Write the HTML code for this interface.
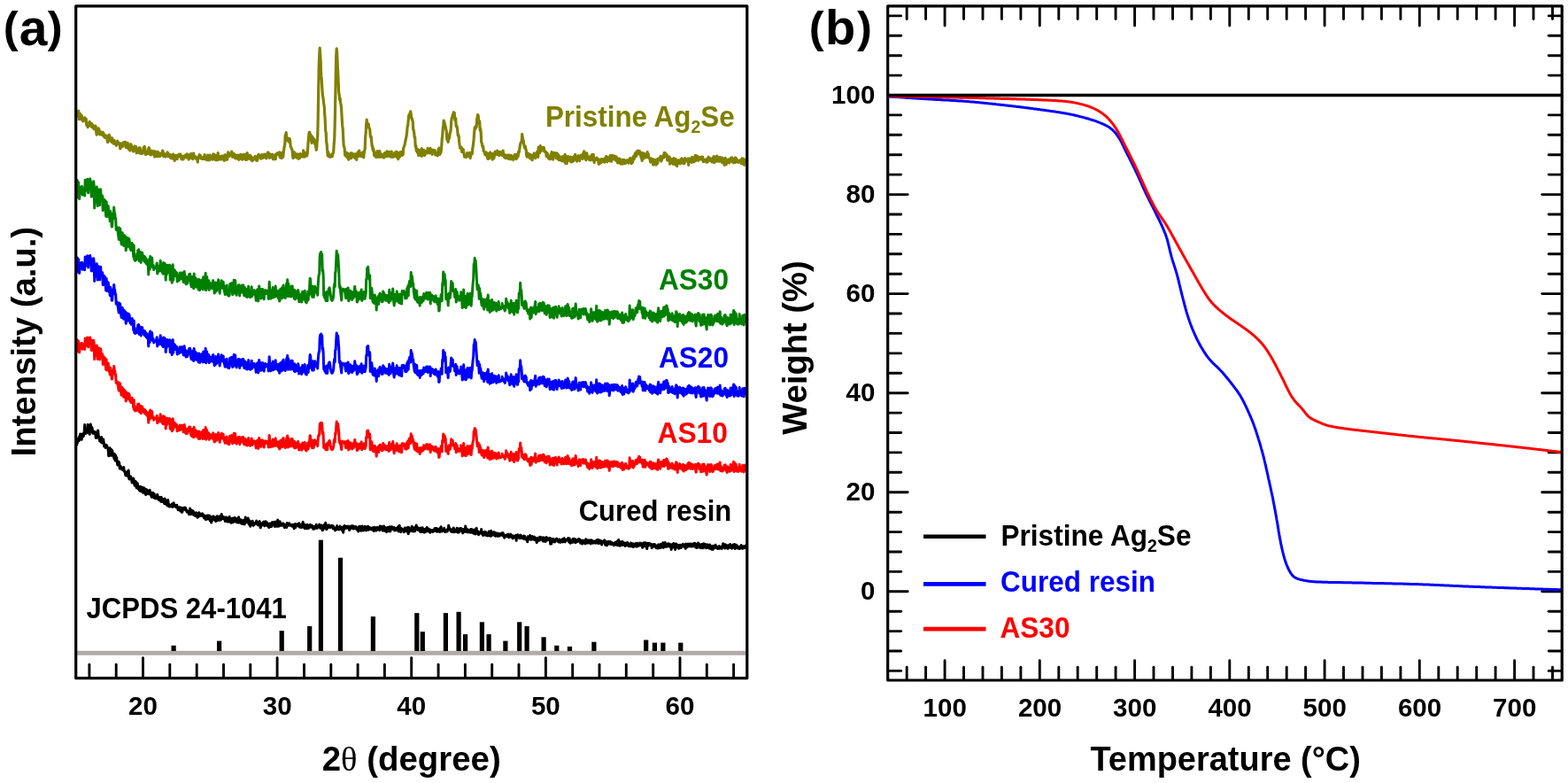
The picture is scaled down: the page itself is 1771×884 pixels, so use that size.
<!DOCTYPE html>
<html lang="en">
<head>
<meta charset="utf-8">
<title>XRD patterns and TGA curves</title>
<style>
html,body{margin:0;padding:0;background:#fff;}
body{width:1771px;height:884px;overflow:hidden;}
svg{display:block;}
</style>
</head>
<body>
<svg width="1771" height="884" viewBox="0 0 1771 884">
<rect x="0" y="0" width="1771" height="884" fill="#ffffff"/>
<g id="panelA">
<line x1="85.7" y1="737.3" x2="843.8" y2="737.3" stroke="#b0abab" stroke-width="4.9"/>
<rect x="193.5" y="728.8" width="5.2" height="6.2" fill="#000"/>
<rect x="245.0" y="723.6" width="5.2" height="11.4" fill="#000"/>
<rect x="315.6" y="712.1" width="5.2" height="22.9" fill="#000"/>
<rect x="347.1" y="706.9" width="5.2" height="28.1" fill="#000"/>
<rect x="359.8" y="609.6" width="5.2" height="125.4" fill="#000"/>
<rect x="381.9" y="629.7" width="5.2" height="105.3" fill="#000"/>
<rect x="418.8" y="696.0" width="5.2" height="39.0" fill="#000"/>
<rect x="468.2" y="692.1" width="5.2" height="42.9" fill="#000"/>
<rect x="474.7" y="713.2" width="5.2" height="21.8" fill="#000"/>
<rect x="500.8" y="692.1" width="5.2" height="42.9" fill="#000"/>
<rect x="515.5" y="690.8" width="5.2" height="44.2" fill="#000"/>
<rect x="523.0" y="716.1" width="5.2" height="18.9" fill="#000"/>
<rect x="541.8" y="702.3" width="5.2" height="32.7" fill="#000"/>
<rect x="549.5" y="716.1" width="5.2" height="18.9" fill="#000"/>
<rect x="568.3" y="723.6" width="5.2" height="11.4" fill="#000"/>
<rect x="584.1" y="702.3" width="5.2" height="32.7" fill="#000"/>
<rect x="592.5" y="706.9" width="5.2" height="28.1" fill="#000"/>
<rect x="611.5" y="719.3" width="5.2" height="15.7" fill="#000"/>
<rect x="626.2" y="728.8" width="5.2" height="6.2" fill="#000"/>
<rect x="640.9" y="729.9" width="5.2" height="5.1" fill="#000"/>
<rect x="668.3" y="724.7" width="5.2" height="10.3" fill="#000"/>
<rect x="727.1" y="722.5" width="5.2" height="12.5" fill="#000"/>
<rect x="736.8" y="725.6" width="5.2" height="9.4" fill="#000"/>
<rect x="746.3" y="725.6" width="5.2" height="9.4" fill="#000"/>
<rect x="766.2" y="725.6" width="5.2" height="9.4" fill="#000"/>
<clipPath id="clipA"><rect x="85.7" y="6.8" width="759.5999999999999" height="758.9000000000001"/></clipPath>
<g clip-path="url(#clipA)" fill="none" stroke-linejoin="round" stroke-linecap="round">
<path d="M85.7,497.6 L86.2,501.2 L86.7,502.1 L87.2,496.6 L87.7,499.5 L88.2,495.3 L88.7,497.7 L89.2,497.5 L89.7,492.8 L90.2,496.1 L90.7,490.0 L91.2,494.9 L91.7,494.0 L92.2,496.2 L92.7,489.9 L93.2,491.7 L93.7,490.4 L94.2,492.8 L94.7,490.1 L95.2,486.4 L95.7,479.5 L96.2,489.4 L96.7,484.3 L97.2,489.3 L97.7,485.3 L98.2,488.4 L98.7,487.5 L99.2,479.3 L99.7,484.2 L100.2,488.4 L100.7,481.1 L101.2,490.3 L101.7,482.8 L102.2,478.9 L102.7,481.1 L103.2,486.9 L103.7,482.4 L104.2,483.6 L104.7,489.2 L105.2,488.2 L105.7,489.2 L106.2,487.1 L106.7,489.4 L107.2,489.6 L107.7,487.8 L108.2,494.3 L108.7,489.4 L109.2,494.2 L109.7,490.0 L110.2,493.9 L110.7,485.9 L111.2,492.0 L111.7,492.8 L112.2,494.7 L112.7,498.1 L113.2,498.1 L113.7,496.4 L114.2,499.2 L114.7,493.5 L115.2,500.1 L115.7,496.0 L116.2,496.0 L116.7,495.9 L117.2,499.2 L117.7,504.0 L118.2,504.2 L118.7,502.3 L119.2,505.5 L119.7,502.3 L120.2,502.6 L120.7,503.1 L121.2,504.7 L121.7,505.5 L122.2,508.0 L122.7,514.7 L123.2,511.3 L123.7,510.9 L124.2,505.8 L124.7,510.5 L125.2,514.2 L125.7,507.4 L126.2,514.3 L126.7,508.5 L127.2,512.4 L127.7,512.1 L128.2,512.0 L128.7,516.7 L129.2,518.2 L129.7,512.7 L130.2,520.1 L130.7,514.3 L131.2,518.3 L131.7,516.4 L132.2,521.4 L132.7,524.9 L133.2,524.0 L133.7,523.9 L134.2,521.3 L134.7,522.3 L135.2,528.8 L135.7,529.1 L136.2,526.2 L136.7,528.7 L137.2,528.1 L137.7,528.5 L138.2,530.3 L138.7,530.7 L139.2,530.7 L139.7,527.6 L140.2,531.5 L140.7,532.8 L141.2,532.9 L141.7,536.4 L142.2,532.7 L142.7,535.4 L143.2,537.3 L143.7,532.7 L144.2,534.4 L144.7,535.6 L145.2,530.9 L145.7,540.4 L146.2,540.9 L146.7,537.8 L147.2,540.4 L147.7,538.0 L148.2,540.7 L148.7,542.2 L149.2,544.9 L149.7,544.2 L150.2,542.7 L150.7,540.1 L151.2,542.2 L151.7,546.8 L152.2,548.1 L152.7,546.1 L153.2,543.5 L153.7,545.9 L154.2,550.8 L154.7,551.0 L155.2,545.4 L155.7,549.2 L156.2,551.8 L156.7,550.1 L157.2,552.5 L157.7,554.0 L158.2,549.2 L158.7,554.4 L159.2,551.1 L159.7,549.8 L160.2,550.6 L160.7,555.0 L161.2,556.1 L161.7,556.2 L162.2,550.4 L162.7,555.1 L163.2,556.1 L163.7,551.7 L164.2,557.5 L164.7,558.4 L165.2,552.4 L165.7,553.0 L166.2,553.7 L166.7,555.8 L167.2,557.7 L167.7,554.4 L168.2,553.8 L168.7,554.8 L169.2,553.3 L169.7,557.5 L170.2,559.0 L170.7,556.3 L171.2,561.2 L171.7,560.4 L172.2,557.6 L172.7,556.4 L173.2,557.2 L173.7,561.9 L174.2,557.6 L174.7,562.4 L175.2,560.6 L175.7,560.2 L176.2,562.9 L176.7,562.4 L177.2,561.2 L177.7,558.3 L178.2,560.3 L178.7,562.5 L179.2,564.4 L179.7,564.1 L180.2,561.5 L180.7,562.2 L181.2,563.7 L181.7,566.2 L182.2,561.2 L182.7,566.5 L183.2,563.2 L183.7,563.2 L184.2,565.6 L184.7,566.5 L185.2,566.7 L185.7,568.6 L186.2,562.9 L186.7,566.9 L187.2,566.7 L187.7,569.4 L188.2,565.4 L188.7,567.3 L189.2,571.0 L189.7,564.5 L190.2,569.4 L190.7,569.3 L191.2,572.1 L191.7,570.2 L192.2,571.2 L192.7,571.7 L193.2,570.2 L193.7,571.9 L194.2,569.0 L194.7,571.6 L195.2,572.3 L195.7,571.9 L196.2,567.7 L196.7,570.3 L197.2,571.1 L197.7,570.6 L198.2,572.0 L198.7,570.8 L199.2,573.0 L199.7,570.2 L200.2,572.3 L200.7,573.0 L201.2,575.7 L201.7,575.6 L202.2,575.6 L202.7,572.8 L203.2,574.7 L203.7,576.8 L204.2,573.0 L204.7,577.3 L205.2,578.3 L205.7,578.2 L206.2,576.6 L206.7,573.5 L207.2,573.3 L207.7,575.3 L208.2,575.3 L208.7,573.2 L209.2,573.0 L209.7,573.7 L210.2,576.6 L210.7,575.7 L211.2,578.1 L211.7,576.7 L212.2,577.6 L212.7,579.0 L213.2,578.8 L213.7,580.8 L214.2,578.4 L214.7,574.1 L215.2,580.4 L215.7,580.4 L216.2,578.1 L216.7,576.3 L217.2,578.6 L217.7,580.3 L218.2,576.9 L218.7,581.4 L219.2,578.5 L219.7,581.2 L220.2,579.5 L220.7,582.6 L221.2,580.0 L221.7,578.9 L222.2,582.6 L222.7,583.4 L223.2,584.3 L223.7,582.5 L224.2,583.2 L224.7,578.7 L225.2,580.5 L225.7,582.4 L226.2,579.9 L226.7,581.0 L227.2,582.2 L227.7,581.2 L228.2,580.9 L228.7,579.9 L229.2,583.1 L229.7,582.2 L230.2,581.5 L230.7,585.0 L231.2,584.4 L231.7,582.4 L232.2,586.3 L232.7,586.5 L233.2,582.9 L233.7,584.9 L234.2,582.1 L234.7,585.9 L235.2,582.0 L235.7,582.2 L236.2,585.8 L236.7,582.3 L237.2,587.8 L237.7,583.5 L238.2,587.1 L238.7,589.9 L239.2,583.8 L239.7,587.7 L240.2,586.1 L240.7,583.0 L241.2,582.9 L241.7,584.4 L242.2,584.4 L242.7,587.1 L243.2,587.6 L243.7,588.5 L244.2,583.8 L244.7,588.0 L245.2,582.7 L245.7,583.9 L246.2,587.0 L246.7,583.5 L247.2,584.9 L247.7,587.4 L248.2,583.0 L248.7,586.9 L249.2,587.1 L249.7,586.5 L250.2,580.5 L250.7,584.8 L251.2,583.2 L251.7,583.3 L252.2,585.6 L252.7,585.0 L253.2,586.2 L253.7,584.0 L254.2,588.4 L254.7,586.9 L255.2,587.0 L255.7,583.9 L256.2,584.3 L256.7,589.0 L257.2,588.4 L257.7,586.0 L258.2,589.1 L258.7,588.8 L259.2,583.3 L259.7,589.0 L260.2,587.0 L260.7,587.6 L261.2,590.3 L261.7,585.6 L262.2,588.4 L262.7,589.4 L263.2,585.0 L263.7,589.4 L264.2,585.9 L264.7,586.2 L265.2,584.5 L265.7,587.6 L266.2,587.5 L266.7,589.5 L267.2,585.8 L267.7,585.5 L268.2,587.4 L268.7,590.0 L269.2,585.3 L269.7,583.8 L270.2,590.0 L270.7,589.6 L271.2,588.4 L271.7,587.7 L272.2,586.8 L272.7,591.2 L273.2,588.6 L273.7,590.3 L274.2,591.4 L274.7,587.4 L275.2,587.5 L275.7,591.7 L276.2,591.9 L276.7,588.4 L277.2,584.1 L277.7,586.2 L278.2,588.1 L278.7,589.8 L279.2,587.2 L279.7,586.6 L280.2,585.0 L280.7,588.8 L281.2,591.9 L281.7,590.7 L282.2,588.0 L282.7,594.2 L283.2,590.7 L283.7,589.7 L284.2,591.4 L284.7,592.1 L285.2,588.2 L285.7,591.8 L286.2,593.4 L286.7,592.8 L287.2,592.4 L287.7,590.6 L288.2,591.1 L288.7,590.7 L289.2,590.1 L289.7,587.9 L290.2,591.5 L290.7,589.5 L291.2,592.9 L291.7,589.5 L292.2,589.4 L292.7,589.6 L293.2,588.6 L293.7,592.9 L294.2,595.8 L294.7,593.9 L295.2,593.4 L295.7,593.0 L296.2,590.9 L296.7,590.4 L297.2,589.6 L297.7,592.0 L298.2,588.9 L298.7,593.8 L299.2,589.9 L299.7,592.3 L300.2,588.8 L300.7,592.8 L301.2,593.1 L301.7,590.1 L302.2,593.7 L302.7,591.6 L303.2,592.9 L303.7,595.5 L304.2,595.1 L304.7,591.1 L305.2,593.9 L305.7,594.3 L306.2,594.5 L306.7,594.5 L307.2,589.8 L307.7,591.9 L308.2,590.7 L308.7,589.5 L309.2,589.8 L309.7,592.2 L310.2,594.3 L310.7,594.4 L311.2,589.1 L311.7,592.9 L312.2,590.0 L312.7,592.9 L313.2,594.4 L313.7,587.1 L314.2,593.9 L314.7,590.6 L315.2,594.1 L315.7,590.2 L316.2,588.9 L316.7,593.3 L317.2,592.2 L317.7,592.4 L318.2,593.3 L318.7,592.7 L319.2,591.0 L319.7,591.5 L320.2,591.2 L320.7,593.1 L321.2,595.5 L321.7,593.8 L322.2,593.7 L322.7,594.5 L323.2,592.4 L323.7,595.4 L324.2,590.4 L324.7,593.5 L325.2,591.6 L325.7,592.7 L326.2,592.5 L326.7,590.8 L327.2,593.2 L327.7,592.6 L328.2,593.2 L328.7,592.8 L329.2,592.4 L329.7,594.2 L330.2,592.8 L330.7,593.4 L331.2,592.3 L331.7,593.0 L332.2,596.7 L332.7,592.3 L333.2,591.7 L333.7,595.6 L334.2,592.1 L334.7,592.1 L335.2,591.9 L335.7,593.1 L336.2,593.5 L336.7,594.0 L337.2,592.6 L337.7,590.8 L338.2,593.8 L338.7,595.2 L339.2,594.9 L339.7,592.2 L340.2,595.5 L340.7,594.5 L341.2,593.8 L341.7,591.5 L342.2,589.4 L342.7,595.3 L343.2,592.4 L343.7,592.0 L344.2,596.7 L344.7,595.4 L345.2,593.8 L345.7,594.9 L346.2,592.9 L346.7,596.8 L347.2,592.2 L347.7,595.4 L348.2,596.2 L348.7,596.3 L349.2,594.9 L349.7,594.0 L350.2,592.5 L350.7,594.9 L351.2,595.2 L351.7,593.0 L352.2,594.4 L352.7,593.5 L353.2,594.9 L353.7,597.2 L354.2,594.5 L354.7,596.4 L355.2,597.0 L355.7,594.8 L356.2,594.6 L356.7,594.1 L357.2,592.3 L357.7,596.2 L358.2,596.2 L358.7,595.6 L359.2,594.3 L359.7,594.1 L360.2,593.8 L360.7,592.1 L361.2,593.7 L361.7,596.3 L362.2,594.7 L362.7,594.6 L363.2,593.0 L363.7,595.6 L364.2,598.8 L364.7,594.1 L365.2,597.6 L365.7,595.6 L366.2,592.4 L366.7,595.2 L367.2,594.9 L367.7,590.2 L368.2,593.9 L368.7,597.8 L369.2,597.2 L369.7,594.4 L370.2,596.1 L370.7,593.1 L371.2,594.9 L371.7,593.0 L372.2,595.0 L372.7,595.5 L373.2,594.9 L373.7,595.2 L374.2,593.5 L374.7,594.7 L375.2,593.8 L375.7,593.5 L376.2,596.9 L376.7,594.3 L377.2,596.8 L377.7,595.8 L378.2,596.2 L378.7,598.9 L379.2,596.9 L379.7,597.8 L380.2,597.1 L380.7,593.4 L381.2,597.5 L381.7,595.3 L382.2,597.8 L382.7,595.6 L383.2,597.9 L383.7,596.8 L384.2,594.1 L384.7,595.4 L385.2,595.1 L385.7,595.5 L386.2,598.4 L386.7,598.9 L387.2,595.6 L387.7,601.2 L388.2,594.3 L388.7,597.6 L389.2,593.5 L389.7,594.5 L390.2,596.2 L390.7,595.4 L391.2,594.4 L391.7,596.2 L392.2,595.2 L392.7,595.0 L393.2,594.1 L393.7,595.7 L394.2,596.8 L394.7,598.5 L395.2,596.6 L395.7,594.4 L396.2,594.2 L396.7,596.1 L397.2,593.8 L397.7,596.3 L398.2,595.7 L398.7,593.8 L399.2,597.0 L399.7,596.4 L400.2,595.0 L400.7,596.0 L401.2,594.6 L401.7,596.7 L402.2,594.6 L402.7,597.1 L403.2,598.0 L403.7,597.7 L404.2,596.7 L404.7,600.1 L405.2,596.6 L405.7,594.2 L406.2,598.3 L406.7,596.0 L407.2,594.5 L407.7,599.3 L408.2,597.9 L408.7,598.3 L409.2,594.1 L409.7,596.7 L410.2,599.0 L410.7,597.0 L411.2,595.5 L411.7,598.6 L412.2,594.3 L412.7,597.0 L413.2,598.1 L413.7,598.8 L414.2,596.9 L414.7,595.1 L415.2,594.4 L415.7,594.2 L416.2,598.3 L416.7,596.7 L417.2,595.4 L417.7,596.9 L418.2,597.5 L418.7,597.5 L419.2,596.1 L419.7,596.2 L420.2,598.1 L420.7,596.9 L421.2,595.7 L421.7,595.7 L422.2,599.4 L422.7,597.8 L423.2,595.3 L423.7,599.1 L424.2,596.6 L424.7,596.1 L425.2,599.0 L425.7,595.6 L426.2,595.3 L426.7,596.1 L427.2,597.6 L427.7,596.0 L428.2,595.9 L428.7,598.7 L429.2,593.9 L429.7,595.2 L430.2,594.9 L430.7,596.9 L431.2,594.2 L431.7,596.9 L432.2,599.1 L432.7,596.4 L433.2,597.3 L433.7,594.1 L434.2,599.3 L434.7,598.3 L435.2,597.4 L435.7,595.8 L436.2,599.8 L436.7,600.6 L437.2,596.8 L437.7,597.8 L438.2,595.2 L438.7,599.5 L439.2,597.8 L439.7,596.0 L440.2,594.9 L440.7,600.0 L441.2,595.0 L441.7,594.8 L442.2,597.8 L442.7,594.7 L443.2,597.5 L443.7,597.0 L444.2,596.7 L444.7,596.7 L445.2,595.5 L445.7,599.1 L446.2,597.0 L446.7,596.6 L447.2,597.4 L447.7,598.4 L448.2,596.4 L448.7,598.1 L449.2,595.8 L449.7,594.5 L450.2,599.9 L450.7,596.1 L451.2,593.3 L451.7,599.6 L452.2,598.7 L452.7,600.6 L453.2,596.6 L453.7,597.7 L454.2,597.2 L454.7,597.7 L455.2,598.4 L455.7,598.9 L456.2,600.8 L456.7,597.8 L457.2,596.0 L457.7,596.2 L458.2,597.1 L458.7,599.7 L459.2,596.2 L459.7,596.7 L460.2,600.2 L460.7,595.3 L461.2,602.7 L461.7,595.4 L462.2,600.5 L462.7,596.7 L463.2,598.3 L463.7,596.7 L464.2,596.7 L464.7,599.1 L465.2,594.2 L465.7,599.8 L466.2,595.0 L466.7,599.6 L467.2,599.5 L467.7,600.0 L468.2,599.5 L468.7,599.6 L469.2,595.2 L469.7,595.3 L470.2,592.9 L470.7,596.4 L471.2,595.2 L471.7,598.2 L472.2,596.5 L472.7,596.1 L473.2,598.7 L473.7,598.6 L474.2,597.0 L474.7,600.4 L475.2,595.9 L475.7,599.9 L476.2,600.4 L476.7,597.8 L477.2,595.8 L477.7,600.3 L478.2,599.3 L478.7,600.9 L479.2,597.4 L479.7,601.0 L480.2,600.3 L480.7,598.0 L481.2,596.8 L481.7,600.1 L482.2,595.4 L482.7,597.8 L483.2,599.5 L483.7,598.4 L484.2,598.0 L484.7,597.2 L485.2,601.1 L485.7,601.2 L486.2,598.3 L486.7,599.3 L487.2,598.9 L487.7,598.7 L488.2,600.2 L488.7,600.5 L489.2,598.5 L489.7,598.1 L490.2,598.3 L490.7,599.6 L491.2,596.5 L491.7,599.5 L492.2,596.8 L492.7,596.5 L493.2,596.4 L493.7,600.3 L494.2,600.0 L494.7,599.8 L495.2,597.7 L495.7,599.1 L496.2,597.3 L496.7,600.5 L497.2,596.0 L497.7,597.7 L498.2,594.7 L498.7,598.4 L499.2,600.0 L499.7,599.4 L500.2,598.2 L500.7,598.1 L501.2,598.0 L501.7,596.3 L502.2,599.6 L502.7,600.5 L503.2,600.2 L503.7,600.1 L504.2,598.9 L504.7,599.4 L505.2,600.0 L505.7,597.2 L506.2,597.9 L506.7,593.2 L507.2,595.5 L507.7,597.1 L508.2,597.2 L508.7,598.7 L509.2,599.9 L509.7,598.1 L510.2,597.8 L510.7,600.5 L511.2,599.5 L511.7,600.4 L512.2,596.1 L512.7,596.6 L513.2,600.7 L513.7,598.4 L514.2,598.6 L514.7,600.3 L515.2,600.3 L515.7,600.0 L516.2,596.3 L516.7,600.4 L517.2,601.2 L517.7,597.0 L518.2,596.9 L518.7,600.7 L519.2,596.9 L519.7,597.9 L520.2,596.4 L520.7,596.4 L521.2,599.1 L521.7,599.5 L522.2,599.7 L522.7,601.8 L523.2,597.6 L523.7,598.0 L524.2,597.3 L524.7,600.4 L525.2,599.8 L525.7,594.1 L526.2,596.7 L526.7,600.5 L527.2,598.4 L527.7,597.6 L528.2,597.7 L528.7,601.0 L529.2,599.1 L529.7,599.9 L530.2,598.9 L530.7,599.9 L531.2,601.1 L531.7,597.6 L532.2,599.7 L532.7,597.4 L533.2,601.2 L533.7,600.9 L534.2,601.2 L534.7,598.6 L535.2,602.4 L535.7,598.1 L536.2,601.0 L536.7,600.1 L537.2,603.0 L537.7,600.3 L538.2,596.3 L538.7,602.3 L539.2,599.2 L539.7,601.8 L540.2,600.1 L540.7,603.7 L541.2,602.6 L541.7,602.3 L542.2,601.2 L542.7,600.6 L543.2,601.0 L543.7,597.6 L544.2,601.8 L544.7,603.1 L545.2,601.9 L545.7,604.5 L546.2,600.9 L546.7,601.4 L547.2,601.9 L547.7,600.4 L548.2,604.0 L548.7,600.7 L549.2,604.6 L549.7,603.2 L550.2,603.5 L550.7,602.2 L551.2,604.9 L551.7,604.0 L552.2,599.9 L552.7,604.5 L553.2,604.8 L553.7,600.8 L554.2,605.3 L554.7,599.3 L555.2,605.0 L555.7,602.9 L556.2,602.7 L556.7,602.3 L557.2,603.3 L557.7,600.8 L558.2,602.0 L558.7,604.7 L559.2,601.2 L559.7,605.2 L560.2,602.7 L560.7,604.9 L561.2,604.4 L561.7,602.0 L562.2,605.4 L562.7,605.2 L563.2,602.4 L563.7,603.2 L564.2,605.1 L564.7,603.5 L565.2,602.4 L565.7,602.5 L566.2,602.8 L566.7,604.2 L567.2,601.7 L567.7,604.5 L568.2,601.8 L568.7,605.3 L569.2,604.6 L569.7,607.2 L570.2,605.8 L570.7,604.4 L571.2,604.6 L571.7,604.5 L572.2,605.1 L572.7,605.7 L573.2,603.5 L573.7,603.1 L574.2,603.8 L574.7,606.8 L575.2,605.3 L575.7,606.4 L576.2,604.8 L576.7,603.1 L577.2,604.1 L577.7,605.0 L578.2,604.3 L578.7,607.4 L579.2,607.8 L579.7,606.6 L580.2,605.3 L580.7,605.3 L581.2,606.5 L581.7,606.9 L582.2,605.4 L582.7,604.3 L583.2,610.3 L583.7,604.3 L584.2,605.3 L584.7,603.7 L585.2,604.6 L585.7,605.5 L586.2,606.5 L586.7,607.7 L587.2,605.2 L587.7,604.1 L588.2,604.2 L588.7,607.6 L589.2,606.4 L589.7,605.9 L590.2,606.8 L590.7,606.8 L591.2,608.3 L591.7,605.1 L592.2,606.8 L592.7,605.3 L593.2,608.7 L593.7,609.0 L594.2,608.4 L594.7,608.2 L595.2,609.3 L595.7,611.8 L596.2,605.8 L596.7,608.2 L597.2,606.2 L597.7,608.7 L598.2,608.5 L598.7,604.5 L599.2,609.2 L599.7,609.2 L600.2,608.4 L600.7,608.9 L601.2,605.5 L601.7,606.0 L602.2,606.2 L602.7,608.9 L603.2,606.7 L603.7,606.2 L604.2,609.8 L604.7,607.3 L605.2,609.6 L605.7,608.2 L606.2,612.7 L606.7,610.0 L607.2,607.6 L607.7,610.6 L608.2,607.6 L608.7,608.7 L609.2,610.2 L609.7,606.3 L610.2,608.1 L610.7,608.0 L611.2,608.9 L611.7,606.7 L612.2,607.7 L612.7,607.4 L613.2,611.1 L613.7,608.5 L614.2,606.9 L614.7,611.0 L615.2,610.0 L615.7,607.4 L616.2,611.4 L616.7,609.2 L617.2,606.5 L617.7,607.3 L618.2,607.7 L618.7,609.8 L619.2,609.6 L619.7,608.5 L620.2,607.9 L620.7,607.5 L621.2,607.4 L621.7,614.2 L622.2,608.0 L622.7,613.9 L623.2,610.8 L623.7,608.9 L624.2,609.0 L624.7,608.4 L625.2,609.2 L625.7,611.8 L626.2,610.4 L626.7,611.9 L627.2,608.9 L627.7,608.8 L628.2,609.5 L628.7,608.1 L629.2,609.4 L629.7,610.6 L630.2,610.8 L630.7,611.9 L631.2,612.0 L631.7,609.1 L632.2,611.0 L632.7,612.3 L633.2,612.2 L633.7,609.8 L634.2,609.7 L634.7,609.7 L635.2,608.9 L635.7,611.9 L636.2,608.2 L636.7,608.9 L637.2,607.7 L637.7,611.1 L638.2,611.8 L638.7,610.4 L639.2,609.7 L639.7,609.4 L640.2,609.9 L640.7,609.9 L641.2,608.2 L641.7,607.5 L642.2,609.7 L642.7,612.0 L643.2,608.1 L643.7,610.2 L644.2,613.2 L644.7,610.6 L645.2,612.2 L645.7,611.2 L646.2,609.7 L646.7,612.4 L647.2,608.4 L647.7,610.8 L648.2,608.2 L648.7,612.1 L649.2,608.6 L649.7,609.8 L650.2,612.7 L650.7,609.4 L651.2,611.3 L651.7,609.7 L652.2,611.5 L652.7,609.5 L653.2,608.6 L653.7,608.5 L654.2,608.6 L654.7,611.6 L655.2,609.1 L655.7,613.2 L656.2,610.7 L656.7,611.7 L657.2,610.3 L657.7,614.0 L658.2,611.0 L658.7,610.2 L659.2,610.7 L659.7,611.0 L660.2,613.0 L660.7,613.8 L661.2,612.1 L661.7,608.7 L662.2,613.2 L662.7,609.4 L663.2,613.1 L663.7,611.0 L664.2,613.0 L664.7,610.0 L665.2,612.4 L665.7,609.9 L666.2,613.0 L666.7,610.0 L667.2,613.9 L667.7,609.7 L668.2,612.9 L668.7,611.5 L669.2,610.3 L669.7,613.2 L670.2,612.5 L670.7,611.9 L671.2,611.9 L671.7,611.1 L672.2,612.2 L672.7,613.3 L673.2,610.6 L673.7,611.9 L674.2,609.9 L674.7,610.8 L675.2,609.2 L675.7,613.6 L676.2,612.3 L676.7,612.5 L677.2,609.9 L677.7,613.0 L678.2,613.4 L678.7,610.4 L679.2,611.7 L679.7,615.0 L680.2,612.1 L680.7,611.2 L681.2,612.4 L681.7,611.4 L682.2,610.9 L682.7,609.8 L683.2,611.2 L683.7,615.3 L684.2,611.8 L684.7,611.5 L685.2,611.6 L685.7,615.7 L686.2,613.6 L686.7,614.1 L687.2,611.3 L687.7,613.2 L688.2,611.9 L688.7,614.0 L689.2,611.5 L689.7,614.3 L690.2,614.5 L690.7,612.2 L691.2,613.8 L691.7,613.8 L692.2,614.1 L692.7,615.0 L693.2,615.7 L693.7,613.1 L694.2,613.6 L694.7,612.5 L695.2,612.5 L695.7,615.1 L696.2,612.8 L696.7,611.3 L697.2,613.6 L697.7,615.7 L698.2,611.6 L698.7,609.4 L699.2,614.4 L699.7,615.6 L700.2,616.1 L700.7,612.9 L701.2,611.7 L701.7,611.8 L702.2,613.6 L702.7,615.5 L703.2,611.6 L703.7,613.2 L704.2,615.3 L704.7,613.0 L705.2,613.3 L705.7,613.0 L706.2,616.5 L706.7,613.7 L707.2,613.2 L707.7,615.1 L708.2,615.7 L708.7,612.6 L709.2,613.7 L709.7,613.5 L710.2,616.7 L710.7,616.1 L711.2,615.0 L711.7,615.0 L712.2,616.7 L712.7,613.1 L713.2,616.8 L713.7,616.0 L714.2,615.0 L714.7,613.9 L715.2,617.5 L715.7,614.0 L716.2,615.9 L716.7,614.8 L717.2,616.8 L717.7,615.5 L718.2,613.6 L718.7,615.4 L719.2,617.2 L719.7,613.3 L720.2,613.9 L720.7,616.3 L721.2,616.2 L721.7,615.4 L722.2,614.5 L722.7,613.0 L723.2,615.8 L723.7,613.8 L724.2,613.6 L724.7,615.0 L725.2,615.5 L725.7,618.3 L726.2,616.9 L726.7,612.9 L727.2,615.8 L727.7,614.8 L728.2,612.9 L728.7,616.8 L729.2,612.7 L729.7,616.9 L730.2,614.7 L730.7,619.6 L731.2,616.3 L731.7,613.3 L732.2,614.6 L732.7,615.8 L733.2,613.9 L733.7,613.6 L734.2,615.4 L734.7,615.3 L735.2,614.2 L735.7,614.5 L736.2,618.5 L736.7,616.9 L737.2,617.8 L737.7,614.6 L738.2,614.5 L738.7,615.5 L739.2,616.2 L739.7,614.6 L740.2,616.9 L740.7,618.3 L741.2,617.5 L741.7,618.8 L742.2,616.0 L742.7,618.9 L743.2,616.6 L743.7,614.9 L744.2,615.4 L744.7,618.8 L745.2,615.9 L745.7,614.8 L746.2,614.4 L746.7,618.3 L747.2,615.0 L747.7,617.3 L748.2,614.6 L748.7,612.8 L749.2,618.3 L749.7,617.6 L750.2,614.5 L750.7,615.7 L751.2,612.4 L751.7,617.3 L752.2,614.7 L752.7,616.1 L753.2,617.2 L753.7,614.1 L754.2,614.9 L754.7,616.8 L755.2,613.8 L755.7,615.2 L756.2,616.9 L756.7,614.5 L757.2,616.5 L757.7,615.2 L758.2,620.4 L758.7,615.3 L759.2,615.2 L759.7,614.4 L760.2,618.0 L760.7,613.6 L761.2,614.5 L761.7,613.9 L762.2,615.0 L762.7,620.5 L763.2,618.0 L763.7,613.9 L764.2,614.5 L764.7,615.9 L765.2,617.8 L765.7,617.0 L766.2,615.5 L766.7,619.3 L767.2,615.4 L767.7,618.4 L768.2,615.3 L768.7,617.2 L769.2,618.5 L769.7,616.1 L770.2,615.5 L770.7,616.7 L771.2,614.2 L771.7,614.8 L772.2,617.1 L772.7,615.7 L773.2,615.1 L773.7,615.7 L774.2,619.3 L774.7,614.1 L775.2,617.7 L775.7,617.9 L776.2,617.4 L776.7,615.2 L777.2,614.0 L777.7,615.7 L778.2,616.8 L778.7,614.4 L779.2,614.1 L779.7,614.0 L780.2,617.1 L780.7,615.5 L781.2,614.2 L781.7,615.9 L782.2,616.9 L782.7,615.9 L783.2,616.6 L783.7,613.6 L784.2,616.0 L784.7,613.3 L785.2,616.8 L785.7,617.7 L786.2,614.2 L786.7,618.5 L787.2,615.7 L787.7,618.2 L788.2,617.9 L788.7,612.9 L789.2,615.8 L789.7,617.7 L790.2,614.6 L790.7,615.1 L791.2,618.5 L791.7,617.4 L792.2,618.7 L792.7,614.6 L793.2,618.3 L793.7,618.7 L794.2,617.3 L794.7,613.7 L795.2,615.8 L795.7,618.0 L796.2,614.5 L796.7,614.4 L797.2,615.4 L797.7,618.7 L798.2,618.1 L798.7,616.2 L799.2,614.8 L799.7,618.2 L800.2,616.6 L800.7,618.2 L801.2,619.2 L801.7,615.0 L802.2,617.6 L802.7,617.0 L803.2,619.7 L803.7,616.7 L804.2,620.2 L804.7,619.8 L805.2,620.2 L805.7,616.3 L806.2,618.9 L806.7,618.8 L807.2,618.2 L807.7,616.6 L808.2,615.2 L808.7,618.4 L809.2,618.5 L809.7,617.3 L810.2,617.7 L810.7,619.5 L811.2,617.5 L811.7,617.0 L812.2,616.6 L812.7,619.3 L813.2,618.9 L813.7,617.4 L814.2,618.2 L814.7,617.5 L815.2,619.5 L815.7,616.7 L816.2,616.0 L816.7,613.7 L817.2,615.6 L817.7,617.3 L818.2,615.1 L818.7,619.0 L819.2,614.8 L819.7,616.5 L820.2,617.9 L820.7,615.8 L821.2,616.5 L821.7,619.3 L822.2,619.3 L822.7,615.8 L823.2,618.0 L823.7,618.2 L824.2,616.9 L824.7,614.4 L825.2,617.8 L825.7,618.5 L826.2,618.1 L826.7,619.2 L827.2,617.4 L827.7,615.1 L828.2,614.9 L828.7,615.0 L829.2,618.1 L829.7,614.6 L830.2,619.6 L830.7,615.1 L831.2,615.2 L831.7,615.2 L832.2,616.3 L832.7,616.5 L833.2,618.9 L833.7,617.3 L834.2,619.1 L834.7,617.7 L835.2,619.5 L835.7,619.5 L836.2,617.0 L836.7,618.9 L837.2,615.4 L837.7,618.6 L838.2,617.5 L838.7,619.3 L839.2,617.8 L839.7,616.7 L840.2,617.3 L840.7,618.7 L841.2,618.2 L841.7,617.0 L842.2,616.1 L842.7,617.9 L843.2,615.5 L843.7,617.7" stroke="#000000" stroke-width="3.0"/>
<path d="M85.7,395.8 L86.2,392.8 L86.7,393.8 L87.2,383.7 L87.7,385.0 L88.2,397.0 L88.7,384.9 L89.2,392.8 L89.7,397.9 L90.2,392.6 L90.7,388.7 L91.2,391.3 L91.7,392.7 L92.2,387.5 L92.7,387.7 L93.2,394.2 L93.7,391.9 L94.2,389.1 L94.7,393.2 L95.2,388.7 L95.7,394.4 L96.2,382.0 L96.7,390.4 L97.2,384.6 L97.7,382.3 L98.2,386.0 L98.7,381.0 L99.2,390.1 L99.7,391.9 L100.2,381.6 L100.7,387.0 L101.2,384.0 L101.7,380.9 L102.2,383.2 L102.7,386.2 L103.2,395.5 L103.7,387.6 L104.2,384.5 L104.7,391.2 L105.2,395.7 L105.7,384.2 L106.2,387.6 L106.7,405.7 L107.2,393.8 L107.7,401.4 L108.2,398.9 L108.7,394.1 L109.2,389.9 L109.7,392.6 L110.2,405.4 L110.7,398.1 L111.2,401.8 L111.7,393.1 L112.2,393.5 L112.7,405.9 L113.2,394.4 L113.7,393.9 L114.2,401.1 L114.7,399.1 L115.2,401.2 L115.7,399.7 L116.2,411.5 L116.7,408.4 L117.2,402.7 L117.7,408.5 L118.2,405.6 L118.7,404.3 L119.2,412.5 L119.7,417.3 L120.2,406.1 L120.7,417.9 L121.2,410.6 L121.7,416.7 L122.2,410.0 L122.7,414.2 L123.2,419.3 L123.7,417.3 L124.2,422.9 L124.7,415.2 L125.2,417.5 L125.7,417.6 L126.2,427.9 L126.7,427.9 L127.2,420.4 L127.7,422.2 L128.2,421.1 L128.7,413.6 L129.2,418.0 L129.7,418.8 L130.2,423.1 L130.7,423.1 L131.2,432.3 L131.7,432.1 L132.2,430.6 L132.7,433.2 L133.2,435.1 L133.7,437.8 L134.2,441.1 L134.7,432.1 L135.2,438.8 L135.7,433.2 L136.2,437.9 L136.7,443.5 L137.2,446.2 L137.7,445.6 L138.2,437.4 L138.7,442.1 L139.2,440.0 L139.7,448.3 L140.2,440.1 L140.7,441.8 L141.2,444.2 L141.7,441.8 L142.2,452.9 L142.7,450.6 L143.2,444.8 L143.7,448.8 L144.2,443.6 L144.7,450.5 L145.2,446.5 L145.7,444.7 L146.2,446.1 L146.7,451.8 L147.2,453.4 L147.7,450.3 L148.2,454.6 L148.7,451.4 L149.2,449.2 L149.7,451.9 L150.2,453.5 L150.7,460.4 L151.2,451.4 L151.7,462.9 L152.2,458.3 L152.7,463.9 L153.2,463.7 L153.7,461.5 L154.2,462.1 L154.7,463.2 L155.2,462.2 L155.7,456.3 L156.2,460.6 L156.7,455.9 L157.2,465.0 L157.7,464.2 L158.2,458.1 L158.7,464.6 L159.2,466.6 L159.7,458.8 L160.2,459.6 L160.7,459.1 L161.2,462.6 L161.7,464.1 L162.2,461.9 L162.7,466.0 L163.2,466.4 L163.7,462.6 L164.2,467.2 L164.7,464.1 L165.2,468.3 L165.7,465.2 L166.2,469.2 L166.7,466.5 L167.2,467.4 L167.7,477.2 L168.2,468.1 L168.7,465.3 L169.2,473.4 L169.7,463.1 L170.2,465.9 L170.7,468.7 L171.2,471.0 L171.7,464.6 L172.2,472.0 L172.7,471.9 L173.2,470.6 L173.7,474.2 L174.2,473.1 L174.7,473.2 L175.2,472.7 L175.7,472.5 L176.2,472.4 L176.7,471.3 L177.2,469.2 L177.7,477.7 L178.2,475.6 L178.7,476.1 L179.2,473.7 L179.7,476.0 L180.2,471.9 L180.7,472.8 L181.2,467.8 L181.7,472.6 L182.2,476.0 L182.7,470.5 L183.2,477.5 L183.7,474.4 L184.2,478.7 L184.7,469.8 L185.2,478.4 L185.7,473.2 L186.2,470.7 L186.7,474.9 L187.2,483.9 L187.7,475.1 L188.2,479.8 L188.7,472.3 L189.2,478.3 L189.7,472.5 L190.2,478.1 L190.7,477.9 L191.2,473.9 L191.7,472.6 L192.2,484.3 L192.7,475.4 L193.2,473.8 L193.7,474.3 L194.2,486.8 L194.7,484.0 L195.2,472.7 L195.7,485.0 L196.2,480.7 L196.7,476.8 L197.2,480.3 L197.7,477.7 L198.2,481.9 L198.7,481.4 L199.2,479.3 L199.7,479.6 L200.2,486.7 L200.7,485.6 L201.2,482.0 L201.7,481.9 L202.2,485.9 L202.7,485.5 L203.2,479.9 L203.7,481.2 L204.2,483.5 L204.7,484.9 L205.2,480.2 L205.7,480.2 L206.2,482.2 L206.7,484.1 L207.2,487.8 L207.7,486.1 L208.2,479.5 L208.7,483.4 L209.2,484.1 L209.7,488.9 L210.2,489.6 L210.7,483.9 L211.2,489.3 L211.7,489.3 L212.2,485.4 L212.7,486.5 L213.2,483.8 L213.7,482.1 L214.2,486.9 L214.7,481.9 L215.2,488.5 L215.7,490.7 L216.2,492.2 L216.7,487.6 L217.2,484.4 L217.7,492.8 L218.2,492.6 L218.7,493.8 L219.2,482.2 L219.7,491.1 L220.2,486.9 L220.7,485.7 L221.2,486.6 L221.7,493.0 L222.2,486.8 L222.7,490.8 L223.2,489.2 L223.7,489.2 L224.2,495.3 L224.7,487.1 L225.2,490.3 L225.7,495.6 L226.2,494.7 L226.7,490.2 L227.2,489.0 L227.7,487.8 L228.2,492.3 L228.7,490.0 L229.2,495.5 L229.7,485.6 L230.2,489.3 L230.7,491.5 L231.2,494.7 L231.7,495.2 L232.2,482.6 L232.7,496.2 L233.2,494.5 L233.7,485.6 L234.2,493.3 L234.7,492.4 L235.2,492.5 L235.7,488.7 L236.2,496.3 L236.7,490.3 L237.2,495.1 L237.7,492.7 L238.2,491.1 L238.7,492.6 L239.2,491.9 L239.7,495.0 L240.2,490.0 L240.7,488.8 L241.2,492.5 L241.7,495.2 L242.2,499.0 L242.7,494.4 L243.2,498.2 L243.7,490.5 L244.2,490.9 L244.7,497.0 L245.2,493.1 L245.7,491.3 L246.2,491.8 L246.7,488.4 L247.2,493.9 L247.7,496.1 L248.2,499.3 L248.7,493.6 L249.2,491.5 L249.7,495.3 L250.2,489.2 L250.7,493.0 L251.2,492.5 L251.7,493.5 L252.2,490.3 L252.7,495.8 L253.2,496.9 L253.7,498.3 L254.2,500.3 L254.7,493.9 L255.2,496.8 L255.7,494.7 L256.2,493.0 L256.7,500.5 L257.2,499.3 L257.7,501.3 L258.2,500.2 L258.7,501.6 L259.2,500.7 L259.7,492.3 L260.2,493.8 L260.7,495.7 L261.2,496.2 L261.7,491.4 L262.2,497.6 L262.7,500.7 L263.2,493.7 L263.7,499.7 L264.2,489.2 L264.7,494.8 L265.2,499.6 L265.7,489.5 L266.2,497.0 L266.7,495.8 L267.2,501.2 L267.7,495.7 L268.2,498.3 L268.7,495.9 L269.2,493.4 L269.7,499.2 L270.2,493.2 L270.7,501.7 L271.2,493.9 L271.7,494.7 L272.2,497.5 L272.7,499.2 L273.2,495.8 L273.7,493.4 L274.2,496.6 L274.7,493.4 L275.2,494.9 L275.7,501.7 L276.2,495.3 L276.7,495.5 L277.2,500.1 L277.7,502.3 L278.2,499.1 L278.7,496.7 L279.2,503.1 L279.7,497.2 L280.2,500.2 L280.7,494.4 L281.2,502.4 L281.7,501.1 L282.2,501.1 L282.7,503.2 L283.2,501.9 L283.7,500.4 L284.2,494.9 L284.7,502.5 L285.2,500.6 L285.7,499.5 L286.2,500.9 L286.7,497.9 L287.2,497.7 L287.7,500.4 L288.2,499.8 L288.7,502.3 L289.2,505.8 L289.7,503.3 L290.2,497.9 L290.7,497.2 L291.2,502.3 L291.7,506.4 L292.2,501.1 L292.7,494.5 L293.2,498.7 L293.7,500.0 L294.2,503.4 L294.7,504.3 L295.2,497.1 L295.7,501.9 L296.2,502.0 L296.7,497.0 L297.2,503.8 L297.7,500.9 L298.2,505.0 L298.7,499.8 L299.2,500.2 L299.7,497.8 L300.2,500.6 L300.7,500.2 L301.2,499.7 L301.7,498.4 L302.2,500.9 L302.7,499.8 L303.2,504.9 L303.7,500.1 L304.2,491.4 L304.7,497.4 L305.2,502.7 L305.7,504.7 L306.2,498.2 L306.7,503.3 L307.2,500.2 L307.7,504.0 L308.2,495.9 L308.7,503.9 L309.2,502.4 L309.7,500.6 L310.2,501.2 L310.7,503.3 L311.2,494.8 L311.7,503.0 L312.2,498.5 L312.7,501.0 L313.2,502.0 L313.7,499.8 L314.2,504.5 L314.7,498.7 L315.2,504.9 L315.7,506.9 L316.2,506.0 L316.7,497.5 L317.2,497.6 L317.7,497.1 L318.2,497.3 L318.7,504.7 L319.2,495.8 L319.7,495.9 L320.2,494.5 L320.7,503.8 L321.2,501.7 L321.7,501.1 L322.2,505.5 L322.7,500.7 L323.2,500.0 L323.7,494.9 L324.2,496.2 L324.7,492.0 L325.2,505.1 L325.7,494.7 L326.2,496.5 L326.7,497.6 L327.2,504.0 L327.7,498.7 L328.2,498.7 L328.7,503.7 L329.2,495.5 L329.7,501.2 L330.2,495.5 L330.7,503.3 L331.2,501.1 L331.7,502.5 L332.2,505.3 L332.7,498.5 L333.2,505.9 L333.7,499.4 L334.2,505.4 L334.7,503.7 L335.2,505.0 L335.7,499.9 L336.2,504.3 L336.7,498.6 L337.2,500.6 L337.7,508.0 L338.2,507.2 L338.7,504.2 L339.2,506.5 L339.7,505.4 L340.2,502.0 L340.7,508.2 L341.2,502.8 L341.7,500.0 L342.2,504.1 L342.7,505.1 L343.2,506.1 L343.7,505.7 L344.2,499.3 L344.7,505.2 L345.2,508.1 L345.7,505.7 L346.2,508.9 L346.7,504.3 L347.2,507.2 L347.7,500.1 L348.2,506.9 L348.7,501.1 L349.2,503.9 L349.7,497.1 L350.2,491.8 L350.7,493.3 L351.2,500.1 L351.7,499.6 L352.2,503.9 L352.7,505.8 L353.2,497.2 L353.7,501.8 L354.2,505.5 L354.7,502.5 L355.2,498.6 L355.7,496.8 L356.2,498.8 L356.7,501.0 L357.2,500.7 L357.7,501.9 L358.2,498.2 L358.7,503.7 L359.2,496.5 L359.7,492.0 L360.2,490.4 L360.7,491.5 L361.2,479.6 L361.7,477.8 L362.2,483.0 L362.7,477.2 L363.2,479.9 L363.7,477.6 L364.2,489.7 L364.7,487.5 L365.2,491.1 L365.7,505.2 L366.2,501.6 L366.7,506.0 L367.2,504.6 L367.7,506.5 L368.2,507.7 L368.7,504.2 L369.2,500.7 L369.7,507.8 L370.2,502.9 L370.7,501.6 L371.2,498.8 L371.7,497.8 L372.2,497.4 L372.7,499.6 L373.2,502.8 L373.7,504.5 L374.2,506.9 L374.7,506.0 L375.2,507.7 L375.7,506.9 L376.2,506.1 L376.7,504.2 L377.2,498.1 L377.7,495.7 L378.2,499.1 L378.7,489.1 L379.2,490.1 L379.7,482.9 L380.2,476.1 L380.7,479.5 L381.2,480.4 L381.7,478.5 L382.2,483.4 L382.7,487.8 L383.2,497.7 L383.7,499.9 L384.2,497.5 L384.7,502.0 L385.2,504.3 L385.7,507.6 L386.2,498.9 L386.7,498.3 L387.2,499.3 L387.7,499.7 L388.2,499.3 L388.7,498.7 L389.2,500.2 L389.7,500.7 L390.2,503.6 L390.7,505.7 L391.2,498.5 L391.7,500.9 L392.2,499.9 L392.7,502.9 L393.2,497.5 L393.7,507.9 L394.2,507.4 L394.7,505.4 L395.2,501.0 L395.7,499.7 L396.2,500.3 L396.7,504.2 L397.2,506.1 L397.7,506.9 L398.2,500.8 L398.7,502.0 L399.2,505.5 L399.7,503.8 L400.2,503.1 L400.7,496.4 L401.2,499.5 L401.7,500.5 L402.2,504.4 L402.7,500.5 L403.2,508.6 L403.7,508.4 L404.2,504.8 L404.7,506.9 L405.2,506.7 L405.7,501.3 L406.2,505.9 L406.7,502.7 L407.2,502.8 L407.7,500.4 L408.2,498.9 L408.7,507.7 L409.2,506.9 L409.7,505.8 L410.2,505.8 L410.7,503.5 L411.2,500.7 L411.7,504.6 L412.2,506.5 L412.7,504.7 L413.2,503.7 L413.7,493.5 L414.2,494.5 L414.7,486.7 L415.2,490.1 L415.7,485.9 L416.2,491.3 L416.7,493.9 L417.2,494.0 L417.7,490.1 L418.2,507.7 L418.7,500.3 L419.2,502.6 L419.7,498.8 L420.2,501.3 L420.7,507.5 L421.2,509.2 L421.7,504.0 L422.2,509.5 L422.7,509.9 L423.2,503.2 L423.7,504.3 L424.2,508.6 L424.7,506.6 L425.2,515.2 L425.7,505.7 L426.2,509.3 L426.7,508.8 L427.2,504.3 L427.7,510.5 L428.2,505.1 L428.7,502.8 L429.2,502.0 L429.7,505.5 L430.2,506.9 L430.7,503.2 L431.2,508.7 L431.7,502.9 L432.2,508.5 L432.7,500.6 L433.2,502.9 L433.7,501.8 L434.2,504.4 L434.7,506.7 L435.2,503.3 L435.7,507.7 L436.2,505.2 L436.7,505.7 L437.2,503.7 L437.7,508.0 L438.2,505.3 L438.7,507.9 L439.2,509.5 L439.7,499.4 L440.2,503.7 L440.7,501.5 L441.2,507.9 L441.7,505.4 L442.2,506.3 L442.7,501.8 L443.2,505.4 L443.7,498.5 L444.2,502.8 L444.7,508.9 L445.2,511.7 L445.7,504.3 L446.2,506.2 L446.7,503.2 L447.2,508.4 L447.7,508.1 L448.2,500.8 L448.7,503.4 L449.2,508.4 L449.7,503.2 L450.2,506.8 L450.7,509.7 L451.2,507.5 L451.7,503.0 L452.2,510.2 L452.7,508.0 L453.2,505.7 L453.7,510.8 L454.2,500.7 L454.7,503.7 L455.2,501.4 L455.7,501.6 L456.2,500.8 L456.7,501.6 L457.2,501.8 L457.7,506.8 L458.2,506.5 L458.7,505.0 L459.2,507.1 L459.7,499.5 L460.2,501.7 L460.7,498.0 L461.2,505.7 L461.7,497.0 L462.2,496.0 L462.7,494.8 L463.2,495.5 L463.7,500.5 L464.2,489.7 L464.7,495.5 L465.2,492.2 L465.7,494.0 L466.2,498.3 L466.7,496.6 L467.2,501.7 L467.7,503.9 L468.2,507.1 L468.7,500.3 L469.2,508.2 L469.7,506.2 L470.2,502.2 L470.7,501.0 L471.2,509.1 L471.7,509.9 L472.2,506.0 L472.7,506.2 L473.2,510.2 L473.7,507.8 L474.2,512.4 L474.7,505.6 L475.2,510.2 L475.7,509.5 L476.2,508.7 L476.7,509.4 L477.2,505.2 L477.7,505.5 L478.2,508.2 L478.7,502.7 L479.2,506.6 L479.7,506.2 L480.2,503.5 L480.7,506.5 L481.2,504.1 L481.7,501.8 L482.2,503.8 L482.7,501.9 L483.2,507.2 L483.7,502.2 L484.2,503.6 L484.7,505.7 L485.2,505.8 L485.7,501.8 L486.2,510.7 L486.7,503.6 L487.2,507.4 L487.7,503.7 L488.2,507.3 L488.7,504.9 L489.2,504.6 L489.7,506.3 L490.2,508.6 L490.7,508.0 L491.2,509.3 L491.7,505.7 L492.2,504.4 L492.7,508.1 L493.2,506.7 L493.7,509.5 L494.2,511.1 L494.7,506.8 L495.2,506.5 L495.7,516.4 L496.2,516.0 L496.7,507.7 L497.2,509.3 L497.7,508.6 L498.2,503.8 L498.7,504.8 L499.2,510.0 L499.7,497.4 L500.2,499.7 L500.7,489.9 L501.2,495.2 L501.7,493.2 L502.2,491.8 L502.7,498.2 L503.2,495.0 L503.7,509.4 L504.2,506.9 L504.7,504.5 L505.2,507.7 L505.7,508.0 L506.2,512.4 L506.7,503.0 L507.2,504.8 L507.7,505.0 L508.2,507.3 L508.7,505.1 L509.2,500.6 L509.7,495.8 L510.2,501.7 L510.7,499.4 L511.2,497.2 L511.7,503.1 L512.2,502.4 L512.7,502.4 L513.2,503.2 L513.7,506.7 L514.2,504.7 L514.7,500.6 L515.2,510.8 L515.7,505.5 L516.2,502.8 L516.7,506.9 L517.2,505.8 L517.7,508.9 L518.2,507.3 L518.7,509.7 L519.2,508.4 L519.7,507.7 L520.2,508.7 L520.7,502.8 L521.2,509.0 L521.7,509.0 L522.2,514.8 L522.7,512.5 L523.2,509.7 L523.7,500.4 L524.2,513.0 L524.7,513.9 L525.2,505.4 L525.7,508.3 L526.2,514.6 L526.7,513.8 L527.2,510.3 L527.7,504.7 L528.2,503.4 L528.7,505.7 L529.2,512.4 L529.7,511.1 L530.2,507.7 L530.7,511.2 L531.2,503.6 L531.7,507.7 L532.2,513.5 L532.7,507.3 L533.2,506.6 L533.7,501.4 L534.2,498.4 L534.7,496.9 L535.2,487.0 L535.7,488.6 L536.2,483.6 L536.7,486.6 L537.2,484.9 L537.7,489.2 L538.2,493.9 L538.7,500.1 L539.2,503.9 L539.7,503.9 L540.2,499.9 L540.7,503.7 L541.2,510.7 L541.7,502.2 L542.2,507.5 L542.7,505.2 L543.2,507.9 L543.7,511.8 L544.2,513.9 L544.7,508.7 L545.2,508.5 L545.7,511.0 L546.2,514.7 L546.7,516.5 L547.2,514.0 L547.7,508.8 L548.2,511.8 L548.7,512.6 L549.2,514.1 L549.7,511.6 L550.2,507.7 L550.7,517.1 L551.2,505.1 L551.7,512.9 L552.2,513.2 L552.7,512.2 L553.2,518.7 L553.7,509.9 L554.2,515.8 L554.7,512.8 L555.2,517.9 L555.7,509.2 L556.2,513.1 L556.7,513.9 L557.2,517.2 L557.7,516.6 L558.2,511.2 L558.7,513.1 L559.2,516.2 L559.7,513.2 L560.2,511.8 L560.7,518.1 L561.2,516.1 L561.7,512.6 L562.2,514.4 L562.7,517.0 L563.2,510.9 L563.7,517.1 L564.2,516.8 L564.7,515.7 L565.2,516.0 L565.7,516.5 L566.2,515.5 L566.7,515.9 L567.2,512.2 L567.7,515.5 L568.2,514.2 L568.7,514.5 L569.2,516.5 L569.7,514.8 L570.2,518.3 L570.7,517.4 L571.2,514.5 L571.7,508.7 L572.2,512.6 L572.7,511.2 L573.2,512.0 L573.7,513.8 L574.2,516.3 L574.7,514.5 L575.2,513.2 L575.7,520.2 L576.2,514.0 L576.7,517.0 L577.2,510.3 L577.7,516.9 L578.2,512.9 L578.7,519.5 L579.2,517.9 L579.7,518.2 L580.2,512.5 L580.7,521.6 L581.2,514.5 L581.7,518.5 L582.2,518.7 L582.7,513.7 L583.2,510.4 L583.7,517.4 L584.2,520.0 L584.7,520.0 L585.2,515.7 L585.7,517.9 L586.2,506.7 L586.7,508.5 L587.2,506.9 L587.7,500.0 L588.2,508.9 L588.7,505.1 L589.2,509.4 L589.7,516.2 L590.2,513.1 L590.7,514.2 L591.2,514.2 L591.7,518.2 L592.2,518.7 L592.7,515.0 L593.2,512.8 L593.7,513.6 L594.2,513.6 L594.7,517.0 L595.2,519.3 L595.7,518.5 L596.2,520.0 L596.7,521.2 L597.2,518.2 L597.7,520.3 L598.2,518.8 L598.7,525.5 L599.2,517.4 L599.7,516.4 L600.2,524.4 L600.7,518.3 L601.2,517.0 L601.7,518.8 L602.2,520.8 L602.7,517.9 L603.2,518.6 L603.7,516.5 L604.2,514.6 L604.7,512.1 L605.2,522.3 L605.7,517.7 L606.2,517.1 L606.7,520.6 L607.2,519.1 L607.7,517.5 L608.2,520.3 L608.7,514.6 L609.2,520.6 L609.7,517.5 L610.2,513.9 L610.7,514.2 L611.2,516.7 L611.7,515.6 L612.2,519.7 L612.7,519.3 L613.2,513.3 L613.7,516.0 L614.2,513.5 L614.7,519.5 L615.2,521.7 L615.7,515.7 L616.2,516.9 L616.7,522.1 L617.2,522.6 L617.7,519.0 L618.2,519.6 L618.7,515.3 L619.2,520.6 L619.7,520.6 L620.2,515.3 L620.7,520.6 L621.2,524.9 L621.7,519.1 L622.2,518.0 L622.7,520.3 L623.2,520.9 L623.7,518.0 L624.2,524.7 L624.7,517.3 L625.2,518.6 L625.7,525.4 L626.2,516.9 L626.7,522.4 L627.2,520.0 L627.7,516.4 L628.2,518.9 L628.7,521.6 L629.2,524.9 L629.7,518.6 L630.2,521.7 L630.7,521.4 L631.2,516.1 L631.7,521.7 L632.2,521.2 L632.7,518.0 L633.2,520.0 L633.7,518.3 L634.2,524.0 L634.7,521.7 L635.2,517.4 L635.7,523.3 L636.2,523.0 L636.7,523.7 L637.2,521.8 L637.7,519.1 L638.2,519.5 L638.7,516.2 L639.2,520.8 L639.7,523.8 L640.2,520.2 L640.7,516.3 L641.2,514.6 L641.7,516.3 L642.2,523.5 L642.7,517.4 L643.2,520.0 L643.7,523.9 L644.2,521.8 L644.7,520.7 L645.2,523.0 L645.7,525.7 L646.2,525.3 L646.7,518.2 L647.2,517.9 L647.7,525.1 L648.2,518.3 L648.7,524.1 L649.2,524.7 L649.7,518.3 L650.2,514.4 L650.7,519.8 L651.2,522.9 L651.7,522.1 L652.2,521.4 L652.7,523.5 L653.2,526.4 L653.7,522.8 L654.2,518.8 L654.7,523.9 L655.2,524.3 L655.7,525.5 L656.2,521.2 L656.7,518.9 L657.2,521.9 L657.7,520.9 L658.2,521.0 L658.7,518.5 L659.2,523.1 L659.7,522.1 L660.2,522.6 L660.7,519.3 L661.2,518.9 L661.7,520.1 L662.2,524.3 L662.7,522.4 L663.2,523.6 L663.7,527.8 L664.2,523.6 L664.7,525.8 L665.2,523.7 L665.7,529.4 L666.2,526.6 L666.7,524.4 L667.2,525.2 L667.7,518.8 L668.2,528.0 L668.7,527.9 L669.2,528.3 L669.7,523.1 L670.2,521.5 L670.7,525.8 L671.2,525.2 L671.7,526.2 L672.2,521.3 L672.7,525.4 L673.2,527.3 L673.7,516.3 L674.2,527.0 L674.7,529.0 L675.2,527.9 L675.7,526.5 L676.2,522.3 L676.7,520.0 L677.2,528.0 L677.7,524.2 L678.2,520.5 L678.7,528.1 L679.2,524.5 L679.7,521.8 L680.2,527.3 L680.7,521.7 L681.2,524.6 L681.7,522.2 L682.2,522.2 L682.7,527.0 L683.2,524.8 L683.7,520.0 L684.2,523.4 L684.7,521.7 L685.2,525.8 L685.7,527.0 L686.2,519.9 L686.7,523.4 L687.2,521.1 L687.7,521.5 L688.2,531.3 L688.7,528.2 L689.2,522.4 L689.7,525.3 L690.2,523.5 L690.7,521.4 L691.2,526.1 L691.7,521.8 L692.2,526.3 L692.7,526.6 L693.2,521.1 L693.7,524.9 L694.2,521.1 L694.7,525.8 L695.2,521.4 L695.7,525.1 L696.2,525.0 L696.7,524.5 L697.2,521.4 L697.7,526.9 L698.2,522.6 L698.7,526.7 L699.2,524.4 L699.7,524.4 L700.2,527.0 L700.7,523.8 L701.2,528.1 L701.7,525.8 L702.2,528.8 L702.7,522.2 L703.2,530.4 L703.7,525.2 L704.2,524.4 L704.7,530.1 L705.2,525.7 L705.7,524.8 L706.2,525.3 L706.7,523.3 L707.2,526.6 L707.7,528.2 L708.2,527.3 L708.7,526.2 L709.2,528.5 L709.7,529.2 L710.2,527.6 L710.7,528.6 L711.2,516.8 L711.7,525.8 L712.2,527.1 L712.7,524.0 L713.2,520.7 L713.7,525.0 L714.2,522.4 L714.7,520.4 L715.2,528.1 L715.7,526.7 L716.2,524.5 L716.7,525.4 L717.2,524.6 L717.7,522.9 L718.2,519.4 L718.7,520.8 L719.2,522.7 L719.7,523.3 L720.2,519.0 L720.7,517.5 L721.2,519.7 L721.7,515.3 L722.2,521.8 L722.7,515.9 L723.2,520.9 L723.7,521.3 L724.2,519.9 L724.7,520.4 L725.2,523.5 L725.7,519.2 L726.2,527.2 L726.7,523.3 L727.2,519.4 L727.7,526.6 L728.2,519.3 L728.7,527.3 L729.2,522.9 L729.7,521.7 L730.2,523.5 L730.7,524.9 L731.2,524.2 L731.7,523.1 L732.2,524.5 L732.7,524.6 L733.2,526.8 L733.7,522.5 L734.2,521.2 L734.7,528.4 L735.2,521.6 L735.7,526.5 L736.2,525.7 L736.7,529.6 L737.2,524.9 L737.7,522.9 L738.2,522.7 L738.7,523.5 L739.2,528.4 L739.7,524.4 L740.2,528.2 L740.7,528.8 L741.2,523.6 L741.7,529.4 L742.2,525.8 L742.7,530.3 L743.2,521.4 L743.7,518.9 L744.2,526.5 L744.7,523.2 L745.2,524.8 L745.7,529.2 L746.2,524.2 L746.7,521.4 L747.2,522.2 L747.7,525.0 L748.2,526.3 L748.7,525.6 L749.2,522.0 L749.7,519.4 L750.2,526.5 L750.7,519.5 L751.2,519.3 L751.7,525.3 L752.2,520.5 L752.7,518.0 L753.2,518.1 L753.7,522.9 L754.2,520.2 L754.7,529.3 L755.2,529.1 L755.7,523.0 L756.2,528.1 L756.7,524.8 L757.2,527.0 L757.7,527.0 L758.2,528.0 L758.7,525.6 L759.2,523.1 L759.7,528.9 L760.2,525.6 L760.7,527.6 L761.2,528.3 L761.7,527.5 L762.2,530.0 L762.7,524.4 L763.2,526.5 L763.7,521.7 L764.2,522.2 L764.7,523.6 L765.2,533.5 L765.7,525.3 L766.2,525.7 L766.7,529.0 L767.2,524.2 L767.7,523.7 L768.2,528.5 L768.7,527.9 L769.2,527.9 L769.7,529.5 L770.2,528.2 L770.7,524.7 L771.2,530.9 L771.7,524.5 L772.2,532.1 L772.7,526.2 L773.2,525.3 L773.7,526.6 L774.2,526.1 L774.7,530.5 L775.2,530.1 L775.7,529.6 L776.2,524.9 L776.7,526.5 L777.2,523.0 L777.7,528.7 L778.2,522.2 L778.7,526.1 L779.2,522.9 L779.7,529.2 L780.2,523.4 L780.7,524.3 L781.2,524.4 L781.7,524.3 L782.2,529.6 L782.7,525.8 L783.2,527.5 L783.7,528.5 L784.2,525.9 L784.7,524.7 L785.2,524.3 L785.7,531.0 L786.2,533.1 L786.7,525.1 L787.2,526.1 L787.7,524.0 L788.2,524.8 L788.7,523.1 L789.2,525.2 L789.7,529.6 L790.2,524.2 L790.7,529.1 L791.2,527.3 L791.7,532.8 L792.2,527.3 L792.7,526.7 L793.2,532.2 L793.7,524.3 L794.2,528.7 L794.7,532.0 L795.2,524.1 L795.7,529.2 L796.2,529.6 L796.7,527.4 L797.2,526.9 L797.7,533.5 L798.2,536.1 L798.7,527.5 L799.2,530.1 L799.7,524.6 L800.2,526.6 L800.7,525.1 L801.2,529.3 L801.7,532.5 L802.2,524.8 L802.7,524.5 L803.2,524.5 L803.7,526.7 L804.2,525.8 L804.7,532.7 L805.2,530.7 L805.7,531.7 L806.2,528.2 L806.7,530.0 L807.2,528.9 L807.7,525.2 L808.2,528.3 L808.7,525.0 L809.2,526.5 L809.7,529.7 L810.2,524.3 L810.7,523.9 L811.2,529.9 L811.7,527.3 L812.2,524.3 L812.7,525.8 L813.2,522.0 L813.7,531.5 L814.2,528.0 L814.7,526.8 L815.2,528.0 L815.7,532.0 L816.2,531.8 L816.7,528.8 L817.2,530.9 L817.7,529.8 L818.2,525.3 L818.7,529.6 L819.2,524.8 L819.7,529.5 L820.2,530.5 L820.7,532.2 L821.2,533.4 L821.7,526.8 L822.2,532.0 L822.7,528.4 L823.2,529.5 L823.7,528.4 L824.2,532.2 L824.7,527.5 L825.2,524.6 L825.7,531.4 L826.2,531.2 L826.7,529.9 L827.2,524.7 L827.7,525.6 L828.2,523.2 L828.7,521.4 L829.2,532.6 L829.7,522.4 L830.2,531.3 L830.7,526.4 L831.2,523.9 L831.7,527.3 L832.2,528.1 L832.7,532.2 L833.2,531.5 L833.7,531.0 L834.2,532.3 L834.7,531.4 L835.2,524.3 L835.7,530.0 L836.2,527.8 L836.7,529.1 L837.2,529.1 L837.7,532.3 L838.2,531.7 L838.7,525.5 L839.2,529.3 L839.7,530.6 L840.2,532.9 L840.7,525.0 L841.2,525.1 L841.7,530.3 L842.2,529.4 L842.7,529.6 L843.2,531.2 L843.7,527.8" stroke="#ff0000" stroke-width="3.0"/>
<path d="M85.7,305.3 L86.2,301.7 L86.7,303.1 L87.2,290.9 L87.7,292.6 L88.2,307.2 L88.7,292.7 L89.2,302.2 L89.7,308.4 L90.2,302.0 L90.7,297.5 L91.2,300.6 L91.7,302.4 L92.2,296.2 L92.7,296.4 L93.2,304.3 L93.7,301.6 L94.2,298.3 L94.7,303.3 L95.2,297.8 L95.7,304.8 L96.2,289.9 L96.7,300.1 L97.2,293.2 L97.7,290.4 L98.2,294.8 L98.7,288.8 L99.2,299.8 L99.7,301.9 L100.2,289.5 L100.7,295.9 L101.2,292.3 L101.7,288.5 L102.2,291.2 L102.7,294.8 L103.2,305.9 L103.7,296.3 L104.2,292.5 L104.7,300.5 L105.2,305.8 L105.7,291.8 L106.2,295.8 L106.7,317.4 L107.2,302.9 L107.7,312.0 L108.2,308.8 L108.7,302.9 L109.2,297.7 L109.7,300.9 L110.2,316.1 L110.7,307.2 L111.2,311.5 L111.7,300.8 L112.2,301.2 L112.7,316.0 L113.2,302.1 L113.7,301.3 L114.2,309.8 L114.7,307.3 L115.2,309.8 L115.7,307.7 L116.2,321.8 L116.7,318.1 L117.2,311.1 L117.7,317.9 L118.2,314.3 L118.7,312.7 L119.2,322.3 L119.7,328.0 L120.2,314.4 L120.7,328.5 L121.2,319.6 L121.7,326.8 L122.2,318.7 L122.7,323.5 L123.2,329.6 L123.7,327.0 L124.2,333.7 L124.7,324.3 L125.2,326.9 L125.7,326.9 L126.2,339.2 L126.7,339.1 L127.2,329.9 L127.7,332.0 L128.2,330.5 L128.7,321.4 L129.2,326.5 L129.7,327.3 L130.2,332.4 L130.7,332.3 L131.2,343.3 L131.7,342.9 L132.2,340.9 L132.7,344.0 L133.2,346.1 L133.7,349.3 L134.2,353.1 L134.7,342.1 L135.2,350.1 L135.7,343.1 L136.2,348.7 L136.7,355.3 L137.2,358.4 L137.7,357.6 L138.2,347.5 L138.7,353.1 L139.2,350.4 L139.7,360.3 L140.2,350.3 L140.7,352.2 L141.2,355.0 L141.7,352.0 L142.2,365.3 L142.7,362.4 L143.2,355.3 L143.7,360.0 L144.2,353.7 L144.7,361.9 L145.2,356.9 L145.7,354.7 L146.2,356.3 L146.7,363.1 L147.2,364.9 L147.7,361.0 L148.2,366.2 L148.7,362.3 L149.2,359.5 L149.7,362.7 L150.2,364.5 L150.7,372.7 L151.2,361.9 L151.7,375.6 L152.2,370.0 L152.7,376.6 L153.2,376.4 L153.7,373.6 L154.2,374.3 L154.7,375.5 L155.2,374.2 L155.7,367.1 L156.2,372.1 L156.7,366.5 L157.2,377.4 L157.7,376.3 L158.2,369.0 L158.7,376.7 L159.2,379.0 L159.7,369.6 L160.2,370.5 L160.7,369.8 L161.2,374.1 L161.7,375.8 L162.2,373.1 L162.7,378.0 L163.2,378.5 L163.7,373.8 L164.2,379.3 L164.7,375.5 L165.2,380.5 L165.7,376.8 L166.2,381.5 L166.7,378.2 L167.2,379.2 L167.7,391.0 L168.2,380.1 L168.7,376.6 L169.2,386.4 L169.7,373.9 L170.2,377.2 L170.7,380.6 L171.2,383.3 L171.7,375.5 L172.2,384.4 L172.7,384.2 L173.2,382.6 L173.7,386.9 L174.2,385.6 L174.7,385.8 L175.2,385.1 L175.7,384.7 L176.2,384.6 L176.7,383.3 L177.2,380.7 L177.7,390.9 L178.2,388.4 L178.7,388.9 L179.2,386.0 L179.7,388.7 L180.2,383.7 L180.7,384.8 L181.2,378.7 L181.7,384.4 L182.2,388.5 L182.7,381.9 L183.2,390.2 L183.7,386.5 L184.2,391.6 L184.7,380.9 L185.2,391.2 L185.7,384.8 L186.2,381.8 L186.7,386.8 L187.2,397.6 L187.7,387.0 L188.2,392.7 L188.7,383.6 L189.2,390.7 L189.7,383.7 L190.2,390.5 L190.7,390.1 L191.2,385.3 L191.7,383.7 L192.2,397.8 L192.7,387.0 L193.2,385.0 L193.7,385.6 L194.2,400.6 L194.7,397.2 L195.2,383.5 L195.7,398.3 L196.2,393.1 L196.7,388.4 L197.2,392.5 L197.7,389.4 L198.2,394.4 L198.7,393.7 L199.2,391.1 L199.7,391.6 L200.2,400.0 L200.7,398.6 L201.2,394.3 L201.7,394.1 L202.2,398.9 L202.7,398.4 L203.2,391.7 L203.7,393.1 L204.2,395.9 L204.7,397.6 L205.2,391.8 L205.7,391.8 L206.2,394.2 L206.7,396.5 L207.2,400.9 L207.7,398.8 L208.2,390.8 L208.7,395.4 L209.2,396.3 L209.7,402.0 L210.2,402.9 L210.7,395.9 L211.2,402.4 L211.7,402.4 L212.2,397.7 L212.7,399.0 L213.2,395.7 L213.7,393.5 L214.2,399.3 L214.7,393.3 L215.2,401.3 L215.7,403.8 L216.2,405.7 L216.7,400.1 L217.2,396.2 L217.7,406.3 L218.2,406.0 L218.7,407.5 L219.2,393.4 L219.7,404.1 L220.2,399.0 L220.7,397.5 L221.2,398.6 L221.7,406.3 L222.2,398.8 L222.7,403.6 L223.2,401.6 L223.7,401.7 L224.2,408.9 L224.7,399.1 L225.2,402.9 L225.7,409.3 L226.2,408.1 L226.7,402.7 L227.2,401.3 L227.7,399.7 L228.2,405.1 L228.7,402.4 L229.2,409.0 L229.7,397.1 L230.2,401.5 L230.7,404.1 L231.2,407.9 L231.7,408.6 L232.2,393.3 L232.7,409.7 L233.2,407.6 L233.7,396.9 L234.2,406.1 L234.7,405.0 L235.2,405.2 L235.7,400.5 L236.2,409.6 L236.7,402.4 L237.2,408.2 L237.7,405.3 L238.2,403.4 L238.7,405.2 L239.2,404.3 L239.7,408.0 L240.2,402.0 L240.7,400.5 L241.2,404.9 L241.7,408.2 L242.2,412.7 L242.7,407.2 L243.2,411.8 L243.7,402.5 L244.2,403.0 L244.7,410.3 L245.2,405.6 L245.7,403.4 L246.2,404.0 L246.7,399.9 L247.2,406.5 L247.7,409.2 L248.2,413.0 L248.7,406.2 L249.2,403.6 L249.7,408.2 L250.2,400.8 L250.7,405.4 L251.2,404.8 L251.7,405.9 L252.2,402.1 L252.7,408.7 L253.2,410.0 L253.7,411.7 L254.2,414.1 L254.7,406.3 L255.2,409.8 L255.7,407.4 L256.2,405.2 L256.7,414.3 L257.2,412.8 L257.7,415.3 L258.2,414.0 L258.7,415.5 L259.2,414.5 L259.7,404.3 L260.2,406.2 L260.7,408.5 L261.2,409.1 L261.7,403.2 L262.2,410.8 L262.7,414.4 L263.2,406.1 L263.7,413.3 L264.2,400.5 L264.7,407.3 L265.2,413.1 L265.7,400.9 L266.2,409.9 L266.7,408.5 L267.2,415.0 L267.7,408.3 L268.2,411.5 L268.7,408.6 L269.2,405.5 L269.7,412.5 L270.2,405.4 L270.7,415.5 L271.2,406.1 L271.7,407.1 L272.2,410.4 L272.7,412.5 L273.2,408.4 L273.7,405.5 L274.2,409.3 L274.7,405.4 L275.2,407.2 L275.7,415.4 L276.2,407.8 L276.7,408.0 L277.2,413.5 L277.7,416.2 L278.2,412.3 L278.7,409.4 L279.2,417.1 L279.7,410.1 L280.2,413.6 L280.7,406.6 L281.2,416.2 L281.7,414.7 L282.2,414.6 L282.7,417.2 L283.2,415.7 L283.7,413.8 L284.2,407.2 L284.7,416.3 L285.2,414.0 L285.7,412.7 L286.2,414.3 L286.7,410.7 L287.2,410.4 L287.7,413.7 L288.2,413.0 L288.7,416.0 L289.2,420.2 L289.7,417.2 L290.2,410.7 L290.7,409.8 L291.2,415.9 L291.7,420.9 L292.2,414.5 L292.7,406.5 L293.2,411.7 L293.7,413.2 L294.2,417.2 L294.7,418.3 L295.2,409.7 L295.7,415.4 L296.2,415.5 L296.7,409.6 L297.2,417.7 L297.7,414.2 L298.2,419.1 L298.7,412.8 L299.2,413.4 L299.7,410.4 L300.2,413.9 L300.7,413.4 L301.2,412.7 L301.7,411.2 L302.2,414.1 L302.7,412.8 L303.2,418.9 L303.7,413.1 L304.2,402.7 L304.7,409.8 L305.2,416.2 L305.7,418.7 L306.2,410.8 L306.7,417.0 L307.2,413.3 L307.7,417.7 L308.2,408.0 L308.7,417.7 L309.2,415.9 L309.7,413.7 L310.2,414.3 L310.7,416.8 L311.2,406.7 L311.7,416.5 L312.2,411.1 L312.7,414.1 L313.2,415.3 L313.7,412.7 L314.2,418.3 L314.7,411.3 L315.2,418.8 L315.7,421.2 L316.2,420.1 L316.7,409.8 L317.2,409.9 L317.7,409.3 L318.2,409.6 L318.7,418.4 L319.2,407.7 L319.7,407.9 L320.2,406.1 L320.7,417.2 L321.2,414.6 L321.7,413.7 L322.2,418.6 L322.7,412.4 L323.2,411.2 L323.7,404.8 L324.2,406.4 L324.7,401.4 L325.2,417.2 L325.7,404.9 L326.2,407.4 L326.7,409.0 L327.2,417.0 L327.7,410.8 L328.2,410.9 L328.7,417.1 L329.2,407.2 L329.7,414.0 L330.2,407.2 L330.7,416.6 L331.2,413.9 L331.7,415.6 L332.2,419.0 L332.7,410.8 L333.2,419.7 L333.7,411.8 L334.2,419.1 L334.7,417.0 L335.2,418.6 L335.7,412.4 L336.2,417.8 L336.7,410.8 L337.2,413.2 L337.7,422.1 L338.2,421.2 L338.7,417.6 L339.2,420.4 L339.7,419.0 L340.2,414.9 L340.7,422.4 L341.2,415.8 L341.7,412.5 L342.2,417.4 L342.7,418.6 L343.2,419.8 L343.7,419.3 L344.2,411.6 L344.7,418.7 L345.2,422.2 L345.7,419.3 L346.2,423.1 L346.7,417.6 L347.2,421.0 L347.7,412.5 L348.2,420.4 L348.7,413.0 L349.2,415.9 L349.7,407.1 L350.2,400.4 L350.7,402.2 L351.2,410.4 L351.7,409.9 L352.2,415.5 L352.7,418.0 L353.2,407.8 L353.7,413.5 L354.2,418.0 L354.7,414.4 L355.2,409.8 L355.7,407.8 L356.2,410.3 L356.7,413.1 L357.2,412.8 L357.7,414.3 L358.2,409.7 L358.7,416.1 L359.2,406.9 L359.7,400.6 L360.2,397.4 L360.7,397.2 L361.2,381.3 L361.7,378.2 L362.2,384.0 L362.7,377.0 L363.2,380.6 L363.7,378.7 L364.2,394.4 L364.7,393.1 L365.2,398.7 L365.7,416.8 L366.2,413.1 L366.7,418.9 L367.2,417.3 L367.7,419.7 L368.2,421.3 L368.7,417.0 L369.2,412.9 L369.7,421.4 L370.2,415.6 L370.7,414.0 L371.2,410.6 L371.7,409.4 L372.2,408.9 L372.7,411.6 L373.2,415.5 L373.7,417.5 L374.2,420.3 L374.7,419.2 L375.2,421.3 L375.7,420.2 L376.2,419.2 L376.7,416.8 L377.2,409.1 L377.7,405.5 L378.2,408.7 L378.7,395.2 L379.2,394.9 L379.7,384.9 L380.2,376.0 L380.7,379.9 L381.2,381.1 L381.7,379.3 L382.2,386.1 L382.7,392.6 L383.2,405.9 L383.7,409.7 L384.2,407.7 L384.7,413.7 L385.2,416.8 L385.7,421.0 L386.2,410.7 L386.7,410.0 L387.2,411.2 L387.7,411.7 L388.2,411.3 L388.7,410.5 L389.2,412.3 L389.7,412.9 L390.2,416.5 L390.7,419.0 L391.2,410.3 L391.7,413.2 L392.2,412.0 L392.7,415.7 L393.2,409.1 L393.7,421.6 L394.2,421.0 L394.7,418.6 L395.2,413.4 L395.7,411.8 L396.2,412.5 L396.7,417.2 L397.2,419.5 L397.7,420.5 L398.2,413.2 L398.7,414.5 L399.2,418.8 L399.7,416.8 L400.2,415.9 L400.7,407.8 L401.2,411.5 L401.7,412.7 L402.2,417.4 L402.7,412.7 L403.2,422.5 L403.7,422.3 L404.2,417.9 L404.7,420.4 L405.2,420.2 L405.7,413.7 L406.2,419.3 L406.7,415.3 L407.2,415.4 L407.7,412.6 L408.2,410.8 L408.7,421.3 L409.2,420.4 L409.7,419.1 L410.2,419.1 L410.7,416.4 L411.2,412.9 L411.7,417.6 L412.2,419.7 L412.7,417.0 L413.2,414.9 L413.7,401.6 L414.2,401.6 L414.7,391.6 L415.2,395.5 L415.7,390.5 L416.2,397.3 L416.7,401.0 L417.2,401.8 L417.7,397.8 L418.2,419.5 L418.7,410.9 L419.2,413.9 L419.7,409.6 L420.2,412.8 L420.7,420.5 L421.2,422.9 L421.7,416.7 L422.2,423.4 L422.7,424.0 L423.2,415.9 L423.7,417.2 L424.2,422.4 L424.7,420.0 L425.2,430.4 L425.7,418.9 L426.2,423.3 L426.7,422.7 L427.2,417.2 L427.7,424.7 L428.2,418.1 L428.7,415.3 L429.2,414.4 L429.7,418.7 L430.2,420.4 L430.7,415.8 L431.2,422.4 L431.7,415.5 L432.2,422.3 L432.7,412.7 L433.2,415.5 L433.7,414.2 L434.2,417.3 L434.7,420.0 L435.2,416.0 L435.7,421.3 L436.2,418.3 L436.7,418.8 L437.2,416.4 L437.7,421.6 L438.2,418.3 L438.7,421.5 L439.2,423.4 L439.7,411.2 L440.2,416.4 L440.7,413.8 L441.2,421.4 L441.7,418.5 L442.2,419.5 L442.7,414.1 L443.2,418.4 L443.7,410.1 L444.2,415.3 L444.7,422.7 L445.2,426.0 L445.7,417.0 L446.2,419.3 L446.7,415.7 L447.2,422.0 L447.7,421.6 L448.2,412.7 L448.7,416.0 L449.2,421.9 L449.7,415.6 L450.2,420.0 L450.7,423.4 L451.2,420.8 L451.7,415.3 L452.2,424.0 L452.7,421.3 L453.2,418.5 L453.7,424.6 L454.2,412.5 L454.7,416.1 L455.2,413.2 L455.7,413.4 L456.2,412.4 L456.7,413.3 L457.2,413.5 L457.7,419.4 L458.2,419.0 L458.7,417.1 L459.2,419.5 L459.7,410.2 L460.2,412.7 L460.7,408.2 L461.2,417.2 L461.7,406.6 L462.2,405.1 L462.7,403.4 L463.2,403.6 L463.7,409.1 L464.2,395.6 L464.7,402.5 L465.2,398.7 L465.7,401.4 L466.2,407.3 L466.7,405.8 L467.2,412.3 L467.7,415.2 L468.2,419.2 L468.7,411.2 L469.2,420.8 L469.7,418.6 L470.2,413.7 L470.7,412.4 L471.2,422.2 L471.7,423.2 L472.2,418.6 L472.7,418.8 L473.2,423.8 L473.7,420.9 L474.2,426.4 L474.7,418.3 L475.2,423.9 L475.7,423.1 L476.2,422.1 L476.7,423.0 L477.2,417.9 L477.7,418.3 L478.2,421.6 L478.7,415.0 L479.2,419.7 L479.7,419.2 L480.2,416.0 L480.7,419.5 L481.2,416.7 L481.7,413.9 L482.2,416.3 L482.7,414.0 L483.2,420.4 L483.7,414.3 L484.2,416.0 L484.7,418.6 L485.2,418.8 L485.7,413.9 L486.2,424.6 L486.7,416.1 L487.2,420.7 L487.7,416.2 L488.2,420.5 L488.7,417.6 L489.2,417.3 L489.7,419.3 L490.2,422.1 L490.7,421.3 L491.2,422.9 L491.7,418.6 L492.2,417.0 L492.7,421.5 L493.2,419.8 L493.7,423.1 L494.2,425.1 L494.7,419.9 L495.2,419.6 L495.7,431.5 L496.2,431.0 L496.7,421.0 L497.2,422.9 L497.7,421.9 L498.2,415.9 L498.7,416.7 L499.2,422.2 L499.7,406.2 L500.2,408.1 L500.7,395.5 L501.2,401.7 L501.7,399.3 L502.2,397.8 L502.7,405.9 L503.2,402.8 L503.7,420.8 L504.2,418.6 L504.7,416.2 L505.2,420.5 L505.7,421.0 L506.2,426.5 L506.7,415.1 L507.2,417.2 L507.7,417.1 L508.2,419.5 L508.7,416.3 L509.2,410.3 L509.7,404.1 L510.2,411.1 L510.7,408.4 L511.2,405.9 L511.7,413.3 L512.2,412.9 L512.7,413.2 L513.2,414.4 L513.7,418.8 L514.2,416.4 L514.7,411.3 L515.2,423.5 L515.7,417.1 L516.2,413.7 L516.7,418.6 L517.2,417.2 L517.7,421.0 L518.2,419.1 L518.7,422.0 L519.2,420.5 L519.7,419.7 L520.2,421.1 L520.7,414.0 L521.2,421.7 L521.7,421.7 L522.2,428.9 L522.7,426.1 L523.2,422.9 L523.7,411.7 L524.2,426.8 L524.7,428.0 L525.2,417.7 L525.7,421.2 L526.2,428.8 L526.7,427.8 L527.2,423.6 L527.7,416.9 L528.2,415.2 L528.7,418.0 L529.2,426.0 L529.7,424.4 L530.2,420.3 L530.7,424.5 L531.2,415.3 L531.7,420.2 L532.2,427.0 L532.7,419.4 L533.2,418.2 L533.7,411.1 L534.2,406.1 L534.7,402.6 L535.2,389.0 L535.7,389.9 L536.2,383.6 L536.7,387.4 L537.2,386.0 L537.7,392.3 L538.2,399.2 L538.7,407.6 L539.2,412.6 L539.7,412.7 L540.2,408.0 L540.7,412.7 L541.2,421.3 L541.7,411.3 L542.2,417.9 L542.7,415.6 L543.2,419.3 L543.7,424.3 L544.2,427.2 L544.7,421.1 L545.2,420.9 L545.7,424.0 L546.2,428.5 L546.7,430.6 L547.2,427.7 L547.7,421.4 L548.2,425.0 L548.7,426.0 L549.2,427.8 L549.7,424.8 L550.2,420.1 L550.7,431.4 L551.2,416.9 L551.7,426.3 L552.2,426.7 L552.7,425.5 L553.2,433.3 L553.7,422.7 L554.2,429.8 L554.7,426.1 L555.2,432.2 L555.7,421.8 L556.2,426.5 L556.7,427.4 L557.2,431.5 L557.7,430.7 L558.2,424.2 L558.7,426.4 L559.2,430.2 L559.7,426.6 L560.2,424.9 L560.7,432.5 L561.2,430.0 L561.7,425.7 L562.2,428.0 L562.7,431.1 L563.2,423.7 L563.7,431.2 L564.2,430.8 L564.7,429.5 L565.2,429.8 L565.7,430.5 L566.2,429.2 L566.7,429.6 L567.2,425.2 L567.7,429.2 L568.2,427.6 L568.7,427.9 L569.2,430.4 L569.7,428.2 L570.2,432.5 L570.7,431.4 L571.2,427.8 L571.7,420.9 L572.2,425.6 L572.7,423.9 L573.2,424.9 L573.7,427.1 L574.2,430.0 L574.7,427.9 L575.2,426.3 L575.7,434.7 L576.2,427.2 L576.7,430.7 L577.2,422.7 L577.7,430.6 L578.2,425.9 L578.7,433.7 L579.2,431.8 L579.7,432.2 L580.2,425.4 L580.7,436.3 L581.2,427.7 L581.7,432.5 L582.2,432.7 L582.7,426.7 L583.2,422.7 L583.7,431.2 L584.2,434.2 L584.7,434.2 L585.2,428.7 L585.7,430.8 L586.2,416.4 L586.7,417.7 L587.2,415.3 L587.7,406.8 L588.2,417.7 L588.7,413.5 L589.2,419.2 L589.7,427.8 L590.2,424.3 L590.7,425.7 L591.2,425.5 L591.7,430.4 L592.2,431.0 L592.7,426.5 L593.2,424.0 L593.7,425.2 L594.2,425.6 L594.7,429.9 L595.2,432.8 L595.7,432.0 L596.2,434.0 L596.7,435.5 L597.2,431.9 L597.7,434.3 L598.2,432.5 L598.7,440.6 L599.2,430.9 L599.7,429.6 L600.2,439.2 L600.7,431.9 L601.2,430.3 L601.7,432.4 L602.2,434.9 L602.7,431.3 L603.2,432.2 L603.7,429.5 L604.2,427.2 L604.7,424.2 L605.2,436.3 L605.7,430.8 L606.2,429.9 L606.7,434.1 L607.2,432.3 L607.7,430.3 L608.2,433.6 L608.7,426.7 L609.2,433.9 L609.7,430.2 L610.2,425.9 L610.7,426.1 L611.2,429.2 L611.7,427.9 L612.2,432.8 L612.7,432.5 L613.2,425.3 L613.7,428.5 L614.2,425.6 L614.7,432.9 L615.2,435.5 L615.7,428.3 L616.2,429.9 L616.7,436.1 L617.2,436.8 L617.7,432.4 L618.2,433.2 L618.7,428.0 L619.2,434.4 L619.7,434.4 L620.2,428.1 L620.7,434.5 L621.2,439.6 L621.7,432.6 L622.2,431.2 L622.7,434.0 L623.2,434.8 L623.7,431.2 L624.2,439.4 L624.7,430.4 L625.2,431.9 L625.7,440.1 L626.2,429.9 L626.7,436.5 L627.2,433.6 L627.7,429.3 L628.2,432.3 L628.7,435.5 L629.2,439.5 L629.7,431.9 L630.2,435.6 L630.7,435.3 L631.2,428.9 L631.7,435.7 L632.2,435.0 L632.7,431.1 L633.2,433.5 L633.7,431.6 L634.2,438.4 L634.7,435.6 L635.2,430.4 L635.7,437.5 L636.2,437.1 L636.7,438.0 L637.2,435.7 L637.7,432.4 L638.2,432.9 L638.7,429.0 L639.2,434.5 L639.7,438.1 L640.2,433.7 L640.7,429.1 L641.2,427.0 L641.7,429.1 L642.2,437.7 L642.7,430.4 L643.2,433.5 L643.7,438.2 L644.2,435.6 L644.7,434.3 L645.2,437.1 L645.7,440.4 L646.2,439.8 L646.7,431.3 L647.2,430.9 L647.7,439.6 L648.2,431.4 L648.7,438.4 L649.2,439.1 L649.7,431.3 L650.2,426.6 L650.7,433.1 L651.2,437.0 L651.7,436.0 L652.2,435.1 L652.7,437.7 L653.2,441.1 L653.7,436.7 L654.2,432.0 L654.7,438.0 L655.2,438.5 L655.7,440.0 L656.2,434.8 L656.7,432.0 L657.2,435.6 L657.7,434.3 L658.2,434.5 L658.7,431.4 L659.2,436.8 L659.7,435.5 L660.2,436.1 L660.7,431.9 L661.2,431.5 L661.7,432.8 L662.2,437.8 L662.7,435.6 L663.2,437.0 L663.7,442.0 L664.2,437.0 L664.7,439.8 L665.2,437.3 L665.7,444.2 L666.2,440.8 L666.7,438.3 L667.2,439.3 L667.7,431.7 L668.2,442.8 L668.7,442.7 L669.2,443.2 L669.7,437.0 L670.2,435.1 L670.7,440.2 L671.2,439.5 L671.7,440.7 L672.2,434.8 L672.7,439.7 L673.2,441.9 L673.7,428.8 L674.2,441.6 L674.7,444.0 L675.2,442.7 L675.7,441.0 L676.2,435.9 L676.7,433.1 L677.2,442.7 L677.7,438.1 L678.2,433.8 L678.7,442.9 L679.2,438.5 L679.7,435.3 L680.2,441.9 L680.7,435.1 L681.2,438.6 L681.7,435.7 L682.2,435.7 L682.7,441.4 L683.2,438.9 L683.7,433.1 L684.2,437.1 L684.7,435.1 L685.2,440.0 L685.7,441.4 L686.2,432.9 L686.7,437.1 L687.2,434.3 L687.7,434.8 L688.2,446.6 L688.7,442.9 L689.2,435.9 L689.7,439.3 L690.2,437.2 L690.7,434.6 L691.2,440.3 L691.7,435.1 L692.2,440.5 L692.7,440.9 L693.2,434.2 L693.7,438.9 L694.2,434.2 L694.7,439.9 L695.2,434.6 L695.7,439.0 L696.2,438.9 L696.7,438.3 L697.2,434.5 L697.7,441.1 L698.2,436.0 L698.7,440.9 L699.2,438.1 L699.7,438.2 L700.2,441.2 L700.7,437.4 L701.2,442.5 L701.7,439.8 L702.2,443.4 L702.7,435.5 L703.2,445.4 L703.7,439.1 L704.2,438.1 L704.7,445.0 L705.2,439.7 L705.7,438.6 L706.2,439.1 L706.7,436.8 L707.2,440.7 L707.7,442.6 L708.2,441.5 L708.7,440.2 L709.2,443.0 L709.7,443.8 L710.2,441.8 L710.7,443.1 L711.2,428.9 L711.7,439.7 L712.2,441.2 L712.7,437.4 L713.2,433.4 L713.7,438.6 L714.2,435.4 L714.7,432.9 L715.2,442.2 L715.7,440.4 L716.2,437.8 L716.7,438.8 L717.2,437.8 L717.7,435.7 L718.2,431.4 L718.7,433.0 L719.2,435.3 L719.7,435.8 L720.2,430.5 L720.7,428.3 L721.2,430.5 L721.7,424.9 L722.2,432.6 L722.7,425.6 L723.2,431.8 L723.7,432.7 L724.2,431.4 L724.7,432.4 L725.2,436.3 L725.7,431.1 L726.2,440.8 L726.7,436.2 L727.2,431.6 L727.7,440.3 L728.2,431.5 L728.7,441.1 L729.2,436.0 L729.7,434.5 L730.2,436.7 L730.7,438.5 L731.2,437.6 L731.7,436.3 L732.2,438.0 L732.7,438.1 L733.2,440.8 L733.7,435.6 L734.2,434.1 L734.7,442.8 L735.2,434.6 L735.7,440.5 L736.2,439.5 L736.7,444.2 L737.2,438.6 L737.7,436.2 L738.2,435.9 L738.7,436.9 L739.2,442.8 L739.7,438.0 L740.2,442.6 L740.7,443.3 L741.2,437.0 L741.7,444.0 L742.2,439.7 L742.7,445.1 L743.2,434.3 L743.7,431.3 L744.2,440.5 L744.7,436.6 L745.2,438.4 L745.7,443.8 L746.2,437.7 L746.7,434.3 L747.2,435.1 L747.7,438.4 L748.2,439.8 L748.7,438.7 L749.2,434.2 L749.7,430.9 L750.2,439.4 L750.7,430.9 L751.2,430.7 L751.7,438.0 L752.2,432.3 L752.7,429.3 L753.2,429.5 L753.7,435.5 L754.2,432.3 L754.7,443.4 L755.2,443.4 L755.7,436.1 L756.2,442.3 L756.7,438.4 L757.2,441.0 L757.7,441.1 L758.2,442.3 L758.7,439.4 L759.2,436.4 L759.7,443.4 L760.2,439.4 L760.7,441.8 L761.2,442.7 L761.7,441.7 L762.2,444.7 L762.7,438.0 L763.2,440.5 L763.7,434.8 L764.2,435.3 L764.7,437.0 L765.2,448.9 L765.7,439.1 L766.2,439.5 L766.7,443.5 L767.2,437.7 L767.7,437.1 L768.2,442.9 L768.7,442.1 L769.2,442.2 L769.7,444.1 L770.2,442.5 L770.7,438.3 L771.2,445.7 L771.7,438.0 L772.2,447.2 L772.7,440.1 L773.2,439.1 L773.7,440.5 L774.2,439.9 L774.7,445.2 L775.2,444.8 L775.7,444.2 L776.2,438.5 L776.7,440.4 L777.2,436.2 L777.7,443.0 L778.2,435.3 L778.7,440.0 L779.2,436.1 L779.7,443.6 L780.2,436.7 L780.7,437.8 L781.2,437.9 L781.7,437.7 L782.2,444.1 L782.7,439.6 L783.2,441.6 L783.7,442.8 L784.2,439.7 L784.7,438.2 L785.2,437.7 L785.7,445.8 L786.2,448.4 L786.7,438.7 L787.2,439.9 L787.7,437.4 L788.2,438.3 L788.7,436.3 L789.2,438.8 L789.7,444.1 L790.2,437.6 L790.7,443.5 L791.2,441.3 L791.7,447.9 L792.2,441.3 L792.7,440.6 L793.2,447.3 L793.7,437.7 L794.2,443.0 L794.7,446.9 L795.2,437.5 L795.7,443.6 L796.2,444.0 L796.7,441.4 L797.2,440.8 L797.7,448.8 L798.2,451.9 L798.7,441.5 L799.2,444.6 L799.7,438.0 L800.2,440.5 L800.7,438.6 L801.2,443.7 L801.7,447.6 L802.2,438.3 L802.7,437.8 L803.2,437.9 L803.7,440.6 L804.2,439.4 L804.7,447.8 L805.2,445.4 L805.7,446.6 L806.2,442.3 L806.7,444.5 L807.2,443.2 L807.7,438.7 L808.2,442.4 L808.7,438.4 L809.2,440.3 L809.7,444.1 L810.2,437.6 L810.7,437.1 L811.2,444.3 L811.7,441.2 L812.2,437.7 L812.7,439.4 L813.2,434.9 L813.7,446.2 L814.2,442.1 L814.7,440.6 L815.2,442.1 L815.7,446.9 L816.2,446.6 L816.7,443.0 L817.2,445.6 L817.7,444.3 L818.2,438.7 L818.7,444.0 L819.2,438.2 L819.7,443.8 L820.2,445.0 L820.7,447.1 L821.2,448.5 L821.7,440.6 L822.2,446.8 L822.7,442.4 L823.2,443.8 L823.7,442.5 L824.2,447.1 L824.7,441.4 L825.2,437.9 L825.7,446.1 L826.2,445.8 L826.7,444.3 L827.2,438.0 L827.7,439.1 L828.2,436.1 L828.7,434.0 L829.2,447.5 L829.7,435.2 L830.2,446.0 L830.7,440.1 L831.2,437.0 L831.7,441.1 L832.2,442.0 L832.7,446.9 L833.2,446.2 L833.7,445.6 L834.2,447.1 L834.7,446.1 L835.2,437.4 L835.7,444.3 L836.2,441.6 L836.7,443.3 L837.2,443.3 L837.7,447.1 L838.2,446.3 L838.7,438.8 L839.2,443.5 L839.7,445.0 L840.2,447.8 L840.7,438.3 L841.2,438.3 L841.7,444.6 L842.2,443.5 L842.7,443.8 L843.2,445.7 L843.7,441.6" stroke="#0000ff" stroke-width="3.0"/>
<path d="M85.7,220.4 L86.2,216.2 L86.7,217.9 L87.2,203.5 L87.7,205.6 L88.2,223.0 L88.7,205.8 L89.2,217.3 L89.7,224.6 L90.2,217.2 L90.7,211.8 L91.2,215.5 L91.7,217.7 L92.2,210.4 L92.7,210.7 L93.2,220.1 L93.7,217.0 L94.2,213.1 L94.7,219.1 L95.2,212.7 L95.7,221.0 L96.2,203.3 L96.7,215.5 L97.2,207.3 L97.7,204.0 L98.2,209.3 L98.7,202.2 L99.2,215.2 L99.7,217.7 L100.2,202.9 L100.7,210.5 L101.2,206.2 L101.7,201.7 L102.2,204.8 L102.7,209.0 L103.2,222.1 L103.7,210.7 L104.2,206.0 L104.7,215.4 L105.2,221.6 L105.7,204.8 L106.2,209.4 L106.7,234.9 L107.2,217.6 L107.7,228.2 L108.2,224.3 L108.7,217.2 L109.2,210.9 L109.7,214.5 L110.2,232.5 L110.7,221.8 L111.2,226.7 L111.7,213.9 L112.2,214.2 L112.7,231.7 L113.2,215.0 L113.7,213.9 L114.2,223.9 L114.7,220.8 L115.2,223.6 L115.7,221.1 L116.2,237.7 L116.7,233.1 L117.2,224.7 L117.7,232.6 L118.2,228.3 L118.7,226.2 L119.2,237.5 L119.7,244.2 L120.2,227.8 L120.7,244.5 L121.2,233.8 L121.7,242.3 L122.2,232.5 L122.7,238.1 L123.2,245.2 L123.7,242.0 L124.2,249.8 L124.7,238.5 L125.2,241.6 L125.7,241.4 L126.2,255.9 L126.7,255.6 L127.2,244.6 L127.7,247.0 L128.2,245.1 L128.7,234.1 L129.2,240.1 L129.7,240.9 L130.2,246.8 L130.7,246.5 L131.2,259.4 L131.7,258.9 L132.2,256.4 L132.7,259.9 L133.2,262.3 L133.7,265.9 L134.2,270.4 L134.7,257.1 L135.2,266.5 L135.7,258.1 L136.2,264.6 L136.7,272.4 L137.2,275.9 L137.7,274.8 L138.2,262.7 L138.7,269.2 L139.2,265.9 L139.7,277.5 L140.2,265.4 L140.7,267.6 L141.2,270.8 L141.7,267.1 L142.2,282.8 L142.7,279.3 L143.2,270.7 L143.7,276.2 L144.2,268.6 L144.7,278.3 L145.2,272.3 L145.7,269.5 L146.2,271.2 L146.7,279.3 L147.2,281.3 L147.7,276.6 L148.2,282.7 L148.7,278.0 L149.2,274.5 L149.7,278.3 L150.2,280.3 L150.7,290.0 L151.2,277.0 L151.7,293.3 L152.2,286.5 L152.7,294.4 L153.2,294.0 L153.7,290.7 L154.2,291.4 L154.7,292.7 L155.2,291.1 L155.7,282.7 L156.2,288.6 L156.7,281.8 L157.2,294.6 L157.7,293.3 L158.2,284.5 L158.7,293.7 L159.2,296.4 L159.7,285.1 L160.2,286.1 L160.7,285.3 L161.2,290.3 L161.7,292.3 L162.2,289.1 L162.7,294.8 L163.2,295.3 L163.7,289.7 L164.2,296.2 L164.7,291.6 L165.2,297.6 L165.7,293.1 L166.2,298.6 L166.7,294.7 L167.2,295.9 L167.7,309.9 L168.2,296.8 L168.7,292.6 L169.2,304.2 L169.7,289.4 L170.2,293.2 L170.7,297.3 L171.2,300.4 L171.7,291.1 L172.2,301.6 L172.7,301.4 L173.2,299.4 L173.7,304.5 L174.2,302.9 L174.7,303.1 L175.2,302.2 L175.7,301.8 L176.2,301.5 L176.7,299.9 L177.2,296.9 L177.7,309.0 L178.2,305.9 L178.7,306.4 L179.2,303.0 L179.7,306.2 L180.2,300.2 L180.7,301.5 L181.2,294.2 L181.7,300.9 L182.2,305.8 L182.7,297.8 L183.2,307.7 L183.7,303.2 L184.2,309.3 L184.7,296.5 L185.2,308.7 L185.7,301.1 L186.2,297.5 L186.7,303.4 L187.2,316.2 L187.7,303.6 L188.2,310.3 L188.7,299.4 L189.2,307.9 L189.7,299.5 L190.2,307.5 L190.7,307.0 L191.2,301.3 L191.7,299.3 L192.2,316.0 L192.7,303.2 L193.2,300.7 L193.7,301.4 L194.2,319.2 L194.7,315.2 L195.2,298.8 L195.7,316.3 L196.2,310.2 L196.7,304.5 L197.2,309.3 L197.7,305.6 L198.2,311.5 L198.7,310.7 L199.2,307.6 L199.7,308.0 L200.2,318.0 L200.7,316.4 L201.2,311.2 L201.7,310.9 L202.2,316.6 L202.7,315.9 L203.2,307.9 L203.7,309.6 L204.2,312.8 L204.7,314.8 L205.2,308.0 L205.7,307.9 L206.2,310.8 L206.7,313.4 L207.2,318.6 L207.7,316.0 L208.2,306.6 L208.7,312.0 L209.2,313.0 L209.7,319.7 L210.2,320.8 L210.7,312.5 L211.2,320.1 L211.7,320.1 L212.2,314.4 L212.7,316.0 L213.2,312.1 L213.7,309.5 L214.2,316.3 L214.7,309.2 L215.2,318.6 L215.7,321.5 L216.2,323.7 L216.7,317.1 L217.2,312.4 L217.7,324.4 L218.2,324.0 L218.7,325.7 L219.2,309.0 L219.7,321.7 L220.2,315.6 L220.7,313.8 L221.2,315.1 L221.7,324.2 L222.2,315.2 L222.7,320.9 L223.2,318.6 L223.7,318.6 L224.2,327.2 L224.7,315.4 L225.2,320.0 L225.7,327.6 L226.2,326.1 L226.7,319.6 L227.2,318.0 L227.7,316.1 L228.2,322.5 L228.7,319.2 L229.2,327.0 L229.7,312.8 L230.2,318.1 L230.7,321.1 L231.2,325.7 L231.7,326.4 L232.2,308.2 L232.7,327.8 L233.2,325.2 L233.7,312.5 L234.2,323.4 L234.7,322.1 L235.2,322.3 L235.7,316.7 L236.2,327.5 L236.7,319.0 L237.2,325.9 L237.7,322.3 L238.2,320.1 L238.7,322.2 L239.2,321.2 L239.7,325.5 L240.2,318.3 L240.7,316.6 L241.2,321.8 L241.7,325.7 L242.2,331.1 L242.7,324.5 L243.2,330.0 L243.7,318.9 L244.2,319.5 L244.7,328.2 L245.2,322.6 L245.7,319.9 L246.2,320.6 L246.7,315.7 L247.2,323.5 L247.7,326.7 L248.2,331.2 L248.7,323.1 L249.2,320.1 L249.7,325.6 L250.2,316.7 L250.7,322.2 L251.2,321.4 L251.7,322.8 L252.2,318.3 L252.7,326.1 L253.2,327.6 L253.7,329.6 L254.2,332.4 L254.7,323.2 L255.2,327.4 L255.7,324.4 L256.2,321.9 L256.7,332.6 L257.2,330.9 L257.7,333.8 L258.2,332.2 L258.7,334.1 L259.2,332.9 L259.7,320.7 L260.2,323.0 L260.7,325.7 L261.2,326.3 L261.7,319.4 L262.2,328.4 L262.7,332.7 L263.2,322.8 L263.7,331.3 L264.2,316.2 L264.7,324.2 L265.2,331.1 L265.7,316.6 L266.2,327.3 L266.7,325.6 L267.2,333.3 L267.7,325.4 L268.2,329.1 L268.7,325.7 L269.2,322.0 L269.7,330.4 L270.2,321.8 L270.7,333.9 L271.2,322.7 L271.7,323.9 L272.2,327.8 L272.7,330.3 L273.2,325.4 L273.7,321.9 L274.2,326.5 L274.7,321.9 L275.2,324.0 L275.7,333.7 L276.2,324.6 L276.7,324.9 L277.2,331.4 L277.7,334.6 L278.2,329.9 L278.7,326.5 L279.2,335.6 L279.7,327.3 L280.2,331.5 L280.7,323.2 L281.2,334.6 L281.7,332.7 L282.2,332.7 L282.7,335.7 L283.2,333.9 L283.7,331.6 L284.2,323.8 L284.7,334.6 L285.2,331.9 L285.7,330.3 L286.2,332.3 L286.7,328.0 L287.2,327.6 L287.7,331.5 L288.2,330.6 L288.7,334.2 L289.2,339.3 L289.7,335.6 L290.2,328.0 L290.7,326.8 L291.2,334.1 L291.7,340.0 L292.2,332.4 L292.7,322.9 L293.2,329.0 L293.7,330.8 L294.2,335.6 L294.7,336.9 L295.2,326.6 L295.7,333.4 L296.2,333.5 L296.7,326.5 L297.2,336.1 L297.7,331.9 L298.2,337.8 L298.7,330.3 L299.2,330.9 L299.7,327.4 L300.2,331.5 L300.7,330.9 L301.2,330.1 L301.7,328.3 L302.2,331.8 L302.7,330.3 L303.2,337.5 L303.7,330.6 L304.2,318.2 L304.7,326.7 L305.2,334.2 L305.7,337.2 L306.2,327.8 L306.7,335.1 L307.2,330.7 L307.7,336.0 L308.2,324.4 L308.7,335.9 L309.2,333.8 L309.7,331.2 L310.2,331.9 L310.7,334.9 L311.2,322.9 L311.7,334.4 L312.2,328.1 L312.7,331.6 L313.2,333.0 L313.7,329.9 L314.2,336.6 L314.7,328.3 L315.2,337.1 L315.7,340.0 L316.2,338.7 L316.7,326.4 L317.2,326.6 L317.7,325.9 L318.2,326.2 L318.7,336.7 L319.2,323.9 L319.7,324.1 L320.2,322.0 L320.7,335.2 L321.2,332.1 L321.7,330.8 L322.2,336.6 L322.7,329.1 L323.2,327.5 L323.7,319.9 L324.2,321.7 L324.7,315.7 L325.2,334.6 L325.7,320.0 L326.2,323.1 L326.7,325.1 L327.2,334.6 L327.7,327.4 L328.2,327.6 L328.7,334.9 L329.2,323.1 L329.7,331.3 L330.2,323.1 L330.7,334.3 L331.2,331.1 L331.7,333.1 L332.2,337.1 L332.7,327.3 L333.2,338.0 L333.7,328.6 L334.2,337.2 L334.7,334.8 L335.2,336.6 L335.7,329.3 L336.2,335.6 L336.7,327.4 L337.2,330.2 L337.7,340.8 L338.2,339.7 L338.7,335.4 L339.2,338.7 L339.7,337.1 L340.2,332.2 L340.7,341.1 L341.2,333.2 L341.7,329.3 L342.2,335.2 L342.7,336.5 L343.2,338.0 L343.7,337.4 L344.2,328.2 L344.7,336.7 L345.2,340.8 L345.7,337.4 L346.2,341.9 L346.7,335.3 L347.2,339.4 L347.7,329.2 L348.2,338.6 L348.7,329.7 L349.2,332.9 L349.7,322.4 L350.2,314.2 L350.7,316.3 L351.2,326.1 L351.7,325.6 L352.2,332.3 L352.7,335.3 L353.2,323.3 L353.7,330.2 L354.2,335.5 L354.7,331.1 L355.2,325.7 L355.7,323.4 L356.2,326.4 L356.7,329.8 L357.2,329.5 L357.7,331.2 L358.2,325.8 L358.7,333.3 L359.2,322.1 L359.7,314.4 L360.2,310.2 L360.7,309.4 L361.2,290.1 L361.7,286.1 L362.2,292.9 L362.7,284.6 L363.2,289.0 L363.7,287.0 L364.2,306.0 L364.7,304.8 L365.2,311.9 L365.7,333.7 L366.2,329.6 L366.7,336.5 L367.2,334.8 L367.7,337.6 L368.2,339.5 L368.7,334.4 L369.2,329.5 L369.7,339.7 L370.2,332.8 L370.7,330.8 L371.2,326.8 L371.7,325.4 L372.2,324.8 L372.7,328.0 L373.2,332.6 L373.7,334.9 L374.2,338.3 L374.7,337.0 L375.2,339.4 L375.7,338.2 L376.2,336.9 L376.7,334.1 L377.2,324.8 L377.7,320.4 L378.2,323.8 L378.7,307.3 L379.2,306.4 L379.7,294.2 L380.2,283.3 L380.7,287.9 L381.2,289.4 L381.7,287.5 L382.2,295.9 L382.7,304.0 L383.2,320.2 L383.7,325.1 L384.2,323.0 L384.7,330.3 L385.2,334.0 L385.7,339.0 L386.2,326.8 L386.7,326.0 L387.2,327.4 L387.7,328.0 L388.2,327.5 L388.7,326.6 L389.2,328.8 L389.7,329.5 L390.2,333.8 L390.7,336.7 L391.2,326.3 L391.7,329.8 L392.2,328.4 L392.7,332.8 L393.2,324.9 L393.7,339.8 L394.2,339.1 L394.7,336.3 L395.2,330.0 L395.7,328.2 L396.2,329.0 L396.7,334.5 L397.2,337.4 L397.7,338.5 L398.2,329.8 L398.7,331.4 L399.2,336.5 L399.7,334.1 L400.2,333.0 L400.7,323.4 L401.2,327.8 L401.7,329.3 L402.2,334.8 L402.7,329.2 L403.2,340.9 L403.7,340.6 L404.2,335.4 L404.7,338.4 L405.2,338.1 L405.7,330.4 L406.2,337.0 L406.7,332.3 L407.2,332.5 L407.7,329.1 L408.2,327.0 L408.7,339.5 L409.2,338.3 L409.7,336.8 L410.2,336.8 L410.7,333.5 L411.2,329.4 L411.7,335.0 L412.2,337.4 L412.7,334.0 L413.2,331.3 L413.7,315.1 L414.2,314.9 L414.7,302.8 L415.2,307.2 L415.7,301.3 L416.2,309.5 L416.7,314.1 L417.2,315.3 L417.7,310.8 L418.2,336.7 L418.7,326.6 L419.2,330.2 L419.7,325.2 L420.2,329.1 L420.7,338.3 L421.2,341.1 L421.7,333.8 L422.2,341.8 L422.7,342.5 L423.2,332.9 L423.7,334.5 L424.2,340.7 L424.7,337.8 L425.2,350.1 L425.7,336.4 L426.2,341.7 L426.7,341.0 L427.2,334.4 L427.7,343.4 L428.2,335.6 L428.7,332.2 L429.2,331.1 L429.7,336.2 L430.2,338.2 L430.7,332.8 L431.2,340.7 L431.7,332.4 L432.2,340.4 L432.7,329.1 L433.2,332.4 L433.7,330.8 L434.2,334.6 L434.7,337.8 L435.2,332.9 L435.7,339.3 L436.2,335.7 L436.7,336.3 L437.2,333.4 L437.7,339.6 L438.2,335.8 L438.7,339.5 L439.2,341.7 L439.7,327.3 L440.2,333.5 L440.7,330.3 L441.2,339.4 L441.7,335.9 L442.2,337.1 L442.7,330.6 L443.2,335.9 L443.7,326.0 L444.2,332.1 L444.7,340.9 L445.2,344.9 L445.7,334.2 L446.2,336.9 L446.7,332.6 L447.2,340.0 L447.7,339.6 L448.2,329.0 L448.7,332.9 L449.2,339.9 L449.7,332.5 L450.2,337.6 L450.7,341.7 L451.2,338.6 L451.7,332.0 L452.2,342.4 L452.7,339.2 L453.2,335.8 L453.7,343.1 L454.2,328.6 L454.7,332.9 L455.2,329.4 L455.7,329.7 L456.2,328.5 L456.7,329.6 L457.2,329.8 L457.7,336.8 L458.2,336.3 L458.7,333.9 L459.2,336.8 L459.7,325.7 L460.2,328.7 L460.7,323.2 L461.2,333.9 L461.7,321.2 L462.2,319.4 L462.7,317.2 L463.2,317.3 L463.7,323.6 L464.2,307.5 L464.7,315.6 L465.2,311.2 L465.7,314.5 L466.2,321.7 L466.7,320.2 L467.2,328.0 L467.7,331.5 L468.2,336.3 L468.7,326.9 L469.2,338.3 L469.7,335.7 L470.2,329.9 L470.7,328.4 L471.2,340.0 L471.7,341.3 L472.2,335.8 L472.7,336.1 L473.2,342.0 L473.7,338.6 L474.2,345.2 L474.7,335.5 L475.2,342.2 L475.7,341.2 L476.2,340.1 L476.7,341.1 L477.2,335.0 L477.7,335.5 L478.2,339.4 L478.7,331.6 L479.2,337.2 L479.7,336.6 L480.2,332.7 L480.7,337.0 L481.2,333.6 L481.7,330.3 L482.2,333.2 L482.7,330.4 L483.2,338.1 L483.7,330.8 L484.2,332.8 L484.7,335.9 L485.2,336.1 L485.7,330.3 L486.2,343.0 L486.7,332.9 L487.2,338.4 L487.7,333.0 L488.2,338.2 L488.7,334.7 L489.2,334.3 L489.7,336.7 L490.2,340.0 L490.7,339.1 L491.2,340.9 L491.7,335.8 L492.2,333.9 L492.7,339.3 L493.2,337.2 L493.7,341.2 L494.2,343.5 L494.7,337.3 L495.2,337.0 L495.7,351.1 L496.2,350.5 L496.7,338.6 L497.2,340.9 L497.7,339.7 L498.2,332.5 L498.7,333.3 L499.2,339.6 L499.7,320.2 L500.2,322.2 L500.7,307.1 L501.2,314.3 L501.7,311.5 L502.2,309.8 L502.7,319.5 L503.2,316.0 L503.7,337.7 L504.2,335.2 L504.7,332.6 L505.2,337.8 L505.7,338.5 L506.2,345.0 L506.7,331.5 L507.2,334.0 L507.7,333.8 L508.2,336.5 L508.7,332.4 L509.2,325.1 L509.7,317.6 L510.2,325.9 L510.7,322.7 L511.2,319.8 L511.7,328.7 L512.2,328.3 L512.7,328.8 L513.2,330.3 L513.7,335.5 L514.2,332.7 L514.7,326.6 L515.2,341.1 L515.7,333.4 L516.2,329.4 L516.7,335.2 L517.2,333.5 L517.7,338.0 L518.2,335.8 L518.7,339.2 L519.2,337.4 L519.7,336.5 L520.2,338.2 L520.7,329.8 L521.2,338.9 L521.7,339.1 L522.2,347.5 L522.7,344.3 L523.2,340.5 L523.7,327.1 L524.2,345.2 L524.7,346.5 L525.2,334.3 L525.7,338.5 L526.2,347.4 L526.7,346.2 L527.2,341.3 L527.7,333.3 L528.2,331.2 L528.7,334.6 L529.2,344.1 L529.7,342.2 L530.2,337.2 L530.7,342.2 L531.2,331.3 L531.7,337.1 L532.2,345.2 L532.7,336.1 L533.2,334.6 L533.7,325.8 L534.2,319.4 L534.7,314.8 L535.2,298.0 L535.7,298.8 L536.2,291.3 L536.7,295.8 L537.2,294.4 L537.7,302.2 L538.2,310.7 L538.7,321.0 L539.2,327.0 L539.7,327.2 L540.2,321.7 L540.7,327.2 L541.2,337.5 L541.7,325.6 L542.2,333.7 L542.7,331.0 L543.2,335.5 L543.7,341.6 L544.2,345.1 L544.7,337.8 L545.2,337.7 L545.7,341.4 L546.2,346.8 L546.7,349.3 L547.2,345.8 L547.7,338.3 L548.2,342.5 L548.7,343.7 L549.2,345.9 L549.7,342.3 L550.2,336.7 L550.7,350.1 L551.2,332.9 L551.7,344.0 L552.2,344.5 L552.7,343.0 L553.2,352.4 L553.7,339.7 L554.2,348.2 L554.7,343.7 L555.2,351.0 L555.7,338.6 L556.2,344.2 L556.7,345.3 L557.2,350.0 L557.7,349.2 L558.2,341.4 L558.7,344.0 L559.2,348.5 L559.7,344.2 L560.2,342.2 L560.7,351.2 L561.2,348.2 L561.7,343.2 L562.2,345.8 L562.7,349.5 L563.2,340.6 L563.7,349.6 L564.2,349.1 L564.7,347.5 L565.2,347.9 L565.7,348.7 L566.2,347.1 L566.7,347.7 L567.2,342.4 L567.7,347.1 L568.2,345.2 L568.7,345.6 L569.2,348.5 L569.7,346.0 L570.2,351.0 L570.7,349.7 L571.2,345.5 L571.7,337.2 L572.2,342.8 L572.7,340.7 L573.2,341.9 L573.7,344.5 L574.2,348.0 L574.7,345.4 L575.2,343.5 L575.7,353.5 L576.2,344.6 L576.7,348.8 L577.2,339.3 L577.7,348.7 L578.2,343.0 L578.7,352.3 L579.2,350.0 L579.7,350.5 L580.2,342.3 L580.7,355.3 L581.2,345.1 L581.7,350.8 L582.2,351.1 L582.7,343.8 L583.2,339.2 L583.7,349.2 L584.2,352.7 L584.7,352.7 L585.2,346.1 L585.7,348.4 L586.2,331.0 L586.7,332.3 L587.2,329.2 L587.7,319.2 L588.2,332.2 L588.7,327.2 L589.2,334.2 L589.7,344.6 L590.2,340.5 L590.7,342.1 L591.2,341.9 L591.7,347.6 L592.2,348.3 L592.7,343.0 L593.2,340.0 L593.7,341.5 L594.2,342.0 L594.7,347.3 L595.2,350.8 L595.7,349.9 L596.2,352.2 L596.7,354.1 L597.2,349.8 L597.7,352.7 L598.2,350.5 L598.7,360.1 L599.2,348.5 L599.7,347.0 L600.2,358.4 L600.7,349.7 L601.2,347.7 L601.7,350.3 L602.2,353.2 L602.7,348.9 L603.2,349.9 L603.7,346.8 L604.2,344.0 L604.7,340.4 L605.2,354.7 L605.7,348.2 L606.2,347.1 L606.7,352.1 L607.2,349.9 L607.7,347.5 L608.2,351.5 L608.7,343.2 L609.2,351.7 L609.7,347.3 L610.2,342.2 L610.7,342.5 L611.2,346.1 L611.7,344.6 L612.2,350.5 L612.7,350.1 L613.2,341.5 L613.7,345.4 L614.2,341.9 L614.7,350.6 L615.2,353.8 L615.7,345.2 L616.2,347.0 L616.7,354.5 L617.2,355.3 L617.7,350.1 L618.2,351.0 L618.7,344.8 L619.2,352.5 L619.7,352.4 L620.2,344.9 L620.7,352.5 L621.2,358.6 L621.7,350.3 L622.2,348.6 L622.7,351.9 L623.2,352.8 L623.7,348.5 L624.2,358.3 L624.7,347.6 L625.2,349.4 L625.7,359.2 L626.2,346.9 L626.7,354.8 L627.2,351.4 L627.7,346.3 L628.2,349.9 L628.7,353.6 L629.2,358.3 L629.7,349.4 L630.2,353.7 L630.7,353.4 L631.2,345.7 L631.7,353.8 L632.2,353.0 L632.7,348.4 L633.2,351.2 L633.7,348.9 L634.2,357.0 L634.7,353.7 L635.2,347.5 L635.7,355.9 L636.2,355.5 L636.7,356.5 L637.2,353.8 L637.7,349.9 L638.2,350.5 L638.7,345.8 L639.2,352.3 L639.7,356.6 L640.2,351.4 L640.7,345.9 L641.2,343.5 L641.7,345.9 L642.2,356.1 L642.7,347.4 L643.2,351.1 L643.7,356.7 L644.2,353.6 L644.7,352.1 L645.2,355.4 L645.7,359.3 L646.2,358.6 L646.7,348.5 L647.2,348.0 L647.7,358.4 L648.2,348.7 L648.7,356.9 L649.2,357.7 L649.7,348.5 L650.2,342.9 L650.7,350.6 L651.2,355.2 L651.7,354.0 L652.2,353.0 L652.7,356.0 L653.2,360.1 L653.7,354.9 L654.2,349.2 L654.7,356.4 L655.2,357.0 L655.7,358.8 L656.2,352.6 L656.7,349.3 L657.2,353.5 L657.7,352.0 L658.2,352.1 L658.7,348.4 L659.2,354.9 L659.7,353.3 L660.2,353.9 L660.7,349.0 L661.2,348.4 L661.7,350.0 L662.2,355.9 L662.7,353.3 L663.2,354.9 L663.7,360.9 L664.2,354.9 L664.7,358.2 L665.2,355.3 L665.7,363.5 L666.2,359.5 L666.7,356.6 L667.2,357.7 L667.7,348.7 L668.2,361.9 L668.7,361.8 L669.2,362.4 L669.7,355.0 L670.2,352.8 L670.7,358.8 L671.2,358.0 L671.7,359.4 L672.2,352.4 L672.7,358.2 L673.2,360.9 L673.7,345.2 L674.2,360.4 L674.7,363.3 L675.2,361.7 L675.7,359.8 L676.2,353.6 L676.7,350.4 L677.2,361.8 L677.7,356.3 L678.2,351.1 L678.7,361.9 L679.2,356.8 L679.7,352.8 L680.2,360.8 L680.7,352.6 L681.2,356.9 L681.7,353.3 L682.2,353.4 L682.7,360.2 L683.2,357.1 L683.7,350.2 L684.2,355.0 L684.7,352.6 L685.2,358.4 L685.7,360.1 L686.2,349.9 L686.7,355.0 L687.2,351.6 L687.7,352.2 L688.2,366.2 L688.7,361.8 L689.2,353.4 L689.7,357.5 L690.2,355.0 L690.7,352.0 L691.2,358.7 L691.7,352.5 L692.2,358.9 L692.7,359.4 L693.2,351.4 L693.7,357.0 L694.2,351.5 L694.7,358.2 L695.2,351.8 L695.7,357.1 L696.2,357.0 L696.7,356.3 L697.2,351.8 L697.7,359.6 L698.2,353.6 L698.7,359.3 L699.2,356.0 L699.7,356.1 L700.2,359.7 L700.7,355.2 L701.2,361.3 L701.7,358.0 L702.2,362.3 L702.7,352.9 L703.2,364.6 L703.7,357.1 L704.2,356.0 L704.7,364.1 L705.2,357.9 L705.7,356.5 L706.2,357.2 L706.7,354.4 L707.2,359.0 L707.7,361.3 L708.2,360.0 L708.7,358.4 L709.2,361.7 L709.7,362.7 L710.2,360.3 L710.7,361.8 L711.2,344.9 L711.7,357.8 L712.2,359.6 L712.7,355.0 L713.2,350.3 L713.7,356.5 L714.2,352.7 L714.7,349.7 L715.2,360.7 L715.7,358.6 L716.2,355.5 L716.7,356.6 L717.2,355.4 L717.7,352.9 L718.2,347.8 L718.7,349.7 L719.2,352.3 L719.7,352.9 L720.2,346.6 L720.7,343.8 L721.2,346.4 L721.7,339.6 L722.2,348.6 L722.7,340.3 L723.2,347.8 L723.7,349.0 L724.2,347.6 L724.7,348.8 L725.2,353.5 L725.7,347.3 L726.2,358.9 L726.7,353.4 L727.2,348.0 L727.7,358.4 L728.2,347.9 L728.7,359.4 L729.2,353.3 L729.7,351.5 L730.2,354.2 L730.7,356.2 L731.2,355.2 L731.7,353.6 L732.2,355.7 L732.7,355.9 L733.2,359.1 L733.7,352.9 L734.2,351.1 L734.7,361.4 L735.2,351.7 L735.7,358.7 L736.2,357.5 L736.7,363.1 L737.2,356.4 L737.7,353.6 L738.2,353.2 L738.7,354.4 L739.2,361.4 L739.7,355.7 L740.2,361.2 L740.7,362.0 L741.2,354.6 L741.7,362.8 L742.2,357.7 L742.7,364.2 L743.2,351.4 L743.7,347.8 L744.2,358.7 L744.7,354.0 L745.2,356.2 L745.7,362.6 L746.2,355.3 L746.7,351.2 L747.2,352.3 L747.7,356.1 L748.2,357.7 L748.7,356.4 L749.2,351.0 L749.7,347.0 L750.2,357.0 L750.7,346.9 L751.2,346.7 L751.7,355.4 L752.2,348.6 L752.7,345.1 L753.2,345.4 L753.7,352.5 L754.2,348.8 L754.7,362.0 L755.2,362.0 L755.7,353.4 L756.2,360.8 L756.7,356.1 L757.2,359.2 L757.7,359.4 L758.2,360.8 L758.7,357.4 L759.2,353.8 L759.7,362.1 L760.2,357.3 L760.7,360.2 L761.2,361.3 L761.7,360.1 L762.2,363.6 L762.7,355.6 L763.2,358.6 L763.7,351.8 L764.2,352.4 L764.7,354.5 L765.2,368.6 L765.7,356.9 L766.2,357.4 L766.7,362.2 L767.2,355.3 L767.7,354.5 L768.2,361.4 L768.7,360.5 L769.2,360.6 L769.7,362.9 L770.2,361.0 L770.7,355.9 L771.2,364.8 L771.7,355.6 L772.2,366.5 L772.7,358.1 L773.2,356.9 L773.7,358.6 L774.2,357.9 L774.7,364.2 L775.2,363.7 L775.7,362.9 L776.2,356.2 L776.7,358.5 L777.2,353.4 L777.7,361.6 L778.2,352.4 L778.7,357.9 L779.2,353.4 L779.7,362.2 L780.2,354.0 L780.7,355.3 L781.2,355.5 L781.7,355.2 L782.2,362.9 L782.7,357.5 L783.2,359.8 L783.7,361.3 L784.2,357.5 L784.7,355.8 L785.2,355.2 L785.7,364.9 L786.2,367.9 L786.7,356.4 L787.2,357.9 L787.7,354.8 L788.2,355.9 L788.7,353.5 L789.2,356.5 L789.7,362.7 L790.2,355.1 L790.7,362.0 L791.2,359.5 L791.7,367.3 L792.2,359.5 L792.7,358.6 L793.2,366.5 L793.7,355.2 L794.2,361.5 L794.7,366.1 L795.2,354.9 L795.7,362.2 L796.2,362.7 L796.7,359.5 L797.2,358.8 L797.7,368.3 L798.2,372.0 L798.7,359.6 L799.2,363.3 L799.7,355.5 L800.2,358.4 L800.7,356.2 L801.2,362.2 L801.7,366.9 L802.2,355.8 L802.7,355.3 L803.2,355.3 L803.7,358.5 L804.2,357.2 L804.7,367.1 L805.2,364.2 L805.7,365.7 L806.2,360.5 L806.7,363.2 L807.2,361.6 L807.7,356.2 L808.2,360.7 L808.7,356.0 L809.2,358.2 L809.7,362.7 L810.2,355.0 L810.7,354.3 L811.2,363.0 L811.7,359.2 L812.2,355.0 L812.7,357.1 L813.2,351.7 L813.7,365.2 L814.2,360.3 L814.7,358.5 L815.2,360.2 L815.7,366.0 L816.2,365.6 L816.7,361.3 L817.2,364.4 L817.7,362.8 L818.2,356.3 L818.7,362.5 L819.2,355.6 L819.7,362.3 L820.2,363.7 L820.7,366.2 L821.2,367.8 L821.7,358.4 L822.2,365.9 L822.7,360.6 L823.2,362.2 L823.7,360.7 L824.2,366.1 L824.7,359.4 L825.2,355.3 L825.7,364.9 L826.2,364.7 L826.7,362.8 L827.2,355.3 L827.7,356.6 L828.2,353.1 L828.7,350.5 L829.2,366.6 L829.7,351.9 L830.2,364.7 L830.7,357.8 L831.2,354.1 L831.7,359.0 L832.2,360.1 L832.7,365.9 L833.2,365.0 L833.7,364.3 L834.2,366.1 L834.7,364.9 L835.2,354.6 L835.7,362.7 L836.2,359.6 L836.7,361.5 L837.2,361.5 L837.7,366.0 L838.2,365.2 L838.7,356.2 L839.2,361.8 L839.7,363.6 L840.2,366.9 L840.7,355.6 L841.2,355.6 L841.7,363.1 L842.2,361.8 L842.7,362.1 L843.2,364.4 L843.7,359.5" stroke="#008000" stroke-width="3.0"/>
<path d="M85.7,129.3 L86.2,130.6 L86.7,128.3 L87.2,128.9 L87.7,131.3 L88.2,129.1 L88.7,125.0 L89.2,134.6 L89.7,133.1 L90.2,128.1 L90.7,129.9 L91.2,134.7 L91.7,134.6 L92.2,130.3 L92.7,134.1 L93.2,135.9 L93.7,136.9 L94.2,134.8 L94.7,136.4 L95.2,134.7 L95.7,132.8 L96.2,134.0 L96.7,135.3 L97.2,134.2 L97.7,141.1 L98.2,141.6 L98.7,141.3 L99.2,143.6 L99.7,139.0 L100.2,141.2 L100.7,140.4 L101.2,137.3 L101.7,139.2 L102.2,140.6 L102.7,142.6 L103.2,139.3 L103.7,139.8 L104.2,144.0 L104.7,141.0 L105.2,143.9 L105.7,144.0 L106.2,145.8 L106.7,145.2 L107.2,143.0 L107.7,142.1 L108.2,142.7 L108.7,149.0 L109.2,152.2 L109.7,149.8 L110.2,149.5 L110.7,149.5 L111.2,144.8 L111.7,145.5 L112.2,149.1 L112.7,151.9 L113.2,151.1 L113.7,150.0 L114.2,148.9 L114.7,150.5 L115.2,152.2 L115.7,152.7 L116.2,149.3 L116.7,150.7 L117.2,150.9 L117.7,154.3 L118.2,155.3 L118.7,153.8 L119.2,152.9 L119.7,153.1 L120.2,153.3 L120.7,154.8 L121.2,158.7 L121.7,160.5 L122.2,155.7 L122.7,157.0 L123.2,152.3 L123.7,153.0 L124.2,157.3 L124.7,159.0 L125.2,156.9 L125.7,157.1 L126.2,160.5 L126.7,155.9 L127.2,158.9 L127.7,160.7 L128.2,162.2 L128.7,162.2 L129.2,158.6 L129.7,162.2 L130.2,161.0 L130.7,160.9 L131.2,164.3 L131.7,161.1 L132.2,161.8 L132.7,159.2 L133.2,161.7 L133.7,162.6 L134.2,161.3 L134.7,161.6 L135.2,162.9 L135.7,167.9 L136.2,161.8 L136.7,162.3 L137.2,166.1 L137.7,165.2 L138.2,163.1 L138.7,165.0 L139.2,160.9 L139.7,162.7 L140.2,162.1 L140.7,163.9 L141.2,160.3 L141.7,160.6 L142.2,166.6 L142.7,166.6 L143.2,164.5 L143.7,165.2 L144.2,161.3 L144.7,165.7 L145.2,168.3 L145.7,165.7 L146.2,165.1 L146.7,170.2 L147.2,163.5 L147.7,162.8 L148.2,163.2 L148.7,167.1 L149.2,166.2 L149.7,168.0 L150.2,170.7 L150.7,171.1 L151.2,169.5 L151.7,166.3 L152.2,164.9 L152.7,167.1 L153.2,168.5 L153.7,165.6 L154.2,172.8 L154.7,169.6 L155.2,171.0 L155.7,171.0 L156.2,168.5 L156.7,172.4 L157.2,166.8 L157.7,173.1 L158.2,166.9 L158.7,171.3 L159.2,170.1 L159.7,171.3 L160.2,173.6 L160.7,172.4 L161.2,171.1 L161.7,172.6 L162.2,166.7 L162.7,168.9 L163.2,165.4 L163.7,167.3 L164.2,174.3 L164.7,174.5 L165.2,173.9 L165.7,171.7 L166.2,173.7 L166.7,172.3 L167.2,170.9 L167.7,167.7 L168.2,166.6 L168.7,170.1 L169.2,174.2 L169.7,171.3 L170.2,175.0 L170.7,173.7 L171.2,170.2 L171.7,172.4 L172.2,174.1 L172.7,170.9 L173.2,171.2 L173.7,171.2 L174.2,170.7 L174.7,177.1 L175.2,175.5 L175.7,174.1 L176.2,171.3 L176.7,172.1 L177.2,176.7 L177.7,172.1 L178.2,171.4 L178.7,176.5 L179.2,173.8 L179.7,173.0 L180.2,176.6 L180.7,173.0 L181.2,176.2 L181.7,173.5 L182.2,173.2 L182.7,174.0 L183.2,172.3 L183.7,170.0 L184.2,172.0 L184.7,176.6 L185.2,173.1 L185.7,175.3 L186.2,175.6 L186.7,177.1 L187.2,174.3 L187.7,176.3 L188.2,174.1 L188.7,173.2 L189.2,171.9 L189.7,174.0 L190.2,176.7 L190.7,174.2 L191.2,176.4 L191.7,174.2 L192.2,176.0 L192.7,178.4 L193.2,177.8 L193.7,175.0 L194.2,179.0 L194.7,178.6 L195.2,178.2 L195.7,174.1 L196.2,175.4 L196.7,179.7 L197.2,181.4 L197.7,176.1 L198.2,175.8 L198.7,175.4 L199.2,176.6 L199.7,175.4 L200.2,179.6 L200.7,176.3 L201.2,177.2 L201.7,174.9 L202.2,174.1 L202.7,175.1 L203.2,176.6 L203.7,174.1 L204.2,175.7 L204.7,179.4 L205.2,177.1 L205.7,179.9 L206.2,176.4 L206.7,177.7 L207.2,179.8 L207.7,176.4 L208.2,177.1 L208.7,176.5 L209.2,177.0 L209.7,175.0 L210.2,178.0 L210.7,174.2 L211.2,174.0 L211.7,174.8 L212.2,176.6 L212.7,178.1 L213.2,180.0 L213.7,177.2 L214.2,175.0 L214.7,174.2 L215.2,178.5 L215.7,175.9 L216.2,173.5 L216.7,178.1 L217.2,176.8 L217.7,179.6 L218.2,178.9 L218.7,173.1 L219.2,177.9 L219.7,177.4 L220.2,177.6 L220.7,178.6 L221.2,177.0 L221.7,179.3 L222.2,178.5 L222.7,178.3 L223.2,183.2 L223.7,178.8 L224.2,178.7 L224.7,176.4 L225.2,174.7 L225.7,177.4 L226.2,175.3 L226.7,178.8 L227.2,177.7 L227.7,178.2 L228.2,179.5 L228.7,179.4 L229.2,177.5 L229.7,179.5 L230.2,178.9 L230.7,179.2 L231.2,174.6 L231.7,179.7 L232.2,178.2 L232.7,177.6 L233.2,179.7 L233.7,180.6 L234.2,180.4 L234.7,175.1 L235.2,180.9 L235.7,175.9 L236.2,178.3 L236.7,180.6 L237.2,175.2 L237.7,178.2 L238.2,178.0 L238.7,178.1 L239.2,179.7 L239.7,179.3 L240.2,180.1 L240.7,174.1 L241.2,175.0 L241.7,174.2 L242.2,174.5 L242.7,177.8 L243.2,180.5 L243.7,180.6 L244.2,175.7 L244.7,176.6 L245.2,176.3 L245.7,180.7 L246.2,172.7 L246.7,180.1 L247.2,176.3 L247.7,176.7 L248.2,179.8 L248.7,179.0 L249.2,178.7 L249.7,176.5 L250.2,180.0 L250.7,176.0 L251.2,176.0 L251.7,178.5 L252.2,177.0 L252.7,176.1 L253.2,181.3 L253.7,178.3 L254.2,174.9 L254.7,177.1 L255.2,175.7 L255.7,180.4 L256.2,175.1 L256.7,180.1 L257.2,174.0 L257.7,171.8 L258.2,176.9 L258.7,175.1 L259.2,176.2 L259.7,175.3 L260.2,173.3 L260.7,173.1 L261.2,174.1 L261.7,171.2 L262.2,175.3 L262.7,177.3 L263.2,175.5 L263.7,176.9 L264.2,173.3 L264.7,177.4 L265.2,175.9 L265.7,178.8 L266.2,176.0 L266.7,175.2 L267.2,178.9 L267.7,179.0 L268.2,175.8 L268.7,175.1 L269.2,177.2 L269.7,180.3 L270.2,177.2 L270.7,179.6 L271.2,177.1 L271.7,174.4 L272.2,175.2 L272.7,175.5 L273.2,176.5 L273.7,180.2 L274.2,179.5 L274.7,174.7 L275.2,179.0 L275.7,177.2 L276.2,175.7 L276.7,174.3 L277.2,178.1 L277.7,180.5 L278.2,178.2 L278.7,180.3 L279.2,172.6 L279.7,176.5 L280.2,179.1 L280.7,178.8 L281.2,178.5 L281.7,177.5 L282.2,175.3 L282.7,179.9 L283.2,175.8 L283.7,177.8 L284.2,180.6 L284.7,181.5 L285.2,178.1 L285.7,179.9 L286.2,180.7 L286.7,178.8 L287.2,178.0 L287.7,177.9 L288.2,176.4 L288.7,177.1 L289.2,179.7 L289.7,181.1 L290.2,181.4 L290.7,180.8 L291.2,175.7 L291.7,175.4 L292.2,174.3 L292.7,175.6 L293.2,177.9 L293.7,176.2 L294.2,178.2 L294.7,179.1 L295.2,178.3 L295.7,174.5 L296.2,177.1 L296.7,178.6 L297.2,175.3 L297.7,177.3 L298.2,177.5 L298.7,174.1 L299.2,177.0 L299.7,174.5 L300.2,175.0 L300.7,178.9 L301.2,175.8 L301.7,175.9 L302.2,172.6 L302.7,172.0 L303.2,172.4 L303.7,173.4 L304.2,178.3 L304.7,178.0 L305.2,176.0 L305.7,174.2 L306.2,176.6 L306.7,174.6 L307.2,177.4 L307.7,174.4 L308.2,179.5 L308.7,178.9 L309.2,179.9 L309.7,175.3 L310.2,175.8 L310.7,177.7 L311.2,179.5 L311.7,174.2 L312.2,174.2 L312.7,173.3 L313.2,172.7 L313.7,173.4 L314.2,173.8 L314.7,174.7 L315.2,173.9 L315.7,171.9 L316.2,177.7 L316.7,177.0 L317.2,173.7 L317.7,178.6 L318.2,174.1 L318.7,172.5 L319.2,177.7 L319.7,177.3 L320.2,172.8 L320.7,168.6 L321.2,165.3 L321.7,163.8 L322.2,152.5 L322.7,153.5 L323.2,149.6 L323.7,155.5 L324.2,158.8 L324.7,156.7 L325.2,156.0 L325.7,156.5 L326.2,159.0 L326.7,160.6 L327.2,156.5 L327.7,159.5 L328.2,165.7 L328.7,166.0 L329.2,167.9 L329.7,168.4 L330.2,170.5 L330.7,176.8 L331.2,178.5 L331.7,177.1 L332.2,171.8 L332.7,172.8 L333.2,175.4 L333.7,175.9 L334.2,174.1 L334.7,178.0 L335.2,176.3 L335.7,173.8 L336.2,174.3 L336.7,178.3 L337.2,179.4 L337.7,174.3 L338.2,177.8 L338.7,178.2 L339.2,173.7 L339.7,176.2 L340.2,176.8 L340.7,174.8 L341.2,174.7 L341.7,174.2 L342.2,177.1 L342.7,169.9 L343.2,176.8 L343.7,172.6 L344.2,177.2 L344.7,175.0 L345.2,172.3 L345.7,175.7 L346.2,175.0 L346.7,175.8 L347.2,173.1 L347.7,166.9 L348.2,159.4 L348.7,153.4 L349.2,149.4 L349.7,149.3 L350.2,152.3 L350.7,151.5 L351.2,155.1 L351.7,159.3 L352.2,161.5 L352.7,154.1 L353.2,160.5 L353.7,159.5 L354.2,156.6 L354.7,157.0 L355.2,158.9 L355.7,162.7 L356.2,162.4 L356.7,165.3 L357.2,169.3 L357.7,167.0 L358.2,159.5 L358.7,154.6 L359.2,134.2 L359.7,101.3 L360.2,75.9 L360.7,62.6 L361.2,54.1 L361.7,61.4 L362.2,70.0 L362.7,85.4 L363.2,89.2 L363.7,97.1 L364.2,105.3 L364.7,109.4 L365.2,112.1 L365.7,117.3 L366.2,120.0 L366.7,128.9 L367.2,135.3 L367.7,147.6 L368.2,149.6 L368.7,160.6 L369.2,163.1 L369.7,170.1 L370.2,175.9 L370.7,171.6 L371.2,176.7 L371.7,174.7 L372.2,175.4 L372.7,177.2 L373.2,174.9 L373.7,177.1 L374.2,175.4 L374.7,175.7 L375.2,176.7 L375.7,173.4 L376.2,173.5 L376.7,171.2 L377.2,163.1 L377.7,157.5 L378.2,141.2 L378.7,115.9 L379.2,88.8 L379.7,63.1 L380.2,54.8 L380.7,59.8 L381.2,73.1 L381.7,81.8 L382.2,93.3 L382.7,104.8 L383.2,107.3 L383.7,113.2 L384.2,111.4 L384.7,116.7 L385.2,118.5 L385.7,124.6 L386.2,133.7 L386.7,141.7 L387.2,145.3 L387.7,155.8 L388.2,164.9 L388.7,165.5 L389.2,167.9 L389.7,175.4 L390.2,174.7 L390.7,176.4 L391.2,175.8 L391.7,172.3 L392.2,177.9 L392.7,173.1 L393.2,177.5 L393.7,180.1 L394.2,175.0 L394.7,174.1 L395.2,178.7 L395.7,178.0 L396.2,172.9 L396.7,178.7 L397.2,173.4 L397.7,173.0 L398.2,176.3 L398.7,175.4 L399.2,176.8 L399.7,177.2 L400.2,174.0 L400.7,178.3 L401.2,175.5 L401.7,173.9 L402.2,176.1 L402.7,180.3 L403.2,174.8 L403.7,174.8 L404.2,171.8 L404.7,176.7 L405.2,175.3 L405.7,170.1 L406.2,174.7 L406.7,172.5 L407.2,176.1 L407.7,176.5 L408.2,173.9 L408.7,176.4 L409.2,174.0 L409.7,171.8 L410.2,171.8 L410.7,177.8 L411.2,173.3 L411.7,170.1 L412.2,168.4 L412.7,154.3 L413.2,150.5 L413.7,140.1 L414.2,135.1 L414.7,138.9 L415.2,141.9 L415.7,141.4 L416.2,139.9 L416.7,144.3 L417.2,144.8 L417.7,145.8 L418.2,152.8 L418.7,155.3 L419.2,154.2 L419.7,159.8 L420.2,165.4 L420.7,164.6 L421.2,169.8 L421.7,167.8 L422.2,170.0 L422.7,175.5 L423.2,173.2 L423.7,174.7 L424.2,177.0 L424.7,177.3 L425.2,172.4 L425.7,175.3 L426.2,170.6 L426.7,177.3 L427.2,174.8 L427.7,174.7 L428.2,177.3 L428.7,170.5 L429.2,172.3 L429.7,173.7 L430.2,177.2 L430.7,174.4 L431.2,175.7 L431.7,174.7 L432.2,176.3 L432.7,177.5 L433.2,176.7 L433.7,178.1 L434.2,173.0 L434.7,176.9 L435.2,172.3 L435.7,175.0 L436.2,176.5 L436.7,175.4 L437.2,170.9 L437.7,176.5 L438.2,173.0 L438.7,171.6 L439.2,175.0 L439.7,173.5 L440.2,171.6 L440.7,177.0 L441.2,175.7 L441.7,171.8 L442.2,171.1 L442.7,177.3 L443.2,175.5 L443.7,177.2 L444.2,176.5 L444.7,175.8 L445.2,176.8 L445.7,172.5 L446.2,173.1 L446.7,172.0 L447.2,172.8 L447.7,171.2 L448.2,177.3 L448.7,171.8 L449.2,178.4 L449.7,179.7 L450.2,173.0 L450.7,174.2 L451.2,177.6 L451.7,171.8 L452.2,175.7 L452.7,175.9 L453.2,175.4 L453.7,171.4 L454.2,175.4 L454.7,171.0 L455.2,174.7 L455.7,167.3 L456.2,166.0 L456.7,164.5 L457.2,162.9 L457.7,160.2 L458.2,157.9 L458.7,155.5 L459.2,152.9 L459.7,148.6 L460.2,142.3 L460.7,141.7 L461.2,136.2 L461.7,130.4 L462.2,130.7 L462.7,129.1 L463.2,127.0 L463.7,125.8 L464.2,128.7 L464.7,133.6 L465.2,133.2 L465.7,136.1 L466.2,136.8 L466.7,146.3 L467.2,146.8 L467.7,150.1 L468.2,155.4 L468.7,155.2 L469.2,165.6 L469.7,164.2 L470.2,170.1 L470.7,167.5 L471.2,172.0 L471.7,168.4 L472.2,171.7 L472.7,175.5 L473.2,170.3 L473.7,172.7 L474.2,169.8 L474.7,174.3 L475.2,170.7 L475.7,176.1 L476.2,167.6 L476.7,176.2 L477.2,170.5 L477.7,173.9 L478.2,174.3 L478.7,169.3 L479.2,172.4 L479.7,175.5 L480.2,171.4 L480.7,170.9 L481.2,172.6 L481.7,170.3 L482.2,173.0 L482.7,172.3 L483.2,167.3 L483.7,172.1 L484.2,168.0 L484.7,170.9 L485.2,172.9 L485.7,169.2 L486.2,167.5 L486.7,172.2 L487.2,172.8 L487.7,172.3 L488.2,174.3 L488.7,169.4 L489.2,172.1 L489.7,169.3 L490.2,170.1 L490.7,171.0 L491.2,169.8 L491.7,174.9 L492.2,172.4 L492.7,173.3 L493.2,174.3 L493.7,174.0 L494.2,175.8 L494.7,174.8 L495.2,168.0 L495.7,169.7 L496.2,167.0 L496.7,174.5 L497.2,171.0 L497.7,172.8 L498.2,170.5 L498.7,165.3 L499.2,157.6 L499.7,153.3 L500.2,146.0 L500.7,141.7 L501.2,136.2 L501.7,137.1 L502.2,139.7 L502.7,142.2 L503.2,142.7 L503.7,146.0 L504.2,147.5 L504.7,156.2 L505.2,158.4 L505.7,152.7 L506.2,160.3 L506.7,154.2 L507.2,157.0 L507.7,154.7 L508.2,150.0 L508.7,149.5 L509.2,145.9 L509.7,136.9 L510.2,133.5 L510.7,132.7 L511.2,129.9 L511.7,132.3 L512.2,126.9 L512.7,128.2 L513.2,127.1 L513.7,134.2 L514.2,136.4 L514.7,133.5 L515.2,142.2 L515.7,143.2 L516.2,142.8 L516.7,146.8 L517.2,153.0 L517.7,151.9 L518.2,154.3 L518.7,160.4 L519.2,164.2 L519.7,167.3 L520.2,167.4 L520.7,166.1 L521.2,166.4 L521.7,171.5 L522.2,169.8 L522.7,168.3 L523.2,168.6 L523.7,171.5 L524.2,174.7 L524.7,177.2 L525.2,176.0 L525.7,176.1 L526.2,175.3 L526.7,177.5 L527.2,175.0 L527.7,172.7 L528.2,175.5 L528.7,173.1 L529.2,173.8 L529.7,176.7 L530.2,176.5 L530.7,172.4 L531.2,178.6 L531.7,172.7 L532.2,173.5 L532.7,172.5 L533.2,174.0 L533.7,168.1 L534.2,165.3 L534.7,161.3 L535.2,156.2 L535.7,149.2 L536.2,143.8 L536.7,144.5 L537.2,145.0 L537.7,142.0 L538.2,143.3 L538.7,134.5 L539.2,131.7 L539.7,129.6 L540.2,131.0 L540.7,138.5 L541.2,139.9 L541.7,136.9 L542.2,147.1 L542.7,145.3 L543.2,149.4 L543.7,160.8 L544.2,161.3 L544.7,164.2 L545.2,166.4 L545.7,165.5 L546.2,170.7 L546.7,171.0 L547.2,171.7 L547.7,174.2 L548.2,174.9 L548.7,173.0 L549.2,172.0 L549.7,173.9 L550.2,177.3 L550.7,178.8 L551.2,179.4 L551.7,173.7 L552.2,175.5 L552.7,178.9 L553.2,173.4 L553.7,171.9 L554.2,173.6 L554.7,176.3 L555.2,175.6 L555.7,174.6 L556.2,180.1 L556.7,173.6 L557.2,179.1 L557.7,178.6 L558.2,177.3 L558.7,173.9 L559.2,171.2 L559.7,171.7 L560.2,171.4 L560.7,173.6 L561.2,174.6 L561.7,170.0 L562.2,173.3 L562.7,171.3 L563.2,173.4 L563.7,175.5 L564.2,174.6 L564.7,171.6 L565.2,172.4 L565.7,173.3 L566.2,172.0 L566.7,175.1 L567.2,175.4 L567.7,173.5 L568.2,170.1 L568.7,175.2 L569.2,175.9 L569.7,177.6 L570.2,174.8 L570.7,178.5 L571.2,175.2 L571.7,178.2 L572.2,178.2 L572.7,178.6 L573.2,177.4 L573.7,175.2 L574.2,179.3 L574.7,175.2 L575.2,176.8 L575.7,175.5 L576.2,175.3 L576.7,179.9 L577.2,176.0 L577.7,175.7 L578.2,177.2 L578.7,179.3 L579.2,177.0 L579.7,180.5 L580.2,177.2 L580.7,176.8 L581.2,175.3 L581.7,174.3 L582.2,179.2 L582.7,178.9 L583.2,179.5 L583.7,174.3 L584.2,177.9 L584.7,176.8 L585.2,176.4 L585.7,171.2 L586.2,172.0 L586.7,169.3 L587.2,165.6 L587.7,162.6 L588.2,161.2 L588.7,160.6 L589.2,159.8 L589.7,151.4 L590.2,155.4 L590.7,157.6 L591.2,158.6 L591.7,163.4 L592.2,165.3 L592.7,167.1 L593.2,165.1 L593.7,167.8 L594.2,169.0 L594.7,175.1 L595.2,177.0 L595.7,175.2 L596.2,173.1 L596.7,173.3 L597.2,176.8 L597.7,177.8 L598.2,174.5 L598.7,178.8 L599.2,174.4 L599.7,178.1 L600.2,178.1 L600.7,178.9 L601.2,180.7 L601.7,175.5 L602.2,175.2 L602.7,176.8 L603.2,173.2 L603.7,175.5 L604.2,177.5 L604.7,178.5 L605.2,175.2 L605.7,173.0 L606.2,173.8 L606.7,171.6 L607.2,170.7 L607.7,177.5 L608.2,166.0 L608.7,173.1 L609.2,172.4 L609.7,172.5 L610.2,164.7 L610.7,166.8 L611.2,170.6 L611.7,166.4 L612.2,166.6 L612.7,167.7 L613.2,167.3 L613.7,167.4 L614.2,166.4 L614.7,170.9 L615.2,171.3 L615.7,170.6 L616.2,171.6 L616.7,171.8 L617.2,176.6 L617.7,172.5 L618.2,173.1 L618.7,176.4 L619.2,178.3 L619.7,176.4 L620.2,177.1 L620.7,179.6 L621.2,179.2 L621.7,179.6 L622.2,174.0 L622.7,177.5 L623.2,171.5 L623.7,177.5 L624.2,173.0 L624.7,180.1 L625.2,173.6 L625.7,172.7 L626.2,172.7 L626.7,172.7 L627.2,174.9 L627.7,175.1 L628.2,178.5 L628.7,174.8 L629.2,173.0 L629.7,173.6 L630.2,179.6 L630.7,174.9 L631.2,180.7 L631.7,176.3 L632.2,177.8 L632.7,180.6 L633.2,179.0 L633.7,180.3 L634.2,181.5 L634.7,177.2 L635.2,176.7 L635.7,181.9 L636.2,178.8 L636.7,180.8 L637.2,182.3 L637.7,176.3 L638.2,174.3 L638.7,184.3 L639.2,178.2 L639.7,182.0 L640.2,184.6 L640.7,180.4 L641.2,176.6 L641.7,176.6 L642.2,180.9 L642.7,180.8 L643.2,177.7 L643.7,180.7 L644.2,182.3 L644.7,177.2 L645.2,179.9 L645.7,183.0 L646.2,177.6 L646.7,178.8 L647.2,181.1 L647.7,181.9 L648.2,181.3 L648.7,176.4 L649.2,179.5 L649.7,174.4 L650.2,177.3 L650.7,179.7 L651.2,179.2 L651.7,182.1 L652.2,180.3 L652.7,178.8 L653.2,175.8 L653.7,178.5 L654.2,178.6 L654.7,181.6 L655.2,177.4 L655.7,175.9 L656.2,175.1 L656.7,177.6 L657.2,177.2 L657.7,176.1 L658.2,179.5 L658.7,173.1 L659.2,176.1 L659.7,170.8 L660.2,175.2 L660.7,177.5 L661.2,175.0 L661.7,180.7 L662.2,176.4 L662.7,172.8 L663.2,175.6 L663.7,177.4 L664.2,178.5 L664.7,179.0 L665.2,180.1 L665.7,176.9 L666.2,177.8 L666.7,180.9 L667.2,176.7 L667.7,177.1 L668.2,180.2 L668.7,174.5 L669.2,180.3 L669.7,179.0 L670.2,174.4 L670.7,181.3 L671.2,183.5 L671.7,178.9 L672.2,180.3 L672.7,178.8 L673.2,180.0 L673.7,180.4 L674.2,178.0 L674.7,180.1 L675.2,181.2 L675.7,180.4 L676.2,185.3 L676.7,180.1 L677.2,184.8 L677.7,181.2 L678.2,184.0 L678.7,179.9 L679.2,183.4 L679.7,182.3 L680.2,179.7 L680.7,181.2 L681.2,179.7 L681.7,180.3 L682.2,183.0 L682.7,183.2 L683.2,178.9 L683.7,178.3 L684.2,180.4 L684.7,176.5 L685.2,179.3 L685.7,182.9 L686.2,177.4 L686.7,180.5 L687.2,181.1 L687.7,179.8 L688.2,179.2 L688.7,181.7 L689.2,175.7 L689.7,177.7 L690.2,179.4 L690.7,182.2 L691.2,175.5 L691.7,178.2 L692.2,178.5 L692.7,175.9 L693.2,179.8 L693.7,176.5 L694.2,176.2 L694.7,176.4 L695.2,177.1 L695.7,181.3 L696.2,177.1 L696.7,181.4 L697.2,182.5 L697.7,184.0 L698.2,179.0 L698.7,182.3 L699.2,182.2 L699.7,179.2 L700.2,184.0 L700.7,184.3 L701.2,185.1 L701.7,185.0 L702.2,180.4 L702.7,181.8 L703.2,185.2 L703.7,183.4 L704.2,180.4 L704.7,180.4 L705.2,182.2 L705.7,181.4 L706.2,184.7 L706.7,183.0 L707.2,182.8 L707.7,180.9 L708.2,183.1 L708.7,181.1 L709.2,182.3 L709.7,181.8 L710.2,184.2 L710.7,182.3 L711.2,178.8 L711.7,179.6 L712.2,178.7 L712.7,181.2 L713.2,184.7 L713.7,184.1 L714.2,179.8 L714.7,182.9 L715.2,176.8 L715.7,176.9 L716.2,179.5 L716.7,175.9 L717.2,173.5 L717.7,175.5 L718.2,172.0 L718.7,176.3 L719.2,172.5 L719.7,171.4 L720.2,170.2 L720.7,172.6 L721.2,173.6 L721.7,173.8 L722.2,170.3 L722.7,171.8 L723.2,171.8 L723.7,175.8 L724.2,178.4 L724.7,176.5 L725.2,181.5 L725.7,172.7 L726.2,175.4 L726.7,175.5 L727.2,178.8 L727.7,173.4 L728.2,177.2 L728.7,176.4 L729.2,177.4 L729.7,177.8 L730.2,173.8 L730.7,175.9 L731.2,171.6 L731.7,176.1 L732.2,173.7 L732.7,178.3 L733.2,178.1 L733.7,179.6 L734.2,180.0 L734.7,183.1 L735.2,180.1 L735.7,178.9 L736.2,182.8 L736.7,180.7 L737.2,182.4 L737.7,186.1 L738.2,179.9 L738.7,180.3 L739.2,182.6 L739.7,181.1 L740.2,185.9 L740.7,180.6 L741.2,186.2 L741.7,180.1 L742.2,181.1 L742.7,184.5 L743.2,179.5 L743.7,181.0 L744.2,180.4 L744.7,178.4 L745.2,178.3 L745.7,179.0 L746.2,176.3 L746.7,182.2 L747.2,181.1 L747.7,178.7 L748.2,177.0 L748.7,175.9 L749.2,178.1 L749.7,178.0 L750.2,172.5 L750.7,177.1 L751.2,172.7 L751.7,173.7 L752.2,176.7 L752.7,174.5 L753.2,174.7 L753.7,180.8 L754.2,180.2 L754.7,181.1 L755.2,177.0 L755.7,180.4 L756.2,177.1 L756.7,185.1 L757.2,181.7 L757.7,181.4 L758.2,180.8 L758.7,183.4 L759.2,179.6 L759.7,184.2 L760.2,185.2 L760.7,184.1 L761.2,178.7 L761.7,184.4 L762.2,185.4 L762.7,186.0 L763.2,179.7 L763.7,180.9 L764.2,182.9 L764.7,187.7 L765.2,181.7 L765.7,184.1 L766.2,180.8 L766.7,182.0 L767.2,183.6 L767.7,183.9 L768.2,184.9 L768.7,182.6 L769.2,179.6 L769.7,183.5 L770.2,178.9 L770.7,183.5 L771.2,180.4 L771.7,184.6 L772.2,182.9 L772.7,184.7 L773.2,183.2 L773.7,178.5 L774.2,180.3 L774.7,180.1 L775.2,181.6 L775.7,181.8 L776.2,180.1 L776.7,182.2 L777.2,179.1 L777.7,186.4 L778.2,179.2 L778.7,180.1 L779.2,179.1 L779.7,182.5 L780.2,180.8 L780.7,182.7 L781.2,183.4 L781.7,177.4 L782.2,177.9 L782.7,179.4 L783.2,178.2 L783.7,182.8 L784.2,178.6 L784.7,180.2 L785.2,175.6 L785.7,181.6 L786.2,175.7 L786.7,179.9 L787.2,177.5 L787.7,176.5 L788.2,180.3 L788.7,181.2 L789.2,177.7 L789.7,178.1 L790.2,177.6 L790.7,178.8 L791.2,179.8 L791.7,179.5 L792.2,177.1 L792.7,177.0 L793.2,180.3 L793.7,177.4 L794.2,182.7 L794.7,182.4 L795.2,180.2 L795.7,180.3 L796.2,181.5 L796.7,181.1 L797.2,181.0 L797.7,183.0 L798.2,179.5 L798.7,181.6 L799.2,183.1 L799.7,179.8 L800.2,177.2 L800.7,181.6 L801.2,179.4 L801.7,178.4 L802.2,180.1 L802.7,180.6 L803.2,182.0 L803.7,180.1 L804.2,183.0 L804.7,179.1 L805.2,178.2 L805.7,177.3 L806.2,176.7 L806.7,183.7 L807.2,181.2 L807.7,177.4 L808.2,178.2 L808.7,182.1 L809.2,177.6 L809.7,176.1 L810.2,179.4 L810.7,182.0 L811.2,178.1 L811.7,181.3 L812.2,182.1 L812.7,177.6 L813.2,178.3 L813.7,177.8 L814.2,181.9 L814.7,181.4 L815.2,183.2 L815.7,178.2 L816.2,178.9 L816.7,184.0 L817.2,179.9 L817.7,182.0 L818.2,186.4 L818.7,181.4 L819.2,178.3 L819.7,184.5 L820.2,185.8 L820.7,183.9 L821.2,181.1 L821.7,182.0 L822.2,181.2 L822.7,179.8 L823.2,181.9 L823.7,184.0 L824.2,181.8 L824.7,182.2 L825.2,181.0 L825.7,178.2 L826.2,178.5 L826.7,178.0 L827.2,182.8 L827.7,180.4 L828.2,179.8 L828.7,183.8 L829.2,182.4 L829.7,181.0 L830.2,178.1 L830.7,183.3 L831.2,178.3 L831.7,182.1 L832.2,179.8 L832.7,180.3 L833.2,182.6 L833.7,183.2 L834.2,182.1 L834.7,182.8 L835.2,182.4 L835.7,182.7 L836.2,180.6 L836.7,183.6 L837.2,184.7 L837.7,182.2 L838.2,178.8 L838.7,185.0 L839.2,183.5 L839.7,179.4 L840.2,180.9 L840.7,186.3 L841.2,182.4 L841.7,180.3 L842.2,181.3 L842.7,180.1 L843.2,182.5 L843.7,182.2" stroke="#808000" stroke-width="3.2"/>
</g>
<g stroke="#000" stroke-width="2.9" stroke-linecap="round">
<line x1="100.9" y1="765.1" x2="100.9" y2="750.2"/>
<line x1="131.2" y1="765.1" x2="131.2" y2="750.2"/>
<line x1="161.5" y1="765.1" x2="161.5" y2="742.7"/>
<line x1="191.8" y1="765.1" x2="191.8" y2="750.2"/>
<line x1="222.2" y1="765.1" x2="222.2" y2="750.2"/>
<line x1="252.5" y1="765.1" x2="252.5" y2="750.2"/>
<line x1="282.8" y1="765.1" x2="282.8" y2="750.2"/>
<line x1="313.1" y1="765.1" x2="313.1" y2="742.7"/>
<line x1="343.5" y1="765.1" x2="343.5" y2="750.2"/>
<line x1="373.8" y1="765.1" x2="373.8" y2="750.2"/>
<line x1="404.1" y1="765.1" x2="404.1" y2="750.2"/>
<line x1="434.4" y1="765.1" x2="434.4" y2="750.2"/>
<line x1="464.7" y1="765.1" x2="464.7" y2="742.7"/>
<line x1="495.1" y1="765.1" x2="495.1" y2="750.2"/>
<line x1="525.4" y1="765.1" x2="525.4" y2="750.2"/>
<line x1="555.7" y1="765.1" x2="555.7" y2="750.2"/>
<line x1="586.0" y1="765.1" x2="586.0" y2="750.2"/>
<line x1="616.4" y1="765.1" x2="616.4" y2="742.7"/>
<line x1="646.7" y1="765.1" x2="646.7" y2="750.2"/>
<line x1="677.0" y1="765.1" x2="677.0" y2="750.2"/>
<line x1="707.3" y1="765.1" x2="707.3" y2="750.2"/>
<line x1="737.7" y1="765.1" x2="737.7" y2="750.2"/>
<line x1="768.0" y1="765.1" x2="768.0" y2="742.7"/>
<line x1="798.3" y1="765.1" x2="798.3" y2="750.2"/>
<line x1="828.6" y1="765.1" x2="828.6" y2="750.2"/>
</g>
<rect x="85.7" y="6.8" width="758.1" height="758.9" fill="none" stroke="#000" stroke-width="3.2" stroke-linejoin="round"/>
</g>
<g id="panelB">
<g stroke="#000" stroke-width="2.9" stroke-linecap="round">
<line x1="1024.2" y1="767.4" x2="1024.2" y2="753.3"/>
<line x1="1024.2" y1="7.4" x2="1024.2" y2="21.5"/>
<line x1="1045.6" y1="767.4" x2="1045.6" y2="753.3"/>
<line x1="1045.6" y1="7.4" x2="1045.6" y2="21.5"/>
<line x1="1067.1" y1="767.4" x2="1067.1" y2="745.7"/>
<line x1="1067.1" y1="7.4" x2="1067.1" y2="29.1"/>
<line x1="1088.5" y1="767.4" x2="1088.5" y2="753.3"/>
<line x1="1088.5" y1="7.4" x2="1088.5" y2="21.5"/>
<line x1="1110.0" y1="767.4" x2="1110.0" y2="753.3"/>
<line x1="1110.0" y1="7.4" x2="1110.0" y2="21.5"/>
<line x1="1131.4" y1="767.4" x2="1131.4" y2="753.3"/>
<line x1="1131.4" y1="7.4" x2="1131.4" y2="21.5"/>
<line x1="1152.9" y1="767.4" x2="1152.9" y2="753.3"/>
<line x1="1152.9" y1="7.4" x2="1152.9" y2="21.5"/>
<line x1="1174.3" y1="767.4" x2="1174.3" y2="745.7"/>
<line x1="1174.3" y1="7.4" x2="1174.3" y2="29.1"/>
<line x1="1195.8" y1="767.4" x2="1195.8" y2="753.3"/>
<line x1="1195.8" y1="7.4" x2="1195.8" y2="21.5"/>
<line x1="1217.2" y1="767.4" x2="1217.2" y2="753.3"/>
<line x1="1217.2" y1="7.4" x2="1217.2" y2="21.5"/>
<line x1="1238.7" y1="767.4" x2="1238.7" y2="753.3"/>
<line x1="1238.7" y1="7.4" x2="1238.7" y2="21.5"/>
<line x1="1260.1" y1="767.4" x2="1260.1" y2="753.3"/>
<line x1="1260.1" y1="7.4" x2="1260.1" y2="21.5"/>
<line x1="1281.6" y1="767.4" x2="1281.6" y2="745.7"/>
<line x1="1281.6" y1="7.4" x2="1281.6" y2="29.1"/>
<line x1="1303.0" y1="767.4" x2="1303.0" y2="753.3"/>
<line x1="1303.0" y1="7.4" x2="1303.0" y2="21.5"/>
<line x1="1324.5" y1="767.4" x2="1324.5" y2="753.3"/>
<line x1="1324.5" y1="7.4" x2="1324.5" y2="21.5"/>
<line x1="1345.9" y1="767.4" x2="1345.9" y2="753.3"/>
<line x1="1345.9" y1="7.4" x2="1345.9" y2="21.5"/>
<line x1="1367.4" y1="767.4" x2="1367.4" y2="753.3"/>
<line x1="1367.4" y1="7.4" x2="1367.4" y2="21.5"/>
<line x1="1388.8" y1="767.4" x2="1388.8" y2="745.7"/>
<line x1="1388.8" y1="7.4" x2="1388.8" y2="29.1"/>
<line x1="1410.3" y1="767.4" x2="1410.3" y2="753.3"/>
<line x1="1410.3" y1="7.4" x2="1410.3" y2="21.5"/>
<line x1="1431.7" y1="767.4" x2="1431.7" y2="753.3"/>
<line x1="1431.7" y1="7.4" x2="1431.7" y2="21.5"/>
<line x1="1453.2" y1="767.4" x2="1453.2" y2="753.3"/>
<line x1="1453.2" y1="7.4" x2="1453.2" y2="21.5"/>
<line x1="1474.6" y1="767.4" x2="1474.6" y2="753.3"/>
<line x1="1474.6" y1="7.4" x2="1474.6" y2="21.5"/>
<line x1="1496.1" y1="767.4" x2="1496.1" y2="745.7"/>
<line x1="1496.1" y1="7.4" x2="1496.1" y2="29.1"/>
<line x1="1517.5" y1="767.4" x2="1517.5" y2="753.3"/>
<line x1="1517.5" y1="7.4" x2="1517.5" y2="21.5"/>
<line x1="1539.0" y1="767.4" x2="1539.0" y2="753.3"/>
<line x1="1539.0" y1="7.4" x2="1539.0" y2="21.5"/>
<line x1="1560.4" y1="767.4" x2="1560.4" y2="753.3"/>
<line x1="1560.4" y1="7.4" x2="1560.4" y2="21.5"/>
<line x1="1581.9" y1="767.4" x2="1581.9" y2="753.3"/>
<line x1="1581.9" y1="7.4" x2="1581.9" y2="21.5"/>
<line x1="1603.3" y1="767.4" x2="1603.3" y2="745.7"/>
<line x1="1603.3" y1="7.4" x2="1603.3" y2="29.1"/>
<line x1="1624.8" y1="767.4" x2="1624.8" y2="753.3"/>
<line x1="1624.8" y1="7.4" x2="1624.8" y2="21.5"/>
<line x1="1646.2" y1="767.4" x2="1646.2" y2="753.3"/>
<line x1="1646.2" y1="7.4" x2="1646.2" y2="21.5"/>
<line x1="1667.7" y1="767.4" x2="1667.7" y2="753.3"/>
<line x1="1667.7" y1="7.4" x2="1667.7" y2="21.5"/>
<line x1="1689.1" y1="767.4" x2="1689.1" y2="753.3"/>
<line x1="1689.1" y1="7.4" x2="1689.1" y2="21.5"/>
<line x1="1710.6" y1="767.4" x2="1710.6" y2="745.7"/>
<line x1="1710.6" y1="7.4" x2="1710.6" y2="29.1"/>
<line x1="1732.0" y1="767.4" x2="1732.0" y2="753.3"/>
<line x1="1732.0" y1="7.4" x2="1732.0" y2="21.5"/>
<line x1="1753.5" y1="767.4" x2="1753.5" y2="753.3"/>
<line x1="1753.5" y1="7.4" x2="1753.5" y2="21.5"/>
<line x1="1003.3" y1="757.4" x2="1017.7" y2="757.4"/>
<line x1="1763.6" y1="757.4" x2="1749.2" y2="757.4"/>
<line x1="1003.3" y1="735.0" x2="1017.7" y2="735.0"/>
<line x1="1763.6" y1="735.0" x2="1749.2" y2="735.0"/>
<line x1="1003.3" y1="712.6" x2="1017.7" y2="712.6"/>
<line x1="1763.6" y1="712.6" x2="1749.2" y2="712.6"/>
<line x1="1003.3" y1="690.2" x2="1017.7" y2="690.2"/>
<line x1="1763.6" y1="690.2" x2="1749.2" y2="690.2"/>
<line x1="1003.3" y1="667.8" x2="1025.2" y2="667.8"/>
<line x1="1763.6" y1="667.8" x2="1741.7" y2="667.8"/>
<line x1="1003.3" y1="645.4" x2="1017.7" y2="645.4"/>
<line x1="1763.6" y1="645.4" x2="1749.2" y2="645.4"/>
<line x1="1003.3" y1="623.0" x2="1017.7" y2="623.0"/>
<line x1="1763.6" y1="623.0" x2="1749.2" y2="623.0"/>
<line x1="1003.3" y1="600.6" x2="1017.7" y2="600.6"/>
<line x1="1763.6" y1="600.6" x2="1749.2" y2="600.6"/>
<line x1="1003.3" y1="578.2" x2="1017.7" y2="578.2"/>
<line x1="1763.6" y1="578.2" x2="1749.2" y2="578.2"/>
<line x1="1003.3" y1="555.7" x2="1025.2" y2="555.7"/>
<line x1="1763.6" y1="555.7" x2="1741.7" y2="555.7"/>
<line x1="1003.3" y1="533.3" x2="1017.7" y2="533.3"/>
<line x1="1763.6" y1="533.3" x2="1749.2" y2="533.3"/>
<line x1="1003.3" y1="510.9" x2="1017.7" y2="510.9"/>
<line x1="1763.6" y1="510.9" x2="1749.2" y2="510.9"/>
<line x1="1003.3" y1="488.5" x2="1017.7" y2="488.5"/>
<line x1="1763.6" y1="488.5" x2="1749.2" y2="488.5"/>
<line x1="1003.3" y1="466.1" x2="1017.7" y2="466.1"/>
<line x1="1763.6" y1="466.1" x2="1749.2" y2="466.1"/>
<line x1="1003.3" y1="443.7" x2="1025.2" y2="443.7"/>
<line x1="1763.6" y1="443.7" x2="1741.7" y2="443.7"/>
<line x1="1003.3" y1="421.3" x2="1017.7" y2="421.3"/>
<line x1="1763.6" y1="421.3" x2="1749.2" y2="421.3"/>
<line x1="1003.3" y1="398.9" x2="1017.7" y2="398.9"/>
<line x1="1763.6" y1="398.9" x2="1749.2" y2="398.9"/>
<line x1="1003.3" y1="376.4" x2="1017.7" y2="376.4"/>
<line x1="1763.6" y1="376.4" x2="1749.2" y2="376.4"/>
<line x1="1003.3" y1="354.0" x2="1017.7" y2="354.0"/>
<line x1="1763.6" y1="354.0" x2="1749.2" y2="354.0"/>
<line x1="1003.3" y1="331.6" x2="1025.2" y2="331.6"/>
<line x1="1763.6" y1="331.6" x2="1741.7" y2="331.6"/>
<line x1="1003.3" y1="309.2" x2="1017.7" y2="309.2"/>
<line x1="1763.6" y1="309.2" x2="1749.2" y2="309.2"/>
<line x1="1003.3" y1="286.8" x2="1017.7" y2="286.8"/>
<line x1="1763.6" y1="286.8" x2="1749.2" y2="286.8"/>
<line x1="1003.3" y1="264.4" x2="1017.7" y2="264.4"/>
<line x1="1763.6" y1="264.4" x2="1749.2" y2="264.4"/>
<line x1="1003.3" y1="242.0" x2="1017.7" y2="242.0"/>
<line x1="1763.6" y1="242.0" x2="1749.2" y2="242.0"/>
<line x1="1003.3" y1="219.6" x2="1025.2" y2="219.6"/>
<line x1="1763.6" y1="219.6" x2="1741.7" y2="219.6"/>
<line x1="1003.3" y1="197.1" x2="1017.7" y2="197.1"/>
<line x1="1763.6" y1="197.1" x2="1749.2" y2="197.1"/>
<line x1="1003.3" y1="174.7" x2="1017.7" y2="174.7"/>
<line x1="1763.6" y1="174.7" x2="1749.2" y2="174.7"/>
<line x1="1003.3" y1="152.3" x2="1017.7" y2="152.3"/>
<line x1="1763.6" y1="152.3" x2="1749.2" y2="152.3"/>
<line x1="1003.3" y1="129.9" x2="1017.7" y2="129.9"/>
<line x1="1763.6" y1="129.9" x2="1749.2" y2="129.9"/>
<line x1="1003.3" y1="107.5" x2="1025.2" y2="107.5"/>
<line x1="1763.6" y1="107.5" x2="1741.7" y2="107.5"/>
<line x1="1003.3" y1="85.1" x2="1017.7" y2="85.1"/>
<line x1="1763.6" y1="85.1" x2="1749.2" y2="85.1"/>
<line x1="1003.3" y1="62.7" x2="1017.7" y2="62.7"/>
<line x1="1763.6" y1="62.7" x2="1749.2" y2="62.7"/>
<line x1="1003.3" y1="40.3" x2="1017.7" y2="40.3"/>
<line x1="1763.6" y1="40.3" x2="1749.2" y2="40.3"/>
<line x1="1003.3" y1="17.9" x2="1017.7" y2="17.9"/>
<line x1="1763.6" y1="17.9" x2="1749.2" y2="17.9"/>
</g>
<clipPath id="clipB"><rect x="1002.7" y="6.8" width="763.0" height="761.2"/></clipPath>
<g clip-path="url(#clipB)" fill="none" stroke-linejoin="round" stroke-linecap="butt">
<path d="M1002.7,108.9 L1003.7,109.0 L1004.7,109.0 L1005.7,109.1 L1006.7,109.2 L1007.7,109.2 L1008.7,109.3 L1009.7,109.4 L1010.7,109.4 L1011.7,109.5 L1012.7,109.6 L1013.7,109.6 L1014.7,109.7 L1015.7,109.8 L1016.7,109.8 L1017.7,109.9 L1018.7,110.0 L1019.7,110.0 L1020.7,110.1 L1021.7,110.2 L1022.7,110.2 L1023.7,110.3 L1024.7,110.4 L1025.6,110.4 L1026.6,110.5 L1027.6,110.6 L1028.6,110.6 L1029.6,110.7 L1030.6,110.8 L1031.6,110.8 L1032.6,110.9 L1033.6,111.0 L1034.6,111.0 L1035.6,111.1 L1036.6,111.2 L1037.6,111.2 L1038.6,111.3 L1039.6,111.3 L1040.6,111.4 L1041.6,111.5 L1042.6,111.5 L1043.6,111.6 L1044.6,111.7 L1045.6,111.7 L1046.6,111.8 L1047.6,111.8 L1048.6,111.9 L1049.6,112.0 L1050.6,112.0 L1051.6,112.1 L1052.6,112.1 L1053.6,112.2 L1054.6,112.3 L1055.6,112.3 L1056.6,112.4 L1057.6,112.4 L1058.6,112.5 L1059.6,112.5 L1060.6,112.6 L1061.6,112.6 L1062.6,112.7 L1063.6,112.7 L1064.6,112.8 L1065.6,112.9 L1066.6,112.9 L1067.6,113.0 L1068.6,113.0 L1069.6,113.1 L1070.6,113.1 L1071.6,113.2 L1072.6,113.2 L1073.6,113.3 L1074.6,113.4 L1075.6,113.4 L1076.6,113.5 L1077.6,113.5 L1078.6,113.6 L1079.6,113.7 L1080.5,113.7 L1081.5,113.8 L1082.5,113.9 L1083.5,113.9 L1084.5,114.0 L1085.5,114.1 L1086.5,114.1 L1087.5,114.2 L1088.5,114.3 L1089.5,114.3 L1090.5,114.4 L1091.5,114.5 L1092.5,114.6 L1093.5,114.6 L1094.5,114.7 L1095.5,114.8 L1096.5,114.9 L1097.5,115.0 L1098.5,115.1 L1099.5,115.1 L1100.5,115.2 L1101.5,115.3 L1102.5,115.4 L1103.5,115.5 L1104.5,115.6 L1105.5,115.7 L1106.5,115.8 L1107.5,115.9 L1108.5,116.0 L1109.5,116.1 L1110.4,116.2 L1111.4,116.3 L1112.4,116.4 L1113.4,116.5 L1114.4,116.6 L1115.4,116.7 L1116.4,116.8 L1117.4,116.9 L1118.4,117.0 L1119.4,117.1 L1120.4,117.2 L1121.4,117.3 L1122.4,117.4 L1123.4,117.5 L1124.4,117.6 L1125.4,117.8 L1126.4,117.9 L1127.4,118.0 L1128.3,118.1 L1129.3,118.2 L1130.3,118.3 L1131.3,118.4 L1132.3,118.5 L1133.3,118.6 L1134.3,118.7 L1135.3,118.9 L1136.3,119.0 L1137.3,119.1 L1138.3,119.2 L1139.3,119.3 L1140.3,119.4 L1141.3,119.5 L1142.3,119.6 L1143.3,119.8 L1144.2,119.9 L1145.2,120.0 L1146.2,120.1 L1147.2,120.2 L1148.2,120.4 L1149.2,120.5 L1150.2,120.6 L1151.2,120.7 L1152.2,120.8 L1153.2,121.0 L1154.2,121.1 L1155.2,121.2 L1156.2,121.3 L1157.1,121.4 L1158.1,121.6 L1159.1,121.7 L1160.1,121.8 L1161.1,122.0 L1162.1,122.1 L1163.1,122.2 L1164.1,122.3 L1165.1,122.5 L1166.1,122.6 L1167.1,122.7 L1168.1,122.9 L1169.1,123.0 L1170.0,123.1 L1171.0,123.2 L1172.0,123.4 L1173.0,123.5 L1174.0,123.6 L1175.0,123.8 L1176.0,123.9 L1177.0,124.1 L1178.0,124.2 L1179.0,124.3 L1180.0,124.5 L1180.9,124.6 L1181.9,124.7 L1182.9,124.9 L1183.9,125.0 L1184.9,125.1 L1185.9,125.3 L1186.9,125.4 L1187.9,125.6 L1188.9,125.7 L1189.9,125.8 L1190.8,126.0 L1191.8,126.1 L1192.8,126.3 L1193.8,126.4 L1194.8,126.6 L1195.8,126.7 L1196.8,126.9 L1197.8,127.0 L1198.8,127.2 L1199.7,127.4 L1200.7,127.5 L1201.7,127.7 L1202.7,127.9 L1203.7,128.0 L1204.7,128.2 L1205.6,128.4 L1206.6,128.6 L1207.6,128.8 L1208.6,129.0 L1209.6,129.2 L1210.5,129.4 L1211.5,129.6 L1212.5,129.8 L1213.5,130.0 L1214.5,130.3 L1215.4,130.5 L1216.4,130.7 L1217.4,130.9 L1218.3,131.2 L1219.3,131.4 L1220.3,131.7 L1221.3,131.9 L1222.2,132.2 L1223.2,132.4 L1224.2,132.7 L1225.1,132.9 L1226.1,133.2 L1227.0,133.5 L1228.0,133.7 L1229.0,134.0 L1229.9,134.3 L1230.9,134.6 L1231.8,134.9 L1232.8,135.2 L1233.8,135.5 L1234.7,135.8 L1235.7,136.1 L1236.6,136.4 L1237.5,136.7 L1238.5,137.1 L1239.4,137.4 L1240.4,137.8 L1241.3,138.1 L1242.2,138.5 L1243.1,138.9 L1244.1,139.3 L1245.0,139.7 L1245.9,140.1 L1246.8,140.5 L1247.7,140.9 L1248.6,141.4 L1249.5,141.8 L1250.4,142.3 L1251.2,142.8 L1252.1,143.3 L1252.9,143.8 L1253.7,144.4 L1254.5,145.0 L1255.3,145.6 L1256.1,146.2 L1256.8,146.9 L1257.5,147.6 L1258.2,148.3 L1258.9,149.0 L1259.5,149.8 L1260.2,150.6 L1260.8,151.3 L1261.4,152.1 L1262.0,153.0 L1262.5,153.8 L1263.1,154.6 L1263.7,155.4 L1264.2,156.3 L1264.7,157.1 L1265.2,158.0 L1265.7,158.8 L1266.2,159.7 L1266.7,160.6 L1267.1,161.5 L1267.6,162.4 L1268.0,163.3 L1268.5,164.2 L1268.9,165.1 L1269.3,166.0 L1269.8,166.9 L1270.2,167.8 L1270.6,168.7 L1271.1,169.6 L1271.5,170.5 L1272.0,171.4 L1272.4,172.3 L1272.8,173.2 L1273.3,174.1 L1273.7,175.0 L1274.2,175.8 L1274.7,176.7 L1275.1,177.6 L1275.6,178.5 L1276.0,179.4 L1276.5,180.3 L1276.9,181.2 L1277.4,182.1 L1277.8,183.0 L1278.3,183.9 L1278.7,184.8 L1279.2,185.7 L1279.6,186.6 L1280.0,187.5 L1280.5,188.4 L1280.9,189.3 L1281.4,190.2 L1281.8,191.1 L1282.2,192.0 L1282.7,192.9 L1283.1,193.8 L1283.5,194.7 L1283.9,195.6 L1284.4,196.5 L1284.8,197.4 L1285.2,198.3 L1285.6,199.2 L1286.0,200.1 L1286.4,201.0 L1286.8,201.9 L1287.2,202.9 L1287.7,203.8 L1288.1,204.7 L1288.5,205.6 L1288.9,206.5 L1289.3,207.4 L1289.7,208.3 L1290.1,209.2 L1290.5,210.2 L1290.9,211.1 L1291.3,212.0 L1291.7,212.9 L1292.2,213.8 L1292.6,214.7 L1293.0,215.6 L1293.4,216.5 L1293.8,217.4 L1294.3,218.3 L1294.7,219.2 L1295.1,220.1 L1295.6,221.0 L1296.0,221.9 L1296.5,222.8 L1296.9,223.7 L1297.4,224.6 L1297.8,225.5 L1298.3,226.4 L1298.7,227.3 L1299.2,228.2 L1299.6,229.1 L1300.1,230.0 L1300.5,230.9 L1301.0,231.8 L1301.4,232.6 L1301.9,233.5 L1302.3,234.4 L1302.8,235.3 L1303.2,236.2 L1303.7,237.1 L1304.1,238.0 L1304.6,238.9 L1305.0,239.8 L1305.4,240.7 L1305.9,241.6 L1306.3,242.5 L1306.8,243.4 L1307.2,244.3 L1307.7,245.2 L1308.1,246.1 L1308.6,247.0 L1309.0,247.9 L1309.4,248.8 L1309.9,249.7 L1310.3,250.6 L1310.7,251.5 L1311.2,252.4 L1311.6,253.3 L1312.0,254.2 L1312.4,255.1 L1312.8,256.0 L1313.2,256.9 L1313.6,257.8 L1314.0,258.8 L1314.4,259.7 L1314.8,260.6 L1315.2,261.5 L1315.5,262.5 L1315.9,263.4 L1316.3,264.3 L1316.6,265.3 L1316.9,266.2 L1317.3,267.1 L1317.6,268.1 L1317.9,269.0 L1318.2,270.0 L1318.4,271.0 L1318.7,271.9 L1319.0,272.9 L1319.2,273.9 L1319.5,274.8 L1319.7,275.8 L1319.9,276.8 L1320.2,277.7 L1320.4,278.7 L1320.6,279.7 L1320.9,280.7 L1321.1,281.6 L1321.3,282.6 L1321.6,283.6 L1321.8,284.6 L1322.0,285.5 L1322.3,286.5 L1322.5,287.5 L1322.8,288.4 L1323.0,289.4 L1323.3,290.4 L1323.6,291.3 L1323.9,292.3 L1324.1,293.2 L1324.4,294.2 L1324.7,295.1 L1325.0,296.1 L1325.3,297.1 L1325.7,298.0 L1326.0,299.0 L1326.3,299.9 L1326.6,300.9 L1326.9,301.8 L1327.2,302.8 L1327.5,303.7 L1327.8,304.7 L1328.1,305.6 L1328.4,306.6 L1328.7,307.5 L1328.9,308.5 L1329.2,309.5 L1329.5,310.4 L1329.7,311.4 L1330.0,312.4 L1330.2,313.3 L1330.5,314.3 L1330.7,315.3 L1331.0,316.2 L1331.2,317.2 L1331.4,318.2 L1331.7,319.2 L1331.9,320.1 L1332.1,321.1 L1332.4,322.1 L1332.6,323.0 L1332.8,324.0 L1333.1,325.0 L1333.3,326.0 L1333.5,326.9 L1333.8,327.9 L1334.0,328.9 L1334.2,329.8 L1334.5,330.8 L1334.7,331.8 L1335.0,332.8 L1335.2,333.7 L1335.5,334.7 L1335.7,335.7 L1336.0,336.6 L1336.2,337.6 L1336.5,338.6 L1336.7,339.5 L1337.0,340.5 L1337.2,341.5 L1337.5,342.4 L1337.7,343.4 L1338.0,344.4 L1338.2,345.3 L1338.5,346.3 L1338.8,347.3 L1339.0,348.2 L1339.3,349.2 L1339.6,350.2 L1339.9,351.1 L1340.1,352.1 L1340.4,353.0 L1340.7,354.0 L1341.0,355.0 L1341.3,355.9 L1341.6,356.9 L1341.9,357.8 L1342.2,358.8 L1342.5,359.7 L1342.8,360.7 L1343.2,361.6 L1343.5,362.6 L1343.8,363.5 L1344.2,364.4 L1344.5,365.4 L1344.8,366.3 L1345.2,367.3 L1345.5,368.2 L1345.9,369.1 L1346.3,370.1 L1346.6,371.0 L1347.0,371.9 L1347.4,372.8 L1347.8,373.8 L1348.2,374.7 L1348.6,375.6 L1349.0,376.5 L1349.4,377.4 L1349.8,378.3 L1350.2,379.2 L1350.6,380.2 L1351.0,381.1 L1351.5,382.0 L1351.9,382.9 L1352.4,383.8 L1352.8,384.6 L1353.3,385.5 L1353.7,386.4 L1354.2,387.3 L1354.7,388.2 L1355.1,389.1 L1355.6,389.9 L1356.1,390.8 L1356.6,391.7 L1357.1,392.5 L1357.6,393.4 L1358.2,394.2 L1358.7,395.1 L1359.2,396.0 L1359.7,396.8 L1360.3,397.6 L1360.8,398.5 L1361.4,399.3 L1361.9,400.1 L1362.5,401.0 L1363.1,401.8 L1363.7,402.6 L1364.3,403.4 L1364.9,404.2 L1365.5,404.9 L1366.2,405.7 L1366.8,406.5 L1367.5,407.2 L1368.2,407.9 L1368.8,408.7 L1369.5,409.4 L1370.2,410.1 L1371.0,410.8 L1371.7,411.5 L1372.4,412.2 L1373.1,412.9 L1373.8,413.5 L1374.6,414.2 L1375.3,414.9 L1376.0,415.6 L1376.7,416.3 L1377.4,417.0 L1378.1,417.8 L1378.8,418.5 L1379.5,419.2 L1380.2,419.9 L1380.8,420.7 L1381.5,421.4 L1382.2,422.2 L1382.8,422.9 L1383.5,423.7 L1384.1,424.5 L1384.7,425.2 L1385.4,426.0 L1386.0,426.8 L1386.6,427.6 L1387.3,428.3 L1387.9,429.1 L1388.5,429.9 L1389.1,430.7 L1389.8,431.5 L1390.4,432.3 L1391.0,433.0 L1391.6,433.8 L1392.2,434.6 L1392.8,435.4 L1393.4,436.2 L1394.0,437.0 L1394.6,437.8 L1395.2,438.6 L1395.8,439.4 L1396.4,440.2 L1397.0,441.0 L1397.6,441.8 L1398.2,442.7 L1398.7,443.5 L1399.3,444.3 L1399.8,445.2 L1400.4,446.0 L1400.9,446.8 L1401.4,447.7 L1401.9,448.6 L1402.4,449.4 L1402.9,450.3 L1403.4,451.2 L1403.9,452.1 L1404.3,452.9 L1404.8,453.8 L1405.2,454.7 L1405.7,455.6 L1406.1,456.5 L1406.5,457.4 L1407.0,458.3 L1407.4,459.2 L1407.8,460.1 L1408.2,461.0 L1408.7,461.9 L1409.1,462.9 L1409.5,463.8 L1409.9,464.7 L1410.3,465.6 L1410.7,466.5 L1411.1,467.4 L1411.5,468.3 L1411.9,469.2 L1412.3,470.2 L1412.7,471.1 L1413.1,472.0 L1413.5,472.9 L1413.9,473.8 L1414.3,474.8 L1414.6,475.7 L1415.0,476.6 L1415.4,477.6 L1415.7,478.5 L1416.1,479.4 L1416.4,480.4 L1416.7,481.3 L1417.1,482.3 L1417.4,483.2 L1417.7,484.1 L1418.1,485.1 L1418.4,486.0 L1418.7,487.0 L1419.0,487.9 L1419.3,488.9 L1419.6,489.8 L1419.9,490.8 L1420.2,491.7 L1420.6,492.7 L1420.8,493.7 L1421.1,494.6 L1421.4,495.6 L1421.7,496.5 L1422.0,497.5 L1422.3,498.4 L1422.6,499.4 L1422.9,500.3 L1423.2,501.3 L1423.4,502.3 L1423.7,503.2 L1424.0,504.2 L1424.3,505.2 L1424.5,506.1 L1424.8,507.1 L1425.1,508.0 L1425.3,509.0 L1425.6,510.0 L1425.9,510.9 L1426.1,511.9 L1426.4,512.9 L1426.6,513.8 L1426.9,514.8 L1427.1,515.8 L1427.4,516.7 L1427.6,517.7 L1427.9,518.7 L1428.1,519.7 L1428.3,520.6 L1428.6,521.6 L1428.8,522.6 L1429.0,523.5 L1429.2,524.5 L1429.5,525.5 L1429.7,526.5 L1429.9,527.4 L1430.1,528.4 L1430.3,529.4 L1430.6,530.4 L1430.8,531.4 L1431.0,532.3 L1431.2,533.3 L1431.4,534.3 L1431.6,535.3 L1431.9,536.2 L1432.1,537.2 L1432.3,538.2 L1432.5,539.2 L1432.7,540.1 L1432.9,541.1 L1433.2,542.1 L1433.4,543.1 L1433.6,544.0 L1433.8,545.0 L1434.0,546.0 L1434.2,547.0 L1434.4,548.0 L1434.7,548.9 L1434.9,549.9 L1435.1,550.9 L1435.3,551.9 L1435.5,552.8 L1435.7,553.8 L1435.9,554.8 L1436.1,555.8 L1436.3,556.7 L1436.6,557.7 L1436.8,558.7 L1437.0,559.7 L1437.2,560.7 L1437.4,561.6 L1437.6,562.6 L1437.8,563.6 L1437.9,564.6 L1438.1,565.6 L1438.3,566.5 L1438.5,567.5 L1438.7,568.5 L1438.9,569.5 L1439.1,570.5 L1439.3,571.5 L1439.5,572.4 L1439.6,573.4 L1439.8,574.4 L1440.0,575.4 L1440.2,576.4 L1440.4,577.4 L1440.5,578.3 L1440.7,579.3 L1440.9,580.3 L1441.1,581.3 L1441.2,582.3 L1441.4,583.3 L1441.6,584.2 L1441.8,585.2 L1441.9,586.2 L1442.1,587.2 L1442.3,588.2 L1442.5,589.2 L1442.6,590.2 L1442.8,591.1 L1443.0,592.1 L1443.1,593.1 L1443.3,594.1 L1443.4,595.1 L1443.6,596.1 L1443.8,597.1 L1443.9,598.1 L1444.1,599.0 L1444.2,600.0 L1444.4,601.0 L1444.6,602.0 L1444.7,603.0 L1444.9,604.0 L1445.1,605.0 L1445.2,605.9 L1445.4,606.9 L1445.6,607.9 L1445.8,608.9 L1446.0,609.9 L1446.2,610.9 L1446.3,611.8 L1446.5,612.8 L1446.7,613.8 L1446.9,614.8 L1447.1,615.8 L1447.4,616.7 L1447.6,617.7 L1447.8,618.7 L1448.0,619.7 L1448.2,620.6 L1448.5,621.6 L1448.7,622.6 L1448.9,623.6 L1449.2,624.5 L1449.4,625.5 L1449.7,626.5 L1449.9,627.4 L1450.2,628.4 L1450.5,629.4 L1450.7,630.3 L1451.0,631.3 L1451.3,632.2 L1451.6,633.2 L1451.9,634.1 L1452.3,635.1 L1452.6,636.0 L1452.9,637.0 L1453.3,637.9 L1453.7,638.8 L1454.1,639.7 L1454.5,640.6 L1454.9,641.6 L1455.3,642.5 L1455.8,643.4 L1456.2,644.2 L1456.7,645.1 L1457.2,646.0 L1457.7,646.8 L1458.2,647.6 L1458.8,648.4 L1459.4,649.2 L1460.1,649.9 L1460.8,650.6 L1461.5,651.2 L1462.3,651.8 L1463.1,652.3 L1464.0,652.7 L1464.9,653.1 L1465.8,653.5 L1466.7,653.8 L1467.7,654.1 L1468.6,654.3 L1469.6,654.6 L1470.6,654.8 L1471.5,655.0 L1472.5,655.2 L1473.5,655.4 L1474.5,655.6 L1475.5,655.7 L1476.4,655.9 L1477.4,656.0 L1478.4,656.2 L1479.4,656.3 L1480.4,656.4 L1481.4,656.5 L1482.4,656.6 L1483.4,656.7 L1484.4,656.7 L1485.4,656.8 L1486.4,656.9 L1487.4,656.9 L1488.4,657.0 L1489.4,657.0 L1490.4,657.0 L1491.4,657.1 L1492.4,657.1 L1493.4,657.2 L1494.4,657.2 L1495.4,657.2 L1496.4,657.2 L1497.4,657.3 L1498.4,657.3 L1499.4,657.3 L1500.4,657.4 L1501.4,657.4 L1502.4,657.4 L1503.4,657.4 L1504.4,657.4 L1505.4,657.5 L1506.4,657.5 L1507.4,657.5 L1508.4,657.5 L1509.4,657.5 L1510.4,657.6 L1511.4,657.6 L1512.4,657.6 L1513.4,657.6 L1514.4,657.6 L1515.4,657.6 L1516.4,657.7 L1517.4,657.7 L1518.4,657.7 L1519.4,657.7 L1520.4,657.7 L1521.4,657.7 L1522.4,657.8 L1523.4,657.8 L1524.4,657.8 L1525.4,657.8 L1526.4,657.8 L1527.4,657.9 L1528.4,657.9 L1529.4,657.9 L1530.4,657.9 L1531.4,657.9 L1532.4,658.0 L1533.4,658.0 L1534.4,658.0 L1535.4,658.0 L1536.4,658.1 L1537.4,658.1 L1538.4,658.1 L1539.4,658.1 L1540.4,658.1 L1541.4,658.2 L1542.4,658.2 L1543.4,658.2 L1544.4,658.2 L1545.4,658.2 L1546.4,658.3 L1547.4,658.3 L1548.4,658.3 L1549.4,658.3 L1550.4,658.4 L1551.4,658.4 L1552.4,658.4 L1553.4,658.4 L1554.4,658.4 L1555.4,658.5 L1556.4,658.5 L1557.4,658.5 L1558.4,658.5 L1559.4,658.5 L1560.4,658.6 L1561.4,658.6 L1562.4,658.6 L1563.4,658.6 L1564.4,658.7 L1565.4,658.7 L1566.4,658.7 L1567.4,658.7 L1568.4,658.7 L1569.4,658.8 L1570.4,658.8 L1571.4,658.8 L1572.4,658.8 L1573.4,658.9 L1574.4,658.9 L1575.4,658.9 L1576.4,658.9 L1577.4,659.0 L1578.4,659.0 L1579.4,659.0 L1580.4,659.0 L1581.4,659.1 L1582.4,659.1 L1583.4,659.1 L1584.4,659.1 L1585.4,659.2 L1586.4,659.2 L1587.4,659.2 L1588.4,659.2 L1589.4,659.3 L1590.4,659.3 L1591.4,659.3 L1592.4,659.4 L1593.4,659.4 L1594.4,659.4 L1595.4,659.4 L1596.4,659.5 L1597.4,659.5 L1598.4,659.5 L1599.4,659.6 L1600.4,659.6 L1601.4,659.6 L1602.4,659.7 L1603.4,659.7 L1604.4,659.7 L1605.4,659.8 L1606.4,659.8 L1607.4,659.9 L1608.4,659.9 L1609.4,659.9 L1610.4,660.0 L1611.3,660.0 L1612.3,660.0 L1613.3,660.1 L1614.3,660.1 L1615.3,660.2 L1616.3,660.2 L1617.3,660.3 L1618.3,660.3 L1619.3,660.3 L1620.3,660.4 L1621.3,660.4 L1622.3,660.5 L1623.3,660.5 L1624.3,660.6 L1625.3,660.6 L1626.3,660.7 L1627.3,660.7 L1628.3,660.8 L1629.3,660.8 L1630.3,660.8 L1631.3,660.9 L1632.3,660.9 L1633.3,661.0 L1634.3,661.0 L1635.3,661.1 L1636.3,661.1 L1637.3,661.2 L1638.3,661.2 L1639.3,661.3 L1640.3,661.3 L1641.3,661.4 L1642.3,661.4 L1643.3,661.5 L1644.3,661.5 L1645.3,661.5 L1646.3,661.6 L1647.3,661.6 L1648.3,661.7 L1649.3,661.7 L1650.3,661.8 L1651.3,661.8 L1652.3,661.9 L1653.3,661.9 L1654.3,662.0 L1655.3,662.0 L1656.3,662.0 L1657.3,662.1 L1658.3,662.1 L1659.3,662.2 L1660.3,662.2 L1661.3,662.2 L1662.3,662.3 L1663.3,662.3 L1664.3,662.4 L1665.3,662.4 L1666.3,662.4 L1667.3,662.5 L1668.3,662.5 L1669.3,662.6 L1670.3,662.6 L1671.3,662.6 L1672.3,662.7 L1673.3,662.7 L1674.3,662.7 L1675.3,662.8 L1676.3,662.8 L1677.3,662.9 L1678.3,662.9 L1679.3,662.9 L1680.3,663.0 L1681.3,663.0 L1682.3,663.0 L1683.3,663.1 L1684.3,663.1 L1685.3,663.2 L1686.3,663.2 L1687.3,663.2 L1688.3,663.3 L1689.3,663.3 L1690.3,663.3 L1691.3,663.4 L1692.3,663.4 L1693.3,663.5 L1694.3,663.5 L1695.3,663.5 L1696.3,663.6 L1697.3,663.6 L1698.3,663.6 L1699.3,663.7 L1700.3,663.7 L1701.3,663.7 L1702.3,663.8 L1703.3,663.8 L1704.3,663.8 L1705.3,663.9 L1706.3,663.9 L1707.3,664.0 L1708.3,664.0 L1709.3,664.0 L1710.3,664.1 L1711.3,664.1 L1712.3,664.1 L1713.3,664.2 L1714.3,664.2 L1715.3,664.2 L1716.3,664.3 L1717.3,664.3 L1718.3,664.3 L1719.3,664.4 L1720.3,664.4 L1721.3,664.4 L1722.3,664.5 L1723.3,664.5 L1724.3,664.5 L1725.3,664.6 L1726.3,664.6 L1727.3,664.6 L1728.3,664.7 L1729.3,664.7 L1730.3,664.7 L1731.3,664.8 L1732.3,664.8 L1733.3,664.8 L1734.3,664.9 L1735.3,664.9 L1736.3,664.9 L1737.3,665.0 L1738.2,665.0 L1739.2,665.0 L1740.2,665.1 L1741.2,665.1 L1742.2,665.1 L1743.2,665.2 L1744.2,665.2 L1745.2,665.2 L1746.2,665.3 L1747.2,665.3 L1748.2,665.3 L1749.2,665.3 L1750.2,665.4 L1751.2,665.4 L1752.2,665.4 L1753.2,665.5 L1754.2,665.5 L1755.2,665.5 L1756.2,665.6 L1757.2,665.6 L1758.2,665.6 L1759.2,665.7 L1760.2,665.7 L1761.2,665.7 L1762.2,665.7 L1763.2,665.8" stroke="#0000ff" stroke-width="3"/>
<path d="M1002.7,108.7 L1003.7,108.7 L1004.7,108.7 L1005.7,108.7 L1006.7,108.8 L1007.7,108.8 L1008.7,108.8 L1009.7,108.8 L1010.7,108.8 L1011.7,108.8 L1012.7,108.8 L1013.7,108.9 L1014.7,108.9 L1015.7,108.9 L1016.7,108.9 L1017.7,108.9 L1018.7,108.9 L1019.7,108.9 L1020.7,109.0 L1021.7,109.0 L1022.7,109.0 L1023.7,109.0 L1024.7,109.0 L1025.7,109.0 L1026.7,109.1 L1027.7,109.1 L1028.7,109.1 L1029.7,109.1 L1030.7,109.1 L1031.7,109.1 L1032.7,109.2 L1033.7,109.2 L1034.7,109.2 L1035.7,109.2 L1036.7,109.2 L1037.7,109.2 L1038.7,109.3 L1039.7,109.3 L1040.7,109.3 L1041.7,109.3 L1042.7,109.3 L1043.7,109.3 L1044.7,109.4 L1045.7,109.4 L1046.7,109.4 L1047.7,109.4 L1048.7,109.4 L1049.7,109.5 L1050.7,109.5 L1051.7,109.5 L1052.7,109.5 L1053.7,109.5 L1054.7,109.6 L1055.7,109.6 L1056.7,109.6 L1057.7,109.6 L1058.7,109.6 L1059.7,109.7 L1060.7,109.7 L1061.7,109.7 L1062.7,109.7 L1063.7,109.7 L1064.7,109.8 L1065.7,109.8 L1066.7,109.8 L1067.7,109.8 L1068.7,109.8 L1069.7,109.9 L1070.7,109.9 L1071.7,109.9 L1072.7,109.9 L1073.7,109.9 L1074.7,110.0 L1075.7,110.0 L1076.7,110.0 L1077.7,110.0 L1078.7,110.0 L1079.7,110.1 L1080.7,110.1 L1081.7,110.1 L1082.7,110.1 L1083.7,110.2 L1084.7,110.2 L1085.7,110.2 L1086.7,110.2 L1087.7,110.2 L1088.7,110.3 L1089.7,110.3 L1090.7,110.3 L1091.7,110.3 L1092.7,110.4 L1093.7,110.4 L1094.7,110.4 L1095.7,110.4 L1096.7,110.4 L1097.7,110.5 L1098.7,110.5 L1099.7,110.5 L1100.7,110.5 L1101.7,110.6 L1102.7,110.6 L1103.7,110.6 L1104.7,110.6 L1105.7,110.7 L1106.7,110.7 L1107.7,110.7 L1108.7,110.7 L1109.7,110.8 L1110.7,110.8 L1111.7,110.8 L1112.7,110.8 L1113.7,110.9 L1114.7,110.9 L1115.7,110.9 L1116.7,111.0 L1117.7,111.0 L1118.7,111.0 L1119.7,111.0 L1120.7,111.1 L1121.7,111.1 L1122.7,111.1 L1123.7,111.2 L1124.7,111.2 L1125.7,111.2 L1126.7,111.2 L1127.7,111.3 L1128.7,111.3 L1129.7,111.3 L1130.7,111.4 L1131.7,111.4 L1132.7,111.4 L1133.7,111.4 L1134.7,111.5 L1135.7,111.5 L1136.7,111.5 L1137.7,111.6 L1138.7,111.6 L1139.7,111.6 L1140.7,111.6 L1141.7,111.7 L1142.7,111.7 L1143.7,111.7 L1144.7,111.8 L1145.7,111.8 L1146.7,111.8 L1147.7,111.8 L1148.7,111.9 L1149.7,111.9 L1150.7,111.9 L1151.7,112.0 L1152.7,112.0 L1153.7,112.0 L1154.7,112.1 L1155.7,112.1 L1156.7,112.1 L1157.7,112.1 L1158.7,112.2 L1159.7,112.2 L1160.7,112.2 L1161.7,112.3 L1162.7,112.3 L1163.7,112.3 L1164.7,112.4 L1165.7,112.4 L1166.7,112.4 L1167.7,112.5 L1168.7,112.5 L1169.7,112.5 L1170.7,112.6 L1171.7,112.6 L1172.7,112.7 L1173.6,112.7 L1174.6,112.7 L1175.6,112.8 L1176.6,112.8 L1177.6,112.9 L1178.6,112.9 L1179.6,112.9 L1180.6,113.0 L1181.6,113.0 L1182.6,113.1 L1183.6,113.1 L1184.6,113.2 L1185.6,113.2 L1186.6,113.3 L1187.6,113.3 L1188.6,113.4 L1189.6,113.4 L1190.6,113.5 L1191.6,113.5 L1192.6,113.6 L1193.6,113.7 L1194.6,113.7 L1195.6,113.8 L1196.6,113.9 L1197.6,113.9 L1198.6,114.0 L1199.6,114.1 L1200.6,114.2 L1201.6,114.3 L1202.6,114.3 L1203.6,114.4 L1204.6,114.6 L1205.6,114.7 L1206.6,114.8 L1207.6,114.9 L1208.6,115.1 L1209.5,115.2 L1210.5,115.4 L1211.5,115.5 L1212.5,115.7 L1213.5,115.9 L1214.5,116.1 L1215.4,116.3 L1216.4,116.5 L1217.4,116.7 L1218.4,116.9 L1219.3,117.2 L1220.3,117.4 L1221.3,117.6 L1222.3,117.9 L1223.2,118.1 L1224.2,118.4 L1225.1,118.7 L1226.1,118.9 L1227.1,119.2 L1228.0,119.5 L1229.0,119.9 L1229.9,120.2 L1230.8,120.5 L1231.8,120.9 L1232.7,121.3 L1233.6,121.6 L1234.5,122.0 L1235.4,122.5 L1236.3,122.9 L1237.2,123.3 L1238.1,123.8 L1239.0,124.2 L1239.9,124.7 L1240.8,125.2 L1241.6,125.7 L1242.5,126.3 L1243.3,126.8 L1244.1,127.4 L1244.9,127.9 L1245.7,128.5 L1246.5,129.1 L1247.3,129.8 L1248.1,130.4 L1248.8,131.0 L1249.6,131.7 L1250.3,132.4 L1251.0,133.1 L1251.7,133.8 L1252.4,134.5 L1253.1,135.3 L1253.7,136.0 L1254.4,136.8 L1255.0,137.5 L1255.6,138.3 L1256.3,139.1 L1256.9,139.9 L1257.5,140.7 L1258.1,141.5 L1258.6,142.3 L1259.2,143.2 L1259.8,144.0 L1260.3,144.8 L1260.8,145.7 L1261.4,146.5 L1261.9,147.4 L1262.4,148.2 L1262.9,149.1 L1263.4,150.0 L1263.9,150.8 L1264.3,151.7 L1264.8,152.6 L1265.3,153.5 L1265.7,154.4 L1266.2,155.3 L1266.6,156.2 L1267.1,157.1 L1267.5,158.0 L1268.0,158.8 L1268.4,159.7 L1268.8,160.6 L1269.3,161.5 L1269.7,162.4 L1270.2,163.3 L1270.6,164.2 L1271.1,165.1 L1271.5,166.0 L1272.0,166.9 L1272.4,167.8 L1272.9,168.7 L1273.3,169.6 L1273.8,170.5 L1274.2,171.4 L1274.7,172.2 L1275.1,173.1 L1275.6,174.0 L1276.0,174.9 L1276.5,175.8 L1276.9,176.7 L1277.4,177.6 L1277.8,178.5 L1278.3,179.4 L1278.7,180.3 L1279.2,181.2 L1279.6,182.1 L1280.1,183.0 L1280.5,183.9 L1280.9,184.8 L1281.4,185.7 L1281.8,186.6 L1282.2,187.5 L1282.7,188.4 L1283.1,189.3 L1283.5,190.2 L1284.0,191.1 L1284.4,192.0 L1284.8,192.9 L1285.2,193.8 L1285.6,194.7 L1286.0,195.6 L1286.4,196.6 L1286.9,197.5 L1287.3,198.4 L1287.7,199.3 L1288.1,200.2 L1288.5,201.1 L1288.9,202.0 L1289.3,202.9 L1289.7,203.9 L1290.1,204.8 L1290.5,205.7 L1290.9,206.6 L1291.3,207.5 L1291.8,208.4 L1292.2,209.3 L1292.6,210.2 L1293.0,211.1 L1293.4,212.0 L1293.9,213.0 L1294.3,213.9 L1294.7,214.8 L1295.1,215.7 L1295.6,216.6 L1296.0,217.5 L1296.4,218.4 L1296.8,219.3 L1297.3,220.2 L1297.7,221.1 L1298.1,222.0 L1298.6,222.9 L1299.0,223.8 L1299.4,224.7 L1299.9,225.6 L1300.3,226.5 L1300.8,227.4 L1301.2,228.3 L1301.7,229.2 L1302.1,230.1 L1302.6,230.9 L1303.1,231.8 L1303.5,232.7 L1304.0,233.6 L1304.5,234.4 L1305.0,235.3 L1305.5,236.2 L1306.0,237.0 L1306.6,237.9 L1307.1,238.7 L1307.6,239.6 L1308.2,240.4 L1308.7,241.3 L1309.3,242.1 L1309.8,242.9 L1310.4,243.7 L1311.0,244.6 L1311.5,245.4 L1312.1,246.2 L1312.7,247.0 L1313.3,247.8 L1313.8,248.7 L1314.4,249.5 L1315.0,250.3 L1315.5,251.1 L1316.1,252.0 L1316.6,252.8 L1317.1,253.7 L1317.7,254.5 L1318.2,255.4 L1318.7,256.2 L1319.2,257.1 L1319.7,257.9 L1320.2,258.8 L1320.7,259.7 L1321.2,260.5 L1321.7,261.4 L1322.2,262.3 L1322.7,263.2 L1323.2,264.0 L1323.6,264.9 L1324.1,265.8 L1324.6,266.7 L1325.1,267.5 L1325.6,268.4 L1326.0,269.3 L1326.5,270.2 L1327.0,271.1 L1327.5,271.9 L1328.0,272.8 L1328.4,273.7 L1328.9,274.6 L1329.4,275.4 L1329.9,276.3 L1330.4,277.2 L1330.9,278.1 L1331.4,278.9 L1331.8,279.8 L1332.3,280.7 L1332.8,281.6 L1333.3,282.4 L1333.8,283.3 L1334.3,284.2 L1334.8,285.0 L1335.2,285.9 L1335.7,286.8 L1336.2,287.7 L1336.7,288.5 L1337.2,289.4 L1337.7,290.3 L1338.2,291.2 L1338.6,292.0 L1339.1,292.9 L1339.6,293.8 L1340.1,294.7 L1340.6,295.5 L1341.1,296.4 L1341.6,297.3 L1342.1,298.1 L1342.6,299.0 L1343.1,299.9 L1343.5,300.8 L1344.0,301.6 L1344.5,302.5 L1345.0,303.4 L1345.5,304.2 L1346.0,305.1 L1346.5,306.0 L1347.0,306.8 L1347.5,307.7 L1348.0,308.6 L1348.5,309.5 L1349.0,310.3 L1349.5,311.2 L1350.0,312.1 L1350.4,312.9 L1350.9,313.8 L1351.4,314.7 L1351.9,315.5 L1352.4,316.4 L1352.9,317.3 L1353.4,318.2 L1353.9,319.0 L1354.4,319.9 L1354.9,320.8 L1355.4,321.6 L1355.9,322.5 L1356.4,323.3 L1356.9,324.2 L1357.4,325.1 L1357.9,325.9 L1358.5,326.8 L1359.0,327.6 L1359.5,328.5 L1360.0,329.3 L1360.6,330.2 L1361.1,331.0 L1361.6,331.9 L1362.2,332.7 L1362.7,333.6 L1363.2,334.4 L1363.8,335.2 L1364.4,336.1 L1364.9,336.9 L1365.5,337.7 L1366.1,338.5 L1366.7,339.3 L1367.4,340.1 L1368.0,340.8 L1368.6,341.6 L1369.3,342.3 L1370.0,343.0 L1370.7,343.8 L1371.4,344.5 L1372.1,345.2 L1372.8,345.9 L1373.5,346.6 L1374.3,347.2 L1375.0,347.9 L1375.7,348.6 L1376.5,349.3 L1377.2,349.9 L1378.0,350.6 L1378.8,351.2 L1379.5,351.9 L1380.3,352.5 L1381.1,353.1 L1381.8,353.8 L1382.6,354.4 L1383.4,355.0 L1384.2,355.6 L1385.0,356.2 L1385.8,356.8 L1386.6,357.4 L1387.4,358.0 L1388.2,358.6 L1389.0,359.2 L1389.8,359.8 L1390.6,360.4 L1391.5,360.9 L1392.3,361.5 L1393.1,362.1 L1393.9,362.6 L1394.8,363.2 L1395.6,363.7 L1396.4,364.3 L1397.3,364.8 L1398.1,365.4 L1398.9,366.0 L1399.8,366.5 L1400.6,367.1 L1401.4,367.6 L1402.2,368.2 L1403.0,368.8 L1403.9,369.4 L1404.7,370.0 L1405.5,370.5 L1406.3,371.1 L1407.1,371.7 L1407.9,372.3 L1408.7,372.9 L1409.5,373.5 L1410.3,374.1 L1411.1,374.7 L1411.9,375.3 L1412.7,375.9 L1413.5,376.6 L1414.2,377.2 L1415.0,377.8 L1415.8,378.5 L1416.5,379.1 L1417.3,379.8 L1418.0,380.5 L1418.7,381.1 L1419.5,381.8 L1420.2,382.5 L1420.9,383.2 L1421.6,383.9 L1422.3,384.6 L1423.0,385.4 L1423.7,386.1 L1424.4,386.8 L1425.0,387.6 L1425.7,388.3 L1426.3,389.1 L1427.0,389.9 L1427.6,390.7 L1428.2,391.4 L1428.8,392.3 L1429.3,393.1 L1429.9,393.9 L1430.5,394.7 L1431.0,395.5 L1431.6,396.4 L1432.1,397.2 L1432.7,398.1 L1433.2,398.9 L1433.7,399.8 L1434.2,400.6 L1434.8,401.5 L1435.3,402.3 L1435.8,403.2 L1436.3,404.1 L1436.8,404.9 L1437.3,405.8 L1437.8,406.7 L1438.2,407.5 L1438.7,408.4 L1439.2,409.3 L1439.7,410.2 L1440.1,411.1 L1440.6,411.9 L1441.1,412.8 L1441.5,413.7 L1442.0,414.6 L1442.5,415.5 L1442.9,416.4 L1443.4,417.3 L1443.8,418.2 L1444.3,419.0 L1444.7,419.9 L1445.2,420.8 L1445.7,421.7 L1446.1,422.6 L1446.6,423.5 L1447.0,424.4 L1447.5,425.3 L1447.9,426.2 L1448.4,427.1 L1448.8,428.0 L1449.3,428.9 L1449.7,429.7 L1450.1,430.6 L1450.6,431.5 L1451.0,432.4 L1451.4,433.4 L1451.9,434.3 L1452.3,435.2 L1452.7,436.1 L1453.2,437.0 L1453.6,437.9 L1454.1,438.8 L1454.5,439.7 L1454.9,440.5 L1455.4,441.4 L1455.9,442.3 L1456.3,443.2 L1456.8,444.1 L1457.3,445.0 L1457.8,445.8 L1458.3,446.7 L1458.8,447.5 L1459.3,448.4 L1459.9,449.2 L1460.5,450.0 L1461.0,450.8 L1461.6,451.6 L1462.3,452.4 L1462.9,453.2 L1463.6,453.9 L1464.2,454.7 L1464.9,455.4 L1465.6,456.1 L1466.3,456.9 L1467.0,457.6 L1467.7,458.3 L1468.4,459.0 L1469.0,459.7 L1469.7,460.5 L1470.4,461.2 L1471.0,462.0 L1471.7,462.7 L1472.3,463.5 L1472.9,464.3 L1473.5,465.1 L1474.1,465.9 L1474.7,466.7 L1475.4,467.5 L1476.0,468.2 L1476.7,468.9 L1477.4,469.6 L1478.1,470.3 L1478.8,470.9 L1479.6,471.5 L1480.4,472.1 L1481.3,472.6 L1482.2,473.1 L1483.0,473.5 L1483.9,474.0 L1484.8,474.4 L1485.7,474.9 L1486.6,475.3 L1487.5,475.7 L1488.4,476.1 L1489.4,476.5 L1490.3,476.9 L1491.2,477.3 L1492.1,477.7 L1493.0,478.1 L1493.9,478.5 L1494.9,478.9 L1495.8,479.2 L1496.7,479.5 L1497.7,479.8 L1498.6,480.1 L1499.6,480.4 L1500.6,480.7 L1501.5,480.9 L1502.5,481.1 L1503.5,481.3 L1504.5,481.5 L1505.5,481.7 L1506.4,481.9 L1507.4,482.1 L1508.4,482.3 L1509.4,482.4 L1510.4,482.6 L1511.4,482.8 L1512.4,482.9 L1513.3,483.1 L1514.3,483.2 L1515.3,483.3 L1516.3,483.5 L1517.3,483.6 L1518.3,483.8 L1519.3,483.9 L1520.3,484.0 L1521.3,484.2 L1522.3,484.3 L1523.2,484.4 L1524.2,484.6 L1525.2,484.7 L1526.2,484.8 L1527.2,484.9 L1528.2,485.1 L1529.2,485.2 L1530.2,485.3 L1531.2,485.4 L1532.2,485.5 L1533.2,485.6 L1534.2,485.7 L1535.2,485.9 L1536.2,486.0 L1537.1,486.1 L1538.1,486.2 L1539.1,486.3 L1540.1,486.4 L1541.1,486.5 L1542.1,486.6 L1543.1,486.7 L1544.1,486.9 L1545.1,487.0 L1546.1,487.1 L1547.1,487.2 L1548.1,487.3 L1549.1,487.4 L1550.1,487.5 L1551.1,487.6 L1552.1,487.8 L1553.0,487.9 L1554.0,488.0 L1555.0,488.1 L1556.0,488.2 L1557.0,488.3 L1558.0,488.4 L1559.0,488.6 L1560.0,488.7 L1561.0,488.8 L1562.0,488.9 L1563.0,489.0 L1564.0,489.1 L1565.0,489.2 L1566.0,489.3 L1567.0,489.5 L1567.9,489.6 L1568.9,489.7 L1569.9,489.8 L1570.9,489.9 L1571.9,490.0 L1572.9,490.1 L1573.9,490.2 L1574.9,490.3 L1575.9,490.4 L1576.9,490.6 L1577.9,490.7 L1578.9,490.8 L1579.9,490.9 L1580.9,491.0 L1581.9,491.1 L1582.9,491.2 L1583.9,491.3 L1584.8,491.4 L1585.8,491.5 L1586.8,491.6 L1587.8,491.7 L1588.8,491.8 L1589.8,491.9 L1590.8,492.1 L1591.8,492.2 L1592.8,492.3 L1593.8,492.4 L1594.8,492.5 L1595.8,492.6 L1596.8,492.7 L1597.8,492.8 L1598.8,492.9 L1599.8,493.0 L1600.8,493.1 L1601.8,493.2 L1602.8,493.3 L1603.7,493.4 L1604.7,493.5 L1605.7,493.6 L1606.7,493.7 L1607.7,493.8 L1608.7,493.9 L1609.7,494.0 L1610.7,494.1 L1611.7,494.2 L1612.7,494.3 L1613.7,494.4 L1614.7,494.5 L1615.7,494.6 L1616.7,494.7 L1617.7,494.8 L1618.7,494.9 L1619.7,495.0 L1620.7,495.0 L1621.7,495.1 L1622.7,495.2 L1623.6,495.3 L1624.6,495.4 L1625.6,495.5 L1626.6,495.6 L1627.6,495.7 L1628.6,495.8 L1629.6,495.9 L1630.6,496.0 L1631.6,496.1 L1632.6,496.2 L1633.6,496.3 L1634.6,496.4 L1635.6,496.5 L1636.6,496.6 L1637.6,496.7 L1638.6,496.8 L1639.6,496.9 L1640.6,497.0 L1641.6,497.1 L1642.6,497.2 L1643.6,497.3 L1644.5,497.4 L1645.5,497.5 L1646.5,497.6 L1647.5,497.7 L1648.5,497.8 L1649.5,497.9 L1650.5,498.0 L1651.5,498.1 L1652.5,498.2 L1653.5,498.3 L1654.5,498.4 L1655.5,498.5 L1656.5,498.6 L1657.5,498.7 L1658.5,498.8 L1659.5,498.9 L1660.5,499.0 L1661.5,499.1 L1662.5,499.2 L1663.4,499.3 L1664.4,499.5 L1665.4,499.6 L1666.4,499.7 L1667.4,499.8 L1668.4,499.9 L1669.4,500.0 L1670.4,500.1 L1671.4,500.2 L1672.4,500.3 L1673.4,500.4 L1674.4,500.5 L1675.4,500.6 L1676.4,500.7 L1677.4,500.8 L1678.4,500.9 L1679.4,501.0 L1680.4,501.1 L1681.4,501.2 L1682.3,501.3 L1683.3,501.4 L1684.3,501.5 L1685.3,501.6 L1686.3,501.7 L1687.3,501.8 L1688.3,501.9 L1689.3,502.0 L1690.3,502.2 L1691.3,502.3 L1692.3,502.4 L1693.3,502.5 L1694.3,502.6 L1695.3,502.7 L1696.3,502.8 L1697.3,502.9 L1698.3,503.0 L1699.2,503.1 L1700.2,503.2 L1701.2,503.3 L1702.2,503.4 L1703.2,503.6 L1704.2,503.7 L1705.2,503.8 L1706.2,503.9 L1707.2,504.0 L1708.2,504.1 L1709.2,504.2 L1710.2,504.3 L1711.2,504.4 L1712.2,504.5 L1713.2,504.7 L1714.2,504.8 L1715.2,504.9 L1716.1,505.0 L1717.1,505.1 L1718.1,505.2 L1719.1,505.3 L1720.1,505.4 L1721.1,505.6 L1722.1,505.7 L1723.1,505.8 L1724.1,505.9 L1725.1,506.0 L1726.1,506.1 L1727.1,506.2 L1728.1,506.3 L1729.1,506.5 L1730.1,506.6 L1731.1,506.7 L1732.0,506.8 L1733.0,506.9 L1734.0,507.0 L1735.0,507.1 L1736.0,507.3 L1737.0,507.4 L1738.0,507.5 L1739.0,507.6 L1740.0,507.7 L1741.0,507.8 L1742.0,508.0 L1743.0,508.1 L1744.0,508.2 L1745.0,508.3 L1745.9,508.4 L1746.9,508.5 L1747.9,508.7 L1748.9,508.8 L1749.9,508.9 L1750.9,509.0 L1751.9,509.1 L1752.9,509.2 L1753.9,509.4 L1754.9,509.5 L1755.9,509.6 L1756.9,509.7 L1757.9,509.8 L1758.9,510.0 L1759.9,510.1 L1760.8,510.2 L1761.8,510.3 L1762.8,510.4 L1763.8,510.6" stroke="#ff0000" stroke-width="3"/>
<line x1="1002.7" y1="107.5" x2="1764.2" y2="107.5" stroke="#000" stroke-width="3.5"/>
</g>
<rect x="1002.7" y="6.8" width="761.5" height="761.2" fill="none" stroke="#000" stroke-width="3.2" stroke-linejoin="round"/>
<line x1="1043" y1="605.7" x2="1113.5" y2="605.7" stroke="#000" stroke-width="4.6"/>
<line x1="1043" y1="659.4" x2="1113.5" y2="659.4" stroke="#0000ff" stroke-width="4.6"/>
<line x1="1043" y1="710.1" x2="1113.5" y2="710.1" stroke="#ff0000" stroke-width="4.6"/>
</g>
<g id="labels">
<text x="145.1" y="807.0" font-size="30.3" fill="#000" text-anchor="start" font-family="'Liberation Sans', Arial, sans-serif" font-weight="bold" textLength="32.9" lengthAdjust="spacingAndGlyphs">20</text>
<text x="296.7" y="807.0" font-size="30.3" fill="#000" text-anchor="start" font-family="'Liberation Sans', Arial, sans-serif" font-weight="bold" textLength="32.9" lengthAdjust="spacingAndGlyphs">30</text>
<text x="448.3" y="807.0" font-size="30.3" fill="#000" text-anchor="start" font-family="'Liberation Sans', Arial, sans-serif" font-weight="bold" textLength="32.9" lengthAdjust="spacingAndGlyphs">40</text>
<text x="599.9" y="807.0" font-size="30.3" fill="#000" text-anchor="start" font-family="'Liberation Sans', Arial, sans-serif" font-weight="bold" textLength="32.9" lengthAdjust="spacingAndGlyphs">50</text>
<text x="751.6" y="807.0" font-size="30.3" fill="#000" text-anchor="start" font-family="'Liberation Sans', Arial, sans-serif" font-weight="bold" textLength="32.9" lengthAdjust="spacingAndGlyphs">60</text>
<text x="1042.6" y="809.0" font-size="30.3" fill="#000" text-anchor="start" font-family="'Liberation Sans', Arial, sans-serif" font-weight="bold" textLength="49.3" lengthAdjust="spacingAndGlyphs">100</text>
<text x="1149.9" y="809.0" font-size="30.3" fill="#000" text-anchor="start" font-family="'Liberation Sans', Arial, sans-serif" font-weight="bold" textLength="49.3" lengthAdjust="spacingAndGlyphs">200</text>
<text x="1257.1" y="809.0" font-size="30.3" fill="#000" text-anchor="start" font-family="'Liberation Sans', Arial, sans-serif" font-weight="bold" textLength="49.3" lengthAdjust="spacingAndGlyphs">300</text>
<text x="1364.4" y="809.0" font-size="30.3" fill="#000" text-anchor="start" font-family="'Liberation Sans', Arial, sans-serif" font-weight="bold" textLength="49.3" lengthAdjust="spacingAndGlyphs">400</text>
<text x="1471.6" y="809.0" font-size="30.3" fill="#000" text-anchor="start" font-family="'Liberation Sans', Arial, sans-serif" font-weight="bold" textLength="49.3" lengthAdjust="spacingAndGlyphs">500</text>
<text x="1578.9" y="809.0" font-size="30.3" fill="#000" text-anchor="start" font-family="'Liberation Sans', Arial, sans-serif" font-weight="bold" textLength="49.3" lengthAdjust="spacingAndGlyphs">600</text>
<text x="1686.1" y="809.0" font-size="30.3" fill="#000" text-anchor="start" font-family="'Liberation Sans', Arial, sans-serif" font-weight="bold" textLength="49.3" lengthAdjust="spacingAndGlyphs">700</text>
<text x="972.0" y="677.1" font-size="30.3" fill="#000" text-anchor="start" font-family="'Liberation Sans', Arial, sans-serif" font-weight="bold" textLength="16.4" lengthAdjust="spacingAndGlyphs">0</text>
<text x="955.5" y="565.0" font-size="30.3" fill="#000" text-anchor="start" font-family="'Liberation Sans', Arial, sans-serif" font-weight="bold" textLength="32.9" lengthAdjust="spacingAndGlyphs">20</text>
<text x="955.5" y="453.0" font-size="30.3" fill="#000" text-anchor="start" font-family="'Liberation Sans', Arial, sans-serif" font-weight="bold" textLength="32.9" lengthAdjust="spacingAndGlyphs">40</text>
<text x="955.5" y="340.9" font-size="30.3" fill="#000" text-anchor="start" font-family="'Liberation Sans', Arial, sans-serif" font-weight="bold" textLength="32.9" lengthAdjust="spacingAndGlyphs">60</text>
<text x="955.5" y="228.9" font-size="30.3" fill="#000" text-anchor="start" font-family="'Liberation Sans', Arial, sans-serif" font-weight="bold" textLength="32.9" lengthAdjust="spacingAndGlyphs">80</text>
<text x="939.1" y="116.8" font-size="30.3" fill="#000" text-anchor="start" font-family="'Liberation Sans', Arial, sans-serif" font-weight="bold" textLength="49.3" lengthAdjust="spacingAndGlyphs">100</text>
<text x="615.89" y="143.3" font-size="34" fill="#808000" text-anchor="start" font-family="'Liberation Sans', Arial, sans-serif" font-weight="bold" textLength="213.8" lengthAdjust="spacingAndGlyphs">Pristine Ag<tspan font-size="21" dy="7">2</tspan><tspan dy="-7">Se</tspan></text>
<text x="743.89" y="326.9" font-size="34" fill="#008000" text-anchor="start" font-family="'Liberation Sans', Arial, sans-serif" font-weight="bold" textLength="79.2" lengthAdjust="spacingAndGlyphs">AS30</text>
<text x="743.90" y="415.4" font-size="34" fill="#0000ff" text-anchor="start" font-family="'Liberation Sans', Arial, sans-serif" font-weight="bold" textLength="79.2" lengthAdjust="spacingAndGlyphs">AS20</text>
<text x="742.50" y="499.9" font-size="34" fill="#ff0000" text-anchor="start" font-family="'Liberation Sans', Arial, sans-serif" font-weight="bold" textLength="79.4" lengthAdjust="spacingAndGlyphs">AS10</text>
<text x="653.70" y="588.2" font-size="34" fill="#000000" text-anchor="start" font-family="'Liberation Sans', Arial, sans-serif" font-weight="bold" textLength="172.6" lengthAdjust="spacingAndGlyphs">Cured resin</text>
<text x="97.50" y="698.0" font-size="34" fill="#000000" text-anchor="start" font-family="'Liberation Sans', Arial, sans-serif" font-weight="bold" textLength="226.4" lengthAdjust="spacingAndGlyphs">JCPDS 24-1041</text>
<text x="1130.49" y="615.6" font-size="34" fill="#000000" text-anchor="start" font-family="'Liberation Sans', Arial, sans-serif" font-weight="bold" textLength="215.0" lengthAdjust="spacingAndGlyphs">Pristine Ag<tspan font-size="21" dy="7">2</tspan><tspan dy="-7">Se</tspan></text>
<text x="1130.09" y="668.2" font-size="34" fill="#0000ff" text-anchor="start" font-family="'Liberation Sans', Arial, sans-serif" font-weight="bold" textLength="174.8" lengthAdjust="spacingAndGlyphs">Cured resin</text>
<text x="1129.50" y="720.0" font-size="34" fill="#ff0000" text-anchor="start" font-family="'Liberation Sans', Arial, sans-serif" font-weight="bold" textLength="79.0" lengthAdjust="spacingAndGlyphs">AS30</text>
<text x="363.69" y="870.3" font-size="38" fill="#000000" text-anchor="start" font-family="'Liberation Sans', Arial, sans-serif" font-weight="bold" textLength="202.0" lengthAdjust="spacingAndGlyphs">2<tspan font-family="'Liberation Serif', serif" font-weight="normal">θ</tspan> (degree)</text>
<text x="1231.50" y="870.0" font-size="38" fill="#000000" text-anchor="start" font-family="'Liberation Sans', Arial, sans-serif" font-weight="bold" textLength="305.4" lengthAdjust="spacingAndGlyphs">Temperature (°C)</text>
<text transform="translate(39.5,515.4) rotate(-90)" font-size="38.5" font-family="'Liberation Sans', Arial, sans-serif" font-weight="bold" textLength="259.5" lengthAdjust="spacingAndGlyphs">Intensity (a.u.)</text>
<text transform="translate(910.6,490.7) rotate(-90)" font-size="38.3" font-family="'Liberation Sans', Arial, sans-serif" font-weight="bold" textLength="196.4" lengthAdjust="spacingAndGlyphs">Weight (%)</text>
<text x="3.7" y="48.3" font-size="50.8" font-family="'Liberation Sans', Arial, sans-serif" font-weight="bold">(<tspan font-size="57" dx="1.2" dy="3.0">a</tspan><tspan dx="0.2" dy="-3.0">)</tspan></text>
<text x="913.8" y="48.3" font-size="50.8" font-family="'Liberation Sans', Arial, sans-serif" font-weight="bold">(<tspan font-size="56" dx="1.3" dy="1.9">b</tspan><tspan dx="1.7" dy="-1.9">)</tspan></text>
</g>
</svg>
</body>
</html>
